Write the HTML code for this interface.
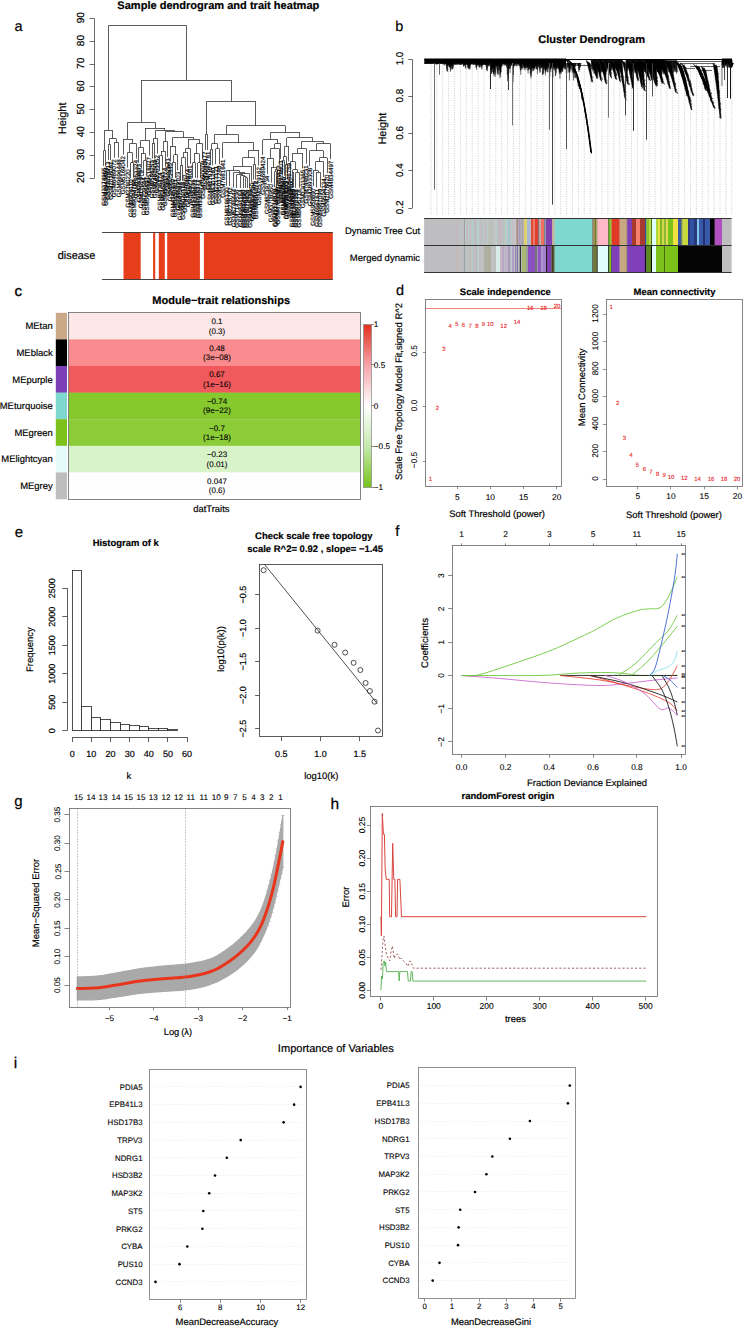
<!DOCTYPE html>
<html><head><meta charset="utf-8"><style>
html,body{margin:0;padding:0;background:#fff;}
svg{display:block;}
text{font-family:"Liberation Sans", sans-serif;text-rendering:geometricPrecision;}
</style></head><body>
<svg width="745" height="1327" viewBox="0 0 745 1327">
<rect x="0" y="0" width="745" height="1327" fill="#fff"/>
<path d="M103.50,150.50L105.77,150.50M103.50,150.74L103.50,166.02M105.50,150.74L105.50,166.02M108.17,144.50L110.57,144.50M108.50,144.78L108.50,160.05M110.50,144.78L110.50,160.05M114.00,142.50L118.50,142.50M114.50,142.41L114.50,157.68M118.50,142.41L118.50,157.68M109.37,138.50L116.25,138.50M109.50,138.66L109.50,144.78M116.50,138.66L116.50,142.41M104.64,130.50L112.81,130.50M104.50,130.22L104.50,150.74M112.50,130.22L112.50,138.66M130.89,162.50L133.46,162.50M130.50,162.52L130.50,177.80M133.50,162.52L133.50,177.80M127.50,152.50L132.17,152.50M127.50,152.42L127.50,167.70M132.50,152.42L132.50,162.52M129.84,143.50L136.03,143.50M129.50,143.35L129.50,152.42M136.50,143.35L136.50,158.62M123.00,139.50L132.93,139.50M123.50,139.34L123.50,154.62M132.50,139.34L132.50,143.35M143.85,160.50L146.59,160.50M143.50,160.39L143.50,175.67M146.50,160.39L146.50,175.67M141.17,153.50L145.22,153.50M141.50,153.34L141.50,168.61M145.50,153.34L145.50,160.39M138.60,147.50L143.20,147.50M138.50,147.37L138.50,162.65M143.50,147.37L143.50,153.34M140.90,140.50L149.32,140.50M140.50,140.25L140.50,147.37M149.50,140.25L149.50,155.53M152.06,143.50L154.79,143.50M152.50,143.32L152.50,158.60M154.50,143.32L154.50,158.60M153.43,138.50L157.38,138.50M153.50,138.20L153.50,143.32M157.50,138.20L157.50,153.48M159.93,155.50L162.47,155.50M159.50,155.57L159.50,170.85M162.50,155.57L162.50,170.85M161.20,151.50L165.02,151.50M161.50,151.03L161.50,155.57M165.50,151.03L165.50,166.30M163.11,141.50L167.57,141.50M163.50,141.62L163.50,151.03M167.50,141.62L167.50,156.90M172.66,162.50L175.20,162.50M172.50,162.38L172.50,177.66M175.50,162.38L175.50,177.66M173.93,154.50L177.75,154.50M173.50,155.00L173.50,162.38M177.50,155.00L177.50,170.27M170.11,146.50L175.84,146.50M170.50,146.18L170.50,161.46M175.50,146.18L175.50,155.00M180.30,165.50L182.84,165.50M180.50,165.29L180.50,180.57M182.50,165.29L182.50,180.57M181.57,157.50L185.39,157.50M181.50,157.69L181.50,165.29M185.50,157.69L185.50,172.97M183.48,152.50L187.89,152.50M183.50,152.32L183.50,157.69M187.50,152.32L187.50,167.60M185.69,148.50L190.37,148.50M185.50,148.46L185.50,152.32M190.50,148.46L190.50,163.74M192.84,162.50L195.32,162.50M192.50,162.61L192.50,177.89M195.50,162.61L195.50,177.89M197.80,162.50L200.27,162.50M197.50,162.92L197.50,178.20M200.50,162.92L200.50,178.20M194.08,153.50L199.04,153.50M194.50,153.59L194.50,162.61M199.50,153.59L199.50,162.92M196.56,143.50L202.75,143.50M196.50,143.90L196.50,153.59M202.50,143.90L202.50,159.18M188.03,139.50L199.65,139.50M188.50,139.34L188.50,148.46M199.50,139.34L199.50,143.90M172.98,137.50L193.84,137.50M172.50,137.29L172.50,146.18M193.50,137.29L193.50,139.34M165.34,131.50L183.41,131.50M165.50,131.82L165.50,141.62M183.50,131.82L183.50,137.29M155.40,130.50L174.37,130.50M155.50,130.45L155.50,138.20M174.50,130.45L174.50,131.82M145.11,128.50L164.89,128.50M145.50,128.17L145.50,140.25M164.50,128.17L164.50,130.45M127.97,122.50L155.00,122.50M127.50,122.24L127.50,139.34M155.50,122.24L155.50,128.17M205.23,134.50L207.73,134.50M205.50,134.78L205.50,150.06M207.50,134.78L207.50,150.06M210.27,149.50L212.80,149.50M210.50,149.92L210.50,165.20M212.50,149.92L212.50,165.20M215.82,148.50L219.36,148.50M215.50,148.90L215.50,164.17M219.50,148.90L219.50,164.17M211.53,143.50L217.59,143.50M211.50,143.90L211.50,149.92M217.50,143.90L217.50,148.90M226.44,170.50L229.96,170.50M226.50,170.57L226.50,185.85M229.50,170.57L229.50,185.85M245.34,177.50L247.39,177.50M245.50,177.98L245.50,188.00M247.50,177.98L247.50,188.00M243.28,176.50L246.36,176.50M243.50,176.84L243.50,188.00M246.50,176.84L246.50,177.98M240.48,175.50L244.82,175.50M240.50,175.70L240.50,188.00M244.50,175.70L244.50,176.84M236.97,174.50L242.65,174.50M236.50,174.56L236.50,188.00M242.50,174.56L242.50,175.70M239.81,173.50L249.44,173.50M239.50,173.42L239.50,174.56M249.50,173.42L249.50,188.00M233.46,172.50L244.62,172.50M233.50,172.28L233.50,187.55M244.50,172.28L244.50,173.42M228.20,170.50L239.04,170.50M228.50,170.46L228.50,170.57M239.50,170.46L239.50,172.28M233.62,166.50L251.49,166.50M233.50,166.28L233.50,170.46M251.50,166.28L251.50,181.56M253.54,164.50L255.59,164.50M253.50,164.34L253.50,179.62M255.50,164.34L255.50,179.62M242.56,157.50L254.57,157.50M242.50,157.80L242.50,166.28M254.50,157.80L254.50,164.34M248.56,150.50L258.88,150.50M248.50,150.21L248.50,157.80M258.50,150.21L258.50,165.49M222.90,142.50L253.72,142.50M222.50,142.76L222.50,158.04M253.50,142.76L253.50,150.21M214.56,134.50L238.31,134.50M214.50,134.55L214.50,143.90M238.50,134.55L238.50,142.76M274.61,171.50L276.20,171.50M274.50,171.85L274.50,187.13M276.50,171.85L276.50,187.13M275.41,169.50L277.80,169.50M275.50,169.42L275.50,171.85M277.50,169.42L277.50,184.70M271.15,167.50L276.60,167.50M271.50,167.36L271.50,182.64M276.50,167.36L276.50,169.42M267.06,158.50L273.88,158.50M267.50,158.94L267.50,174.22M273.50,158.94L273.50,167.36M270.47,148.50L279.40,148.50M270.50,148.78L270.50,158.94M279.50,148.78L279.50,164.06M274.93,143.50L281.00,143.50M274.50,143.84L274.50,148.78M280.50,143.84L280.50,159.11M262.97,139.50L277.97,139.50M262.50,139.80L262.50,155.07M277.50,139.80L277.50,143.84M282.60,160.50L284.19,160.50M282.50,160.34L282.50,175.61M284.50,160.34L284.50,175.61M285.78,164.50L287.36,164.50M285.50,164.28L285.50,179.55M287.50,164.28L287.50,179.55M283.40,156.50L286.57,156.50M283.50,156.34L283.50,160.34M286.50,156.34L286.50,164.28M284.98,146.50L288.95,146.50M284.50,146.18L284.50,156.34M288.50,146.18L288.50,161.46M292.11,172.50L293.69,172.50M292.50,172.18L292.50,187.46M293.50,172.18L293.50,187.46M295.73,172.50L299.20,172.50M295.50,172.58L295.50,187.86M299.50,172.58L299.50,187.86M292.90,169.50L297.47,169.50M292.50,169.80L292.50,172.18M297.50,169.80L297.50,172.58M290.53,161.50L295.18,161.50M290.50,161.61L290.50,176.88M295.50,161.61L295.50,169.80M292.86,153.50L302.68,153.50M292.50,153.10L292.50,161.61M302.50,153.10L302.50,168.38M297.77,148.50L306.16,148.50M297.50,148.46L297.50,153.10M306.50,148.46L306.50,163.74M316.59,172.50L320.07,172.50M316.50,172.12L316.50,187.39M320.50,172.12L320.50,187.39M313.11,170.50L318.33,170.50M313.50,170.81L313.50,186.09M318.50,170.81L318.50,172.12M315.72,161.50L323.55,161.50M315.50,161.61L315.50,170.81M323.50,161.61L323.50,176.88M319.63,157.50L327.02,157.50M319.50,157.77L319.50,161.61M327.50,157.77L327.50,173.05M309.64,150.50L323.33,150.50M309.50,150.92L309.50,166.20M323.50,150.92L323.50,157.77M316.48,143.50L330.50,143.50M316.50,143.90L316.50,150.92M330.50,143.90L330.50,159.18M301.96,141.50L323.49,141.50M301.50,141.16L301.50,148.46M323.50,141.16L323.50,143.90M286.97,137.50L312.73,137.50M286.50,137.97L286.50,146.18M312.50,137.97L312.50,141.16M270.47,132.50L299.85,132.50M270.50,132.50L270.50,139.80M299.50,132.50L299.50,137.97M226.44,125.50L285.16,125.50M226.50,125.66L226.50,134.55M285.50,125.66L285.50,132.50M206.48,101.50L255.80,101.50M206.50,101.49L206.50,134.78M255.50,101.49L255.50,125.66M141.48,80.50L231.14,80.50M141.50,80.06L141.50,122.24M231.50,80.06L231.50,101.49M108.72,25.50L186.31,25.50M108.50,25.34L108.50,130.22M186.50,25.34L186.50,80.06" stroke="#333" stroke-width="0.8" fill="none"/>
<text x="105.60" y="167.52" font-size="6.2" text-anchor="end" fill="#000" stroke="#000" stroke-width="0.15" transform="rotate(-90 105.60 167.52)">GSM3374965</text>
<text x="107.87" y="167.52" font-size="6.2" text-anchor="end" fill="#000" stroke="#000" stroke-width="0.15" transform="rotate(-90 107.87 167.52)">GSM8943893</text>
<text x="110.27" y="161.55" font-size="6.2" text-anchor="end" fill="#000" stroke="#000" stroke-width="0.15" transform="rotate(-90 110.27 161.55)">GSM3018913</text>
<text x="112.67" y="161.55" font-size="6.2" text-anchor="end" fill="#000" stroke="#000" stroke-width="0.15" transform="rotate(-90 112.67 161.55)">GSM2036081</text>
<text x="116.10" y="159.18" font-size="6.2" text-anchor="end" fill="#000" stroke="#000" stroke-width="0.15" transform="rotate(-90 116.10 159.18)">GSM6469072</text>
<text x="120.60" y="159.18" font-size="6.2" text-anchor="end" fill="#000" stroke="#000" stroke-width="0.15" transform="rotate(-90 120.60 159.18)">GSM9696448</text>
<text x="132.99" y="179.30" font-size="6.2" text-anchor="end" fill="#000" stroke="#000" stroke-width="0.15" transform="rotate(-90 132.99 179.30)">GSM9904110</text>
<text x="135.56" y="179.30" font-size="6.2" text-anchor="end" fill="#000" stroke="#000" stroke-width="0.15" transform="rotate(-90 135.56 179.30)">GSM9094788</text>
<text x="129.60" y="169.20" font-size="6.2" text-anchor="end" fill="#000" stroke="#000" stroke-width="0.15" transform="rotate(-90 129.60 169.20)">GSM2780220</text>
<text x="138.13" y="160.12" font-size="6.2" text-anchor="end" fill="#000" stroke="#000" stroke-width="0.15" transform="rotate(-90 138.13 160.12)">GSM1953324</text>
<text x="125.10" y="156.12" font-size="6.2" text-anchor="end" fill="#000" stroke="#000" stroke-width="0.15" transform="rotate(-90 125.10 156.12)">GSM5169042</text>
<text x="145.95" y="177.17" font-size="6.2" text-anchor="end" fill="#000" stroke="#000" stroke-width="0.15" transform="rotate(-90 145.95 177.17)">GSM4209584</text>
<text x="148.69" y="177.17" font-size="6.2" text-anchor="end" fill="#000" stroke="#000" stroke-width="0.15" transform="rotate(-90 148.69 177.17)">GSM5645897</text>
<text x="143.27" y="170.11" font-size="6.2" text-anchor="end" fill="#000" stroke="#000" stroke-width="0.15" transform="rotate(-90 143.27 170.11)">GSM1707979</text>
<text x="140.70" y="164.15" font-size="6.2" text-anchor="end" fill="#000" stroke="#000" stroke-width="0.15" transform="rotate(-90 140.70 164.15)">GSM2639893</text>
<text x="151.42" y="157.03" font-size="6.2" text-anchor="end" fill="#000" stroke="#000" stroke-width="0.15" transform="rotate(-90 151.42 157.03)">GSM9518027</text>
<text x="154.16" y="160.10" font-size="6.2" text-anchor="end" fill="#000" stroke="#000" stroke-width="0.15" transform="rotate(-90 154.16 160.10)">GSM8586253</text>
<text x="156.89" y="160.10" font-size="6.2" text-anchor="end" fill="#000" stroke="#000" stroke-width="0.15" transform="rotate(-90 156.89 160.10)">GSM1467509</text>
<text x="159.48" y="154.98" font-size="6.2" text-anchor="end" fill="#000" stroke="#000" stroke-width="0.15" transform="rotate(-90 159.48 154.98)">GSM2063152</text>
<text x="162.03" y="172.35" font-size="6.2" text-anchor="end" fill="#000" stroke="#000" stroke-width="0.15" transform="rotate(-90 162.03 172.35)">GSM8436474</text>
<text x="164.57" y="172.35" font-size="6.2" text-anchor="end" fill="#000" stroke="#000" stroke-width="0.15" transform="rotate(-90 164.57 172.35)">GSM6462890</text>
<text x="167.12" y="167.80" font-size="6.2" text-anchor="end" fill="#000" stroke="#000" stroke-width="0.15" transform="rotate(-90 167.12 167.80)">GSM9481774</text>
<text x="169.67" y="158.40" font-size="6.2" text-anchor="end" fill="#000" stroke="#000" stroke-width="0.15" transform="rotate(-90 169.67 158.40)">GSM9592643</text>
<text x="174.76" y="179.16" font-size="6.2" text-anchor="end" fill="#000" stroke="#000" stroke-width="0.15" transform="rotate(-90 174.76 179.16)">GSM4345430</text>
<text x="177.30" y="179.16" font-size="6.2" text-anchor="end" fill="#000" stroke="#000" stroke-width="0.15" transform="rotate(-90 177.30 179.16)">GSM5650401</text>
<text x="179.85" y="171.77" font-size="6.2" text-anchor="end" fill="#000" stroke="#000" stroke-width="0.15" transform="rotate(-90 179.85 171.77)">GSM8589103</text>
<text x="172.21" y="162.96" font-size="6.2" text-anchor="end" fill="#000" stroke="#000" stroke-width="0.15" transform="rotate(-90 172.21 162.96)">GSM9525445</text>
<text x="182.40" y="182.07" font-size="6.2" text-anchor="end" fill="#000" stroke="#000" stroke-width="0.15" transform="rotate(-90 182.40 182.07)">GSM9947044</text>
<text x="184.94" y="182.07" font-size="6.2" text-anchor="end" fill="#000" stroke="#000" stroke-width="0.15" transform="rotate(-90 184.94 182.07)">GSM9020118</text>
<text x="187.49" y="174.47" font-size="6.2" text-anchor="end" fill="#000" stroke="#000" stroke-width="0.15" transform="rotate(-90 187.49 174.47)">GSM9518662</text>
<text x="189.99" y="169.10" font-size="6.2" text-anchor="end" fill="#000" stroke="#000" stroke-width="0.15" transform="rotate(-90 189.99 169.10)">GSM5154974</text>
<text x="192.47" y="165.24" font-size="6.2" text-anchor="end" fill="#000" stroke="#000" stroke-width="0.15" transform="rotate(-90 192.47 165.24)">GSM9778001</text>
<text x="194.94" y="179.39" font-size="6.2" text-anchor="end" fill="#000" stroke="#000" stroke-width="0.15" transform="rotate(-90 194.94 179.39)">GSM5355235</text>
<text x="197.42" y="179.39" font-size="6.2" text-anchor="end" fill="#000" stroke="#000" stroke-width="0.15" transform="rotate(-90 197.42 179.39)">GSM4398871</text>
<text x="199.90" y="179.70" font-size="6.2" text-anchor="end" fill="#000" stroke="#000" stroke-width="0.15" transform="rotate(-90 199.90 179.70)">GSM8508277</text>
<text x="202.37" y="179.70" font-size="6.2" text-anchor="end" fill="#000" stroke="#000" stroke-width="0.15" transform="rotate(-90 202.37 179.70)">GSM3300734</text>
<text x="204.85" y="160.68" font-size="6.2" text-anchor="end" fill="#000" stroke="#000" stroke-width="0.15" transform="rotate(-90 204.85 160.68)">GSM7990009</text>
<text x="207.33" y="151.56" font-size="6.2" text-anchor="end" fill="#000" stroke="#000" stroke-width="0.15" transform="rotate(-90 207.33 151.56)">GSM3040477</text>
<text x="209.83" y="151.56" font-size="6.2" text-anchor="end" fill="#000" stroke="#000" stroke-width="0.15" transform="rotate(-90 209.83 151.56)">GSM7582781</text>
<text x="212.37" y="166.70" font-size="6.2" text-anchor="end" fill="#000" stroke="#000" stroke-width="0.15" transform="rotate(-90 212.37 166.70)">GSM8417510</text>
<text x="214.90" y="166.70" font-size="6.2" text-anchor="end" fill="#000" stroke="#000" stroke-width="0.15" transform="rotate(-90 214.90 166.70)">GSM6301261</text>
<text x="217.92" y="165.67" font-size="6.2" text-anchor="end" fill="#000" stroke="#000" stroke-width="0.15" transform="rotate(-90 217.92 165.67)">GSM2217121</text>
<text x="221.46" y="165.67" font-size="6.2" text-anchor="end" fill="#000" stroke="#000" stroke-width="0.15" transform="rotate(-90 221.46 165.67)">GSM5037248</text>
<text x="228.54" y="187.35" font-size="6.2" text-anchor="end" fill="#000" stroke="#000" stroke-width="0.15" transform="rotate(-90 228.54 187.35)">GSM8186330</text>
<text x="232.06" y="187.35" font-size="6.2" text-anchor="end" fill="#000" stroke="#000" stroke-width="0.15" transform="rotate(-90 232.06 187.35)">GSM2226762</text>
<text x="247.44" y="189.50" font-size="6.2" text-anchor="end" fill="#000" stroke="#000" stroke-width="0.15" transform="rotate(-90 247.44 189.50)">GSM4568342</text>
<text x="249.49" y="189.50" font-size="6.2" text-anchor="end" fill="#000" stroke="#000" stroke-width="0.15" transform="rotate(-90 249.49 189.50)">GSM6079806</text>
<text x="245.38" y="189.50" font-size="6.2" text-anchor="end" fill="#000" stroke="#000" stroke-width="0.15" transform="rotate(-90 245.38 189.50)">GSM3052690</text>
<text x="242.58" y="189.50" font-size="6.2" text-anchor="end" fill="#000" stroke="#000" stroke-width="0.15" transform="rotate(-90 242.58 189.50)">GSM3591184</text>
<text x="239.07" y="189.50" font-size="6.2" text-anchor="end" fill="#000" stroke="#000" stroke-width="0.15" transform="rotate(-90 239.07 189.50)">GSM7143536</text>
<text x="251.54" y="189.50" font-size="6.2" text-anchor="end" fill="#000" stroke="#000" stroke-width="0.15" transform="rotate(-90 251.54 189.50)">GSM3398789</text>
<text x="235.56" y="189.05" font-size="6.2" text-anchor="end" fill="#000" stroke="#000" stroke-width="0.15" transform="rotate(-90 235.56 189.05)">GSM5246444</text>
<text x="253.59" y="183.06" font-size="6.2" text-anchor="end" fill="#000" stroke="#000" stroke-width="0.15" transform="rotate(-90 253.59 183.06)">GSM3302750</text>
<text x="255.64" y="181.12" font-size="6.2" text-anchor="end" fill="#000" stroke="#000" stroke-width="0.15" transform="rotate(-90 255.64 181.12)">GSM8847305</text>
<text x="257.69" y="181.12" font-size="6.2" text-anchor="end" fill="#000" stroke="#000" stroke-width="0.15" transform="rotate(-90 257.69 181.12)">GSM4684072</text>
<text x="260.98" y="166.99" font-size="6.2" text-anchor="end" fill="#000" stroke="#000" stroke-width="0.15" transform="rotate(-90 260.98 166.99)">GSM2579162</text>
<text x="225.00" y="159.54" font-size="6.2" text-anchor="end" fill="#000" stroke="#000" stroke-width="0.15" transform="rotate(-90 225.00 159.54)">GSM7681641</text>
<text x="276.71" y="188.63" font-size="6.2" text-anchor="end" fill="#000" stroke="#000" stroke-width="0.15" transform="rotate(-90 276.71 188.63)">GSM9174879</text>
<text x="278.30" y="188.63" font-size="6.2" text-anchor="end" fill="#000" stroke="#000" stroke-width="0.15" transform="rotate(-90 278.30 188.63)">GSM3731249</text>
<text x="279.90" y="186.20" font-size="6.2" text-anchor="end" fill="#000" stroke="#000" stroke-width="0.15" transform="rotate(-90 279.90 186.20)">GSM4753267</text>
<text x="273.25" y="184.14" font-size="6.2" text-anchor="end" fill="#000" stroke="#000" stroke-width="0.15" transform="rotate(-90 273.25 184.14)">GSM3708950</text>
<text x="269.16" y="175.72" font-size="6.2" text-anchor="end" fill="#000" stroke="#000" stroke-width="0.15" transform="rotate(-90 269.16 175.72)">GSM8239734</text>
<text x="281.50" y="165.56" font-size="6.2" text-anchor="end" fill="#000" stroke="#000" stroke-width="0.15" transform="rotate(-90 281.50 165.56)">GSM9650417</text>
<text x="283.10" y="160.61" font-size="6.2" text-anchor="end" fill="#000" stroke="#000" stroke-width="0.15" transform="rotate(-90 283.10 160.61)">GSM7774803</text>
<text x="265.07" y="156.57" font-size="6.2" text-anchor="end" fill="#000" stroke="#000" stroke-width="0.15" transform="rotate(-90 265.07 156.57)">GSM6689424</text>
<text x="284.70" y="177.11" font-size="6.2" text-anchor="end" fill="#000" stroke="#000" stroke-width="0.15" transform="rotate(-90 284.70 177.11)">GSM8067846</text>
<text x="286.29" y="177.11" font-size="6.2" text-anchor="end" fill="#000" stroke="#000" stroke-width="0.15" transform="rotate(-90 286.29 177.11)">GSM4284050</text>
<text x="287.88" y="181.05" font-size="6.2" text-anchor="end" fill="#000" stroke="#000" stroke-width="0.15" transform="rotate(-90 287.88 181.05)">GSM6983003</text>
<text x="289.46" y="181.05" font-size="6.2" text-anchor="end" fill="#000" stroke="#000" stroke-width="0.15" transform="rotate(-90 289.46 181.05)">GSM6343972</text>
<text x="291.05" y="162.96" font-size="6.2" text-anchor="end" fill="#000" stroke="#000" stroke-width="0.15" transform="rotate(-90 291.05 162.96)">GSM2546759</text>
<text x="294.21" y="188.96" font-size="6.2" text-anchor="end" fill="#000" stroke="#000" stroke-width="0.15" transform="rotate(-90 294.21 188.96)">GSM7139664</text>
<text x="295.79" y="188.96" font-size="6.2" text-anchor="end" fill="#000" stroke="#000" stroke-width="0.15" transform="rotate(-90 295.79 188.96)">GSM1326869</text>
<text x="297.83" y="189.36" font-size="6.2" text-anchor="end" fill="#000" stroke="#000" stroke-width="0.15" transform="rotate(-90 297.83 189.36)">GSM6670358</text>
<text x="301.30" y="189.36" font-size="6.2" text-anchor="end" fill="#000" stroke="#000" stroke-width="0.15" transform="rotate(-90 301.30 189.36)">GSM8695218</text>
<text x="292.63" y="178.38" font-size="6.2" text-anchor="end" fill="#000" stroke="#000" stroke-width="0.15" transform="rotate(-90 292.63 178.38)">GSM8389660</text>
<text x="304.78" y="169.88" font-size="6.2" text-anchor="end" fill="#000" stroke="#000" stroke-width="0.15" transform="rotate(-90 304.78 169.88)">GSM1303365</text>
<text x="308.26" y="165.24" font-size="6.2" text-anchor="end" fill="#000" stroke="#000" stroke-width="0.15" transform="rotate(-90 308.26 165.24)">GSM7448231</text>
<text x="318.69" y="188.89" font-size="6.2" text-anchor="end" fill="#000" stroke="#000" stroke-width="0.15" transform="rotate(-90 318.69 188.89)">GSM6561611</text>
<text x="322.17" y="188.89" font-size="6.2" text-anchor="end" fill="#000" stroke="#000" stroke-width="0.15" transform="rotate(-90 322.17 188.89)">GSM9681099</text>
<text x="315.21" y="187.59" font-size="6.2" text-anchor="end" fill="#000" stroke="#000" stroke-width="0.15" transform="rotate(-90 315.21 187.59)">GSM5956897</text>
<text x="325.65" y="178.38" font-size="6.2" text-anchor="end" fill="#000" stroke="#000" stroke-width="0.15" transform="rotate(-90 325.65 178.38)">GSM9594334</text>
<text x="329.12" y="174.55" font-size="6.2" text-anchor="end" fill="#000" stroke="#000" stroke-width="0.15" transform="rotate(-90 329.12 174.55)">GSM2078620</text>
<text x="311.74" y="167.70" font-size="6.2" text-anchor="end" fill="#000" stroke="#000" stroke-width="0.15" transform="rotate(-90 311.74 167.70)">GSM2893308</text>
<text x="332.60" y="160.68" font-size="6.2" text-anchor="end" fill="#000" stroke="#000" stroke-width="0.15" transform="rotate(-90 332.60 160.68)">GSM4834497</text>
<line x1="94.50" y1="18.50" x2="94.50" y2="178.20" stroke="#444" stroke-width="0.8"/>
<line x1="89.50" y1="178.50" x2="94.50" y2="178.50" stroke="#444" stroke-width="0.8"/>
<text x="84.25" y="177.30" font-size="10.2" text-anchor="middle" font-weight="normal" fill="#000" transform="rotate(-90 84.25 177.30)" stroke="#000" stroke-width="0.18">20</text>
<line x1="89.50" y1="155.50" x2="94.50" y2="155.50" stroke="#444" stroke-width="0.8"/>
<text x="84.25" y="154.50" font-size="10.2" text-anchor="middle" font-weight="normal" fill="#000" transform="rotate(-90 84.25 154.50)" stroke="#000" stroke-width="0.18">30</text>
<line x1="89.50" y1="132.50" x2="94.50" y2="132.50" stroke="#444" stroke-width="0.8"/>
<text x="84.25" y="131.70" font-size="10.2" text-anchor="middle" font-weight="normal" fill="#000" transform="rotate(-90 84.25 131.70)" stroke="#000" stroke-width="0.18">40</text>
<line x1="89.50" y1="109.50" x2="94.50" y2="109.50" stroke="#444" stroke-width="0.8"/>
<text x="84.25" y="108.90" font-size="10.2" text-anchor="middle" font-weight="normal" fill="#000" transform="rotate(-90 84.25 108.90)" stroke="#000" stroke-width="0.18">50</text>
<line x1="89.50" y1="86.50" x2="94.50" y2="86.50" stroke="#444" stroke-width="0.8"/>
<text x="84.25" y="86.10" font-size="10.2" text-anchor="middle" font-weight="normal" fill="#000" transform="rotate(-90 84.25 86.10)" stroke="#000" stroke-width="0.18">60</text>
<line x1="89.50" y1="64.50" x2="94.50" y2="64.50" stroke="#444" stroke-width="0.8"/>
<text x="84.25" y="63.30" font-size="10.2" text-anchor="middle" font-weight="normal" fill="#000" transform="rotate(-90 84.25 63.30)" stroke="#000" stroke-width="0.18">70</text>
<line x1="89.50" y1="41.50" x2="94.50" y2="41.50" stroke="#444" stroke-width="0.8"/>
<text x="84.25" y="40.50" font-size="10.2" text-anchor="middle" font-weight="normal" fill="#000" transform="rotate(-90 84.25 40.50)" stroke="#000" stroke-width="0.18">80</text>
<line x1="89.50" y1="18.50" x2="94.50" y2="18.50" stroke="#444" stroke-width="0.8"/>
<text x="84.25" y="17.70" font-size="10.2" text-anchor="middle" font-weight="normal" fill="#000" transform="rotate(-90 84.25 17.70)" stroke="#000" stroke-width="0.18">90</text>
<text x="66.34" y="118.40" font-size="11.0" text-anchor="middle" font-weight="normal" fill="#000" transform="rotate(-90 66.34 118.40)" stroke="#000" stroke-width="0.18">Height</text>
<text x="218.30" y="8.70" font-size="11.06" text-anchor="middle" font-weight="bold" fill="#000" stroke="#000" stroke-width="0.18">Sample dendrogram and trait heatmap</text>
<text x="18.50" y="31.20" font-size="14.5" text-anchor="middle" font-weight="normal" fill="#000" stroke="#000" stroke-width="0.18">a</text>
<rect x="123.50" y="232.30" width="17.20" height="47.30" fill="#E63D1B" stroke="none" stroke-width="1"/>
<rect x="153.10" y="232.30" width="2.10" height="47.30" fill="#E63D1B" stroke="none" stroke-width="1"/>
<rect x="158.80" y="232.30" width="6.00" height="47.30" fill="#E63D1B" stroke="none" stroke-width="1"/>
<rect x="167.20" y="232.30" width="32.70" height="47.30" fill="#E63D1B" stroke="none" stroke-width="1"/>
<rect x="203.90" y="232.30" width="128.90" height="47.30" fill="#E63D1B" stroke="none" stroke-width="1"/>
<line x1="102.00" y1="232.50" x2="332.80" y2="232.50" stroke="#333" stroke-width="0.9"/>
<line x1="102.00" y1="279.50" x2="332.80" y2="279.50" stroke="#333" stroke-width="0.9"/>
<text x="95.40" y="258.62" font-size="10.94" text-anchor="end" font-weight="normal" fill="#000" stroke="#000" stroke-width="0.18">disease</text>
<path d="M430.90,64L430.90,215.5M436.80,64L436.80,215.5M442.70,64L442.70,215.5M448.60,64L448.60,215.5M454.50,64L454.50,215.5M460.40,64L460.40,215.5M466.30,64L466.30,215.5M472.20,64L472.20,215.5M478.10,64L478.10,215.5M484.00,64L484.00,215.5M489.90,64L489.90,215.5M495.80,64L495.80,215.5M501.70,64L501.70,215.5M507.60,64L507.60,215.5M513.50,64L513.50,215.5M519.40,64L519.40,215.5M525.30,64L525.30,215.5M531.20,64L531.20,215.5M537.10,64L537.10,215.5M543.00,64L543.00,215.5M548.90,64L548.90,215.5M554.80,64L554.80,215.5M560.70,64L560.70,215.5M566.60,64L566.60,215.5M572.50,64L572.50,215.5M578.40,64L578.40,215.5M584.30,64L584.30,215.5M590.20,64L590.20,215.5M596.10,64L596.10,215.5M602.00,64L602.00,215.5M607.90,64L607.90,215.5M613.80,64L613.80,215.5M619.70,64L619.70,215.5M625.60,64L625.60,215.5M631.50,64L631.50,215.5M637.40,64L637.40,215.5M643.30,64L643.30,215.5M649.20,64L649.20,215.5M655.10,64L655.10,215.5M661.00,64L661.00,215.5M666.90,64L666.90,215.5M672.80,64L672.80,215.5M678.70,64L678.70,215.5M684.60,64L684.60,215.5M690.50,64L690.50,215.5M696.40,64L696.40,215.5M702.30,64L702.30,215.5M708.20,64L708.20,215.5M714.10,64L714.10,215.5M720.00,64L720.00,215.5M725.90,64L725.90,215.5M731.80,64L731.80,215.5" stroke="#aaaaaa" stroke-width="0.6" stroke-dasharray="1,1.4" fill="none"/>
<line x1="412.50" y1="59.30" x2="412.50" y2="208.10" stroke="#444" stroke-width="0.8"/>
<line x1="408.30" y1="208.50" x2="412.30" y2="208.50" stroke="#444" stroke-width="0.8"/>
<text x="402.54" y="207.30" font-size="9.9" text-anchor="middle" font-weight="normal" fill="#000" transform="rotate(-90 402.54 207.30)" stroke="#000" stroke-width="0.18">0.2</text>
<line x1="408.30" y1="170.50" x2="412.30" y2="170.50" stroke="#444" stroke-width="0.8"/>
<text x="402.54" y="170.10" font-size="9.9" text-anchor="middle" font-weight="normal" fill="#000" transform="rotate(-90 402.54 170.10)" stroke="#000" stroke-width="0.18">0.4</text>
<line x1="408.30" y1="133.50" x2="412.30" y2="133.50" stroke="#444" stroke-width="0.8"/>
<text x="402.54" y="132.90" font-size="9.9" text-anchor="middle" font-weight="normal" fill="#000" transform="rotate(-90 402.54 132.90)" stroke="#000" stroke-width="0.18">0.6</text>
<line x1="408.30" y1="96.50" x2="412.30" y2="96.50" stroke="#444" stroke-width="0.8"/>
<text x="402.54" y="95.70" font-size="9.9" text-anchor="middle" font-weight="normal" fill="#000" transform="rotate(-90 402.54 95.70)" stroke="#000" stroke-width="0.18">0.8</text>
<line x1="408.30" y1="59.50" x2="412.30" y2="59.50" stroke="#444" stroke-width="0.8"/>
<text x="402.54" y="58.50" font-size="9.9" text-anchor="middle" font-weight="normal" fill="#000" transform="rotate(-90 402.54 58.50)" stroke="#000" stroke-width="0.18">1.0</text>
<text x="385.64" y="128.70" font-size="11.0" text-anchor="middle" font-weight="normal" fill="#000" transform="rotate(-90 385.64 128.70)" stroke="#000" stroke-width="0.18">Height</text>
<text x="591.70" y="43.20" font-size="11.06" text-anchor="middle" font-weight="bold" fill="#000" stroke="#000" stroke-width="0.18">Cluster Dendrogram</text>
<text x="399.20" y="31.20" font-size="14.5" text-anchor="middle" font-weight="normal" fill="#000" stroke="#000" stroke-width="0.18">b</text>
<rect x="424.30" y="58.50" width="141.70" height="5.30" fill="#000" stroke="none" stroke-width="1"/>
<rect x="722.00" y="58.50" width="10.00" height="5.30" fill="#000" stroke="none" stroke-width="1"/>
<line x1="424.30" y1="59.50" x2="732.00" y2="59.50" stroke="#000" stroke-width="1.0"/>
<line x1="574.00" y1="65.50" x2="592.00" y2="65.50" stroke="#222" stroke-width="0.7"/>
<line x1="655.00" y1="61.50" x2="722.00" y2="61.50" stroke="#222" stroke-width="0.7"/>
<line x1="680.00" y1="63.50" x2="715.00" y2="63.50" stroke="#222" stroke-width="0.7"/>
<line x1="685.00" y1="68.50" x2="695.00" y2="68.50" stroke="#222" stroke-width="0.7"/>
<line x1="700.00" y1="70.50" x2="712.00" y2="70.50" stroke="#222" stroke-width="0.7"/>
<line x1="690.00" y1="66.50" x2="720.00" y2="66.50" stroke="#222" stroke-width="0.7"/>
<path d="M565.58,59.30 L566.42,59.35 L567.26,59.54 L568.10,59.88 L568.94,60.40 L569.78,61.10 L570.62,61.99 L571.46,63.07 L572.30,64.36 L573.14,65.86 L573.98,67.57 L574.82,69.50 L575.66,71.65 L576.50,74.03 L577.34,76.63 L578.18,79.48 L579.02,82.55 L579.86,85.87 L580.70,89.43 L581.54,93.24 L582.38,97.29 L583.22,101.60 L584.06,106.15 L584.90,110.97 L585.74,116.04 L586.58,121.37 L587.42,126.96 L588.26,132.82 L589.10,138.95 L589.94,145.34 L590.78,152.00" stroke="#000" stroke-width="1.0" fill="none" stroke-linejoin="round"/>
<path d="M566.00,60.00 L566.84,60.05 L567.68,60.24 L568.52,60.58 L569.36,61.10 L570.20,61.80 L571.04,62.69 L571.88,63.77 L572.72,65.06 L573.56,66.56 L574.40,68.27 L575.24,70.20 L576.08,72.35 L576.92,74.73 L577.76,77.33 L578.60,80.18 L579.44,83.25 L580.28,86.57 L581.12,90.13 L581.96,93.94 L582.80,97.99 L583.64,102.30 L584.48,106.85 L585.32,111.67 L586.16,116.74 L587.00,122.07 L587.84,127.66 L588.68,133.52 L589.52,139.65 L590.36,146.04 L591.20,152.70" stroke="#000" stroke-width="1.0" fill="none" stroke-linejoin="round"/>
<path d="M566.42,60.70 L567.26,60.75 L568.10,60.94 L568.94,61.28 L569.78,61.80 L570.62,62.50 L571.46,63.39 L572.30,64.47 L573.14,65.76 L573.98,67.26 L574.82,68.97 L575.66,70.90 L576.50,73.05 L577.34,75.43 L578.18,78.03 L579.02,80.88 L579.86,83.95 L580.70,87.27 L581.54,90.83 L582.38,94.64 L583.22,98.69 L584.06,103.00 L584.90,107.55 L585.74,112.37 L586.58,117.44 L587.42,122.77 L588.26,128.36 L589.10,134.22 L589.94,140.35 L590.78,146.74 L591.62,153.40" stroke="#000" stroke-width="1.0" fill="none" stroke-linejoin="round"/>
<path d="M565.92,60.00 L566.61,60.04 L567.30,60.19 L568.00,60.45 L568.69,60.85 L569.38,61.39 L570.08,62.07 L570.77,62.91 L571.46,63.91 L572.16,65.06 L572.85,66.38 L573.54,67.87 L574.24,69.53 L574.93,71.37 L575.62,73.38 L576.32,75.57 L577.01,77.95 L577.70,80.51 L578.39,83.26 L579.09,86.20 L579.78,89.33" stroke="#000" stroke-width="0.9" fill="none" stroke-linejoin="round"/>
<path d="M564.03,60.00 L564.40,60.01 L564.77,60.06 L565.14,60.14 L565.51,60.27 L565.88,60.44 L566.25,60.66 L566.62,60.92 L566.99,61.24 L567.36,61.60 L567.73,62.02 L568.10,62.49 L568.47,63.01 L568.84,63.60 L569.21,64.23 L569.58,64.93 L569.95,65.68 L570.32,66.49 L570.69,67.36 L571.06,68.29 L571.43,69.27" stroke="#000" stroke-width="0.9" fill="none" stroke-linejoin="round"/>
<path d="M586.11,60.46 L586.33,60.92 L586.56,61.51 L586.78,62.16 L587.01,62.86 L587.24,63.59 L587.46,64.35 L587.68,65.14 L587.91,65.94 L588.13,66.77 L588.36,67.62 L588.59,68.49 L588.81,69.37 L589.03,70.26 L589.26,71.17 L589.49,72.09 L589.71,73.02 L589.94,73.97 L590.16,74.92 L590.38,75.89 L590.61,76.86 L590.84,77.85 L591.06,78.84 L591.29,79.85 L591.51,80.86 L592.49,81.63 L592.38,80.71 L592.27,79.80 L592.16,78.89 L592.06,78.00 L591.95,77.12 L591.84,76.24 L591.73,75.38 L591.62,74.52 L591.51,73.68 L591.41,72.85 L591.30,72.04 L591.19,71.24 L591.08,70.45 L590.97,69.67 L590.87,68.92 L590.76,68.18 L590.65,67.46 L590.54,66.77 L590.43,66.10 L590.32,65.46 L590.22,64.85 L590.11,64.29 L590.00,63.80 L589.89,63.43Z" fill="#000" stroke="#000" stroke-width="0.5"/>
<path d="M590.76,60.36 L591.00,60.76 L591.24,61.26 L591.48,61.82 L591.72,62.42 L591.96,63.05 L592.20,63.71 L592.44,64.38 L592.68,65.08 L592.92,65.79 L593.16,66.51 L593.40,67.26 L593.63,68.01 L593.87,68.78 L594.11,69.55 L594.35,70.34 L594.59,71.14 L594.83,71.95 L595.07,72.77 L595.31,73.60 L595.55,74.44 L595.79,75.28 L596.03,76.13 L596.27,76.99 L596.51,77.86 L597.49,78.63 L597.40,77.88 L597.30,77.13 L597.21,76.39 L597.12,75.66 L597.02,74.94 L596.93,74.23 L596.83,73.53 L596.74,72.83 L596.65,72.15 L596.55,71.47 L596.46,70.81 L596.37,70.15 L596.27,69.51 L596.18,68.89 L596.08,68.28 L595.99,67.68 L595.90,67.10 L595.80,66.54 L595.71,66.00 L595.62,65.49 L595.52,65.00 L595.43,64.55 L595.33,64.16 L595.24,63.88Z" fill="#000" stroke="#000" stroke-width="0.5"/>
<path d="M594.76,60.36 L595.00,60.80 L595.24,61.36 L595.48,61.99 L595.72,62.66 L595.96,63.36 L596.20,64.08 L596.44,64.84 L596.68,65.61 L596.92,66.40 L597.16,67.21 L597.40,68.04 L597.63,68.88 L597.87,69.73 L598.11,70.60 L598.35,71.48 L598.59,72.37 L598.83,73.28 L599.07,74.19 L599.31,75.11 L599.55,76.04 L599.79,76.98 L600.03,77.93 L600.27,78.89 L600.51,79.86 L601.49,80.63 L601.40,79.78 L601.30,78.93 L601.21,78.10 L601.12,77.27 L601.02,76.45 L600.93,75.65 L600.83,74.85 L600.74,74.06 L600.65,73.28 L600.55,72.52 L600.46,71.77 L600.37,71.03 L600.27,70.30 L600.18,69.59 L600.08,68.89 L599.99,68.21 L599.90,67.56 L599.80,66.92 L599.71,66.30 L599.62,65.72 L599.52,65.17 L599.43,64.66 L599.33,64.21 L599.24,63.88Z" fill="#000" stroke="#000" stroke-width="0.5"/>
<path d="M599.41,60.26 L599.66,60.77 L599.92,61.43 L600.17,62.15 L600.43,62.92 L600.68,63.73 L600.93,64.58 L601.19,65.45 L601.44,66.35 L601.70,67.27 L601.95,68.20 L602.21,69.16 L602.46,70.14 L602.71,71.13 L602.97,72.13 L603.22,73.15 L603.48,74.18 L603.73,75.23 L603.99,76.29 L604.24,77.36 L604.49,78.44 L604.75,79.53 L605.00,80.63 L605.26,81.74 L605.51,82.86 L606.49,83.63 L606.41,82.65 L606.33,81.67 L606.25,80.71 L606.17,79.76 L606.09,78.81 L606.01,77.88 L605.94,76.96 L605.86,76.05 L605.78,75.16 L605.70,74.28 L605.62,73.41 L605.54,72.56 L605.46,71.72 L605.38,70.90 L605.30,70.10 L605.22,69.32 L605.14,68.56 L605.07,67.82 L604.99,67.12 L604.91,66.44 L604.83,65.81 L604.75,65.22 L604.67,64.70 L604.59,64.33Z" fill="#000" stroke="#000" stroke-width="0.5"/>
<path d="M604.76,60.36 L605.00,60.73 L605.24,61.21 L605.48,61.74 L605.72,62.31 L605.96,62.90 L606.20,63.52 L606.44,64.15 L606.68,64.81 L606.92,65.48 L607.16,66.16 L607.40,66.86 L607.63,67.57 L607.87,68.30 L608.11,69.03 L608.35,69.78 L608.59,70.53 L608.83,71.29 L609.07,72.06 L609.31,72.84 L609.55,73.63 L609.79,74.43 L610.03,75.23 L610.27,76.04 L610.51,76.86 L611.49,77.63 L611.40,76.93 L611.30,76.23 L611.21,75.54 L611.12,74.86 L611.02,74.19 L610.93,73.52 L610.83,72.86 L610.74,72.22 L610.65,71.58 L610.55,70.95 L610.46,70.33 L610.37,69.72 L610.27,69.12 L610.18,68.54 L610.08,67.97 L609.99,67.41 L609.90,66.87 L609.80,66.35 L609.71,65.85 L609.62,65.37 L609.52,64.92 L609.43,64.50 L609.33,64.14 L609.24,63.88Z" fill="#000" stroke="#000" stroke-width="0.5"/>
<path d="M609.76,60.36 L610.00,60.78 L610.24,61.31 L610.48,61.91 L610.72,62.54 L610.96,63.20 L611.20,63.90 L611.44,64.61 L611.68,65.34 L611.92,66.10 L612.16,66.86 L612.40,67.65 L612.63,68.44 L612.87,69.26 L613.11,70.08 L613.35,70.91 L613.59,71.76 L613.83,72.61 L614.07,73.48 L614.31,74.36 L614.55,75.24 L614.79,76.13 L615.03,77.03 L615.27,77.94 L615.51,78.86 L616.49,79.63 L616.40,78.83 L616.30,78.03 L616.21,77.25 L616.12,76.47 L616.02,75.70 L615.93,74.94 L615.83,74.19 L615.74,73.45 L615.65,72.71 L615.55,71.99 L615.46,71.29 L615.37,70.59 L615.27,69.91 L615.18,69.24 L615.08,68.58 L614.99,67.95 L614.90,67.33 L614.80,66.73 L614.71,66.15 L614.62,65.60 L614.52,65.08 L614.43,64.61 L614.33,64.18 L614.24,63.88Z" fill="#000" stroke="#000" stroke-width="0.5"/>
<path d="M613.76,60.36 L614.00,60.82 L614.24,61.42 L614.48,62.07 L614.72,62.77 L614.96,63.51 L615.20,64.27 L615.44,65.07 L615.68,65.88 L615.92,66.71 L616.16,67.56 L616.40,68.43 L616.63,69.32 L616.87,70.21 L617.11,71.13 L617.35,72.05 L617.59,72.99 L617.83,73.94 L618.07,74.90 L618.31,75.87 L618.55,76.85 L618.79,77.84 L619.03,78.84 L619.27,79.84 L619.51,80.86 L620.49,81.63 L620.40,80.73 L620.30,79.83 L620.21,78.95 L620.12,78.07 L620.02,77.21 L619.93,76.35 L619.83,75.51 L619.74,74.67 L619.65,73.85 L619.55,73.04 L619.46,72.24 L619.37,71.46 L619.27,70.69 L619.18,69.94 L619.08,69.20 L618.99,68.48 L618.90,67.78 L618.80,67.11 L618.71,66.46 L618.62,65.83 L618.52,65.25 L618.43,64.71 L618.33,64.23 L618.24,63.88Z" fill="#000" stroke="#000" stroke-width="0.5"/>
<path d="M621.76,60.36 L622.00,60.89 L622.24,61.57 L622.48,62.32 L622.72,63.12 L622.96,63.97 L623.20,64.84 L623.44,65.75 L623.68,66.68 L623.92,67.64 L624.16,68.61 L624.40,69.61 L624.63,70.62 L624.87,71.65 L625.11,72.70 L625.35,73.76 L625.59,74.83 L625.83,75.92 L626.07,77.02 L626.31,78.13 L626.55,79.26 L626.79,80.39 L627.03,81.54 L627.27,82.69 L627.51,83.86 L628.49,84.63 L628.40,83.58 L628.30,82.54 L628.21,81.51 L628.12,80.49 L628.02,79.48 L627.93,78.48 L627.83,77.49 L627.74,76.52 L627.65,75.56 L627.55,74.61 L627.46,73.68 L627.37,72.77 L627.27,71.87 L627.18,70.99 L627.08,70.12 L626.99,69.28 L626.90,68.47 L626.80,67.68 L626.71,66.91 L626.62,66.18 L626.52,65.50 L626.43,64.86 L626.33,64.29 L626.24,63.88Z" fill="#000" stroke="#000" stroke-width="0.5"/>
<path d="M626.41,60.26 L626.66,60.88 L626.92,61.68 L627.17,62.56 L627.43,63.50 L627.68,64.50 L627.93,65.53 L628.19,66.59 L628.44,67.68 L628.70,68.81 L628.95,69.95 L629.21,71.12 L629.46,72.31 L629.71,73.52 L629.97,74.75 L630.22,76.00 L630.48,77.26 L630.73,78.54 L630.99,79.83 L631.24,81.13 L631.49,82.45 L631.75,83.79 L632.00,85.13 L632.26,86.49 L632.51,87.86 L633.49,88.63 L633.41,87.40 L633.33,86.18 L633.25,84.97 L633.17,83.77 L633.09,82.59 L633.01,81.42 L632.94,80.27 L632.86,79.13 L632.78,78.00 L632.70,76.90 L632.62,75.80 L632.54,74.73 L632.46,73.68 L632.38,72.65 L632.30,71.64 L632.22,70.65 L632.14,69.70 L632.07,68.77 L631.99,67.88 L631.91,67.02 L631.83,66.22 L631.75,65.47 L631.67,64.81 L631.59,64.33Z" fill="#000" stroke="#000" stroke-width="0.5"/>
<path d="M631.76,60.36 L632.00,60.80 L632.24,61.36 L632.48,61.99 L632.72,62.66 L632.96,63.36 L633.20,64.08 L633.44,64.84 L633.68,65.61 L633.92,66.40 L634.16,67.21 L634.40,68.04 L634.63,68.88 L634.87,69.73 L635.11,70.60 L635.35,71.48 L635.59,72.37 L635.83,73.28 L636.07,74.19 L636.31,75.11 L636.55,76.04 L636.79,76.98 L637.03,77.93 L637.27,78.89 L637.51,79.86 L638.49,80.63 L638.40,79.78 L638.30,78.93 L638.21,78.10 L638.12,77.27 L638.02,76.45 L637.93,75.65 L637.83,74.85 L637.74,74.06 L637.65,73.28 L637.55,72.52 L637.46,71.77 L637.37,71.03 L637.27,70.30 L637.18,69.59 L637.08,68.89 L636.99,68.21 L636.90,67.56 L636.80,66.92 L636.71,66.30 L636.62,65.72 L636.52,65.17 L636.43,64.66 L636.33,64.21 L636.24,63.88Z" fill="#000" stroke="#000" stroke-width="0.5"/>
<path d="M635.41,60.26 L635.66,60.86 L635.92,61.63 L636.17,62.48 L636.43,63.39 L636.68,64.34 L636.93,65.34 L637.19,66.36 L637.44,67.42 L637.70,68.50 L637.95,69.60 L638.21,70.73 L638.46,71.88 L638.71,73.04 L638.97,74.23 L639.22,75.43 L639.48,76.64 L639.73,77.87 L639.99,79.12 L640.24,80.38 L640.49,81.65 L640.75,82.94 L641.00,84.23 L641.26,85.54 L641.51,86.86 L642.49,87.63 L642.41,86.45 L642.33,85.28 L642.25,84.12 L642.17,82.97 L642.09,81.84 L642.01,80.71 L641.94,79.61 L641.86,78.51 L641.78,77.43 L641.70,76.37 L641.62,75.33 L641.54,74.30 L641.46,73.29 L641.38,72.30 L641.30,71.33 L641.22,70.39 L641.14,69.47 L641.07,68.58 L640.99,67.73 L640.91,66.91 L640.83,66.14 L640.75,65.42 L640.67,64.79 L640.59,64.33Z" fill="#000" stroke="#000" stroke-width="0.5"/>
<path d="M638.61,60.46 L638.83,61.12 L639.06,61.96 L639.28,62.90 L639.51,63.90 L639.74,64.96 L639.96,66.05 L640.18,67.19 L640.41,68.35 L640.63,69.55 L640.86,70.77 L641.09,72.01 L641.31,73.28 L641.53,74.57 L641.76,75.88 L641.99,77.21 L642.21,78.55 L642.44,79.92 L642.66,81.29 L642.88,82.69 L643.11,84.09 L643.34,85.52 L643.56,86.95 L643.79,88.40 L644.01,89.86 L644.99,90.63 L644.88,89.26 L644.77,87.90 L644.66,86.56 L644.56,85.23 L644.45,83.92 L644.34,82.61 L644.23,81.33 L644.12,80.06 L644.01,78.80 L643.91,77.57 L643.80,76.35 L643.69,75.15 L643.58,73.98 L643.47,72.82 L643.37,71.69 L643.26,70.59 L643.15,69.52 L643.04,68.47 L642.93,67.47 L642.82,66.51 L642.72,65.60 L642.61,64.75 L642.50,63.99 L642.39,63.43Z" fill="#000" stroke="#000" stroke-width="0.5"/>
<path d="M645.76,60.36 L646.00,60.80 L646.24,61.36 L646.48,61.99 L646.72,62.66 L646.96,63.36 L647.20,64.08 L647.44,64.84 L647.68,65.61 L647.92,66.40 L648.16,67.21 L648.40,68.04 L648.63,68.88 L648.87,69.73 L649.11,70.60 L649.35,71.48 L649.59,72.37 L649.83,73.28 L650.07,74.19 L650.31,75.11 L650.55,76.04 L650.79,76.98 L651.03,77.93 L651.27,78.89 L651.51,79.86 L652.49,80.63 L652.40,79.78 L652.30,78.93 L652.21,78.10 L652.12,77.27 L652.02,76.45 L651.93,75.65 L651.83,74.85 L651.74,74.06 L651.65,73.28 L651.55,72.52 L651.46,71.77 L651.37,71.03 L651.27,70.30 L651.18,69.59 L651.08,68.89 L650.99,68.21 L650.90,67.56 L650.80,66.92 L650.71,66.30 L650.62,65.72 L650.52,65.17 L650.43,64.66 L650.33,64.21 L650.24,63.88Z" fill="#000" stroke="#000" stroke-width="0.5"/>
<path d="M650.41,60.26 L650.66,60.81 L650.92,61.53 L651.17,62.31 L651.43,63.16 L651.68,64.04 L651.93,64.96 L652.19,65.91 L652.44,66.88 L652.70,67.88 L652.95,68.90 L653.21,69.95 L653.46,71.01 L653.71,72.08 L653.97,73.18 L654.22,74.29 L654.48,75.41 L654.73,76.55 L654.99,77.70 L655.24,78.87 L655.49,80.04 L655.75,81.23 L656.00,82.43 L656.26,83.64 L656.51,84.86 L657.49,85.63 L657.41,84.55 L657.33,83.48 L657.25,82.41 L657.17,81.36 L657.09,80.33 L657.01,79.30 L656.94,78.28 L656.86,77.28 L656.78,76.30 L656.70,75.32 L656.62,74.37 L656.54,73.43 L656.46,72.50 L656.38,71.60 L656.30,70.71 L656.22,69.85 L656.14,69.01 L656.07,68.20 L655.99,67.42 L655.91,66.68 L655.83,65.97 L655.75,65.32 L655.67,64.75 L655.59,64.33Z" fill="#000" stroke="#000" stroke-width="0.5"/>
<path d="M655.76,60.36 L656.00,60.84 L656.24,61.47 L656.48,62.15 L656.72,62.89 L656.96,63.66 L657.20,64.46 L657.44,65.29 L657.68,66.15 L657.92,67.02 L658.16,67.91 L658.40,68.82 L658.63,69.75 L658.87,70.69 L659.11,71.65 L659.35,72.62 L659.59,73.60 L659.83,74.60 L660.07,75.60 L660.31,76.62 L660.55,77.65 L660.79,78.69 L661.03,79.74 L661.27,80.79 L661.51,81.86 L662.49,82.63 L662.40,81.68 L662.30,80.74 L662.21,79.80 L662.12,78.88 L662.02,77.96 L661.93,77.06 L661.83,76.17 L661.74,75.29 L661.65,74.42 L661.55,73.57 L661.46,72.72 L661.37,71.90 L661.27,71.08 L661.18,70.29 L661.08,69.51 L660.99,68.75 L660.90,68.01 L660.80,67.30 L660.71,66.61 L660.62,65.95 L660.52,65.33 L660.43,64.76 L660.33,64.25 L660.24,63.88Z" fill="#000" stroke="#000" stroke-width="0.5"/>
<path d="M617.39,59.54 L617.71,60.18 L618.02,61.11 L618.34,62.19 L618.66,63.39 L618.98,64.68 L619.29,66.05 L619.61,67.49 L619.93,69.00 L620.25,70.56 L620.57,72.17 L620.88,73.83 L621.20,75.54 L621.52,77.29 L621.83,79.08 L622.15,80.91 L622.47,82.78 L622.79,84.68 L623.11,86.61 L623.42,88.58 L623.74,90.58 L624.06,92.60 L624.38,94.66 L624.69,96.75 L625.01,98.86 L625.99,99.63 L625.77,97.59 L625.54,95.58 L625.32,93.59 L625.09,91.64 L624.87,89.72 L624.64,87.82 L624.42,85.96 L624.20,84.13 L623.97,82.34 L623.75,80.58 L623.52,78.87 L623.30,77.19 L623.08,75.55 L622.85,73.97 L622.63,72.43 L622.40,70.94 L622.18,69.51 L621.96,68.14 L621.73,66.85 L621.51,65.63 L621.28,64.50 L621.06,63.49 L620.83,62.64 L620.61,62.07Z" fill="#000" stroke="#000" stroke-width="0.5"/>
<path d="M639.41,60.26 L639.83,60.70 L640.25,61.27 L640.67,61.90 L641.09,62.57 L641.51,63.28 L641.93,64.01 L642.36,64.77 L642.78,65.54 L643.20,66.34 L643.62,67.16 L644.04,67.99 L644.46,68.83 L644.88,69.69 L645.30,70.56 L645.72,71.44 L646.14,72.34 L646.56,73.25 L646.99,74.16 L647.41,75.09 L647.83,76.03 L648.25,76.97 L648.67,77.93 L649.09,78.89 L649.51,79.86 L650.49,80.63 L650.24,79.80 L650.00,78.97 L649.75,78.15 L649.51,77.35 L649.26,76.55 L649.01,75.76 L648.77,74.98 L648.52,74.21 L648.28,73.45 L648.03,72.71 L647.79,71.97 L647.54,71.25 L647.29,70.54 L647.05,69.85 L646.80,69.17 L646.56,68.51 L646.31,67.87 L646.07,67.25 L645.82,66.66 L645.57,66.09 L645.33,65.56 L645.08,65.07 L644.84,64.64 L644.59,64.33Z" fill="#000" stroke="#000" stroke-width="0.5"/>
<path d="M645.41,60.26 L645.83,60.81 L646.25,61.53 L646.67,62.31 L647.09,63.16 L647.51,64.04 L647.93,64.96 L648.36,65.91 L648.78,66.88 L649.20,67.88 L649.62,68.90 L650.04,69.95 L650.46,71.01 L650.88,72.08 L651.30,73.18 L651.72,74.29 L652.14,75.41 L652.56,76.55 L652.99,77.70 L653.41,78.87 L653.83,80.04 L654.25,81.23 L654.67,82.43 L655.09,83.64 L655.51,84.86 L656.49,85.63 L656.24,84.55 L656.00,83.48 L655.75,82.41 L655.51,81.36 L655.26,80.33 L655.01,79.30 L654.77,78.28 L654.52,77.28 L654.28,76.30 L654.03,75.32 L653.79,74.37 L653.54,73.43 L653.29,72.50 L653.05,71.60 L652.80,70.71 L652.56,69.85 L652.31,69.01 L652.07,68.20 L651.82,67.42 L651.57,66.68 L651.33,65.97 L651.08,65.32 L650.84,64.75 L650.59,64.33Z" fill="#000" stroke="#000" stroke-width="0.5"/>
<path d="M652.41,60.26 L652.83,60.77 L653.25,61.43 L653.67,62.15 L654.09,62.92 L654.51,63.73 L654.93,64.58 L655.36,65.45 L655.78,66.35 L656.20,67.27 L656.62,68.20 L657.04,69.16 L657.46,70.14 L657.88,71.13 L658.30,72.13 L658.72,73.15 L659.14,74.18 L659.56,75.23 L659.99,76.29 L660.41,77.36 L660.83,78.44 L661.25,79.53 L661.67,80.63 L662.09,81.74 L662.51,82.86 L663.49,83.63 L663.24,82.65 L663.00,81.67 L662.75,80.71 L662.51,79.76 L662.26,78.81 L662.01,77.88 L661.77,76.96 L661.52,76.05 L661.28,75.16 L661.03,74.28 L660.79,73.41 L660.54,72.56 L660.29,71.72 L660.05,70.90 L659.80,70.10 L659.56,69.32 L659.31,68.56 L659.07,67.82 L658.82,67.12 L658.57,66.44 L658.33,65.81 L658.08,65.22 L657.84,64.70 L657.59,64.33Z" fill="#000" stroke="#000" stroke-width="0.5"/>
<path d="M659.06,60.16 L659.50,60.78 L659.93,61.59 L660.37,62.47 L660.80,63.42 L661.24,64.42 L661.67,65.45 L662.11,66.52 L662.54,67.62 L662.98,68.74 L663.41,69.89 L663.85,71.07 L664.28,72.26 L664.72,73.48 L665.16,74.71 L665.59,75.96 L666.03,77.22 L666.46,78.51 L666.90,79.80 L667.33,81.11 L667.77,82.44 L668.20,83.77 L668.64,85.12 L669.07,86.49 L669.51,87.86 L670.49,88.63 L670.26,87.42 L670.03,86.22 L669.80,85.03 L669.56,83.85 L669.33,82.69 L669.10,81.54 L668.87,80.40 L668.64,79.28 L668.41,78.17 L668.18,77.08 L667.95,76.01 L667.72,74.96 L667.48,73.92 L667.25,72.91 L667.02,71.92 L666.79,70.95 L666.56,70.02 L666.33,69.11 L666.10,68.23 L665.87,67.40 L665.63,66.61 L665.40,65.89 L665.17,65.24 L664.94,64.78Z" fill="#000" stroke="#000" stroke-width="0.5"/>
<path d="M665.41,60.26 L665.83,60.97 L666.25,61.88 L666.67,62.89 L667.09,63.97 L667.51,65.10 L667.93,66.28 L668.36,67.50 L668.78,68.75 L669.20,70.04 L669.62,71.35 L670.04,72.69 L670.46,74.05 L670.88,75.44 L671.30,76.85 L671.72,78.27 L672.14,79.72 L672.56,81.18 L672.99,82.66 L673.41,84.16 L673.83,85.67 L674.25,87.20 L674.67,88.74 L675.09,90.29 L675.51,91.86 L676.49,92.63 L676.24,91.20 L676.00,89.78 L675.75,88.38 L675.51,86.99 L675.26,85.61 L675.01,84.26 L674.77,82.91 L674.52,81.59 L674.28,80.28 L674.03,78.99 L673.79,77.72 L673.54,76.47 L673.29,75.25 L673.05,74.05 L672.80,72.87 L672.56,71.72 L672.31,70.61 L672.07,69.53 L671.82,68.49 L671.57,67.49 L671.33,66.55 L671.08,65.68 L670.84,64.90 L670.59,64.33Z" fill="#000" stroke="#000" stroke-width="0.5"/>
<path d="M675.13,61.18 L675.79,61.86 L676.45,62.89 L677.12,64.13 L677.78,65.51 L678.44,67.02 L679.10,68.64 L679.76,70.36 L680.42,72.16 L681.09,74.05 L681.75,76.00 L682.41,78.03 L683.07,80.11 L683.73,82.26 L684.39,84.47 L685.05,86.74 L685.72,89.05 L686.38,91.42 L687.04,93.83 L687.70,96.30 L688.36,98.80 L689.02,101.36 L689.69,103.95 L690.35,106.59 L691.01,109.26 L691.99,110.03 L691.53,107.51 L691.06,105.03 L690.60,102.59 L690.14,100.20 L689.67,97.85 L689.21,95.54 L688.75,93.28 L688.28,91.07 L687.82,88.91 L687.36,86.80 L686.89,84.75 L686.43,82.75 L685.97,80.82 L685.50,78.95 L685.04,77.15 L684.58,75.43 L684.11,73.78 L683.65,72.22 L683.19,70.76 L682.72,69.40 L682.26,68.17 L681.80,67.09 L681.33,66.21 L680.87,65.69Z" fill="#000" stroke="#000" stroke-width="0.5"/>
<path d="M676.97,62.42 L677.37,63.12 L677.76,64.03 L678.16,65.03 L678.56,66.10 L678.96,67.23 L679.36,68.40 L679.75,69.62 L680.15,70.86 L680.55,72.14 L680.95,73.45 L681.34,74.78 L681.74,76.13 L682.14,77.51 L682.53,78.91 L682.93,80.33 L683.33,81.77 L683.73,83.23 L684.12,84.70 L684.52,86.19 L684.92,87.69 L685.32,89.22 L685.72,90.75 L686.11,92.30 L686.51,93.86 L687.49,94.63 L687.22,93.17 L686.95,91.72 L686.68,90.29 L686.41,88.87 L686.14,87.46 L685.88,86.08 L685.61,84.70 L685.34,83.35 L685.07,82.01 L684.80,80.69 L684.53,79.39 L684.26,78.11 L683.99,76.86 L683.72,75.63 L683.45,74.42 L683.18,73.24 L682.91,72.10 L682.64,70.99 L682.38,69.92 L682.11,68.89 L681.84,67.92 L681.57,67.02 L681.30,66.21 L681.03,65.61Z" fill="#000" stroke="#000" stroke-width="0.5"/>
<path d="M681.11,63.46 L681.58,64.16 L682.06,65.06 L682.53,66.07 L683.01,67.14 L683.49,68.26 L683.96,69.43 L684.43,70.64 L684.91,71.89 L685.38,73.16 L685.86,74.47 L686.34,75.80 L686.81,77.15 L687.28,78.53 L687.76,79.93 L688.24,81.35 L688.71,82.78 L689.19,84.24 L689.66,85.71 L690.13,87.20 L690.61,88.70 L691.09,90.22 L691.56,91.75 L692.04,93.30 L692.51,94.86 L693.49,95.63 L693.13,94.16 L692.77,92.71 L692.41,91.27 L692.06,89.84 L691.70,88.43 L691.34,87.03 L690.98,85.65 L690.62,84.29 L690.26,82.94 L689.91,81.62 L689.55,80.31 L689.19,79.02 L688.83,77.76 L688.47,76.52 L688.12,75.31 L687.76,74.12 L687.40,72.97 L687.04,71.85 L686.68,70.77 L686.32,69.74 L685.97,68.76 L685.61,67.85 L685.25,67.04 L684.89,66.43Z" fill="#000" stroke="#000" stroke-width="0.5"/>
<path d="M693.27,64.22 L694.11,64.93 L694.96,65.95 L695.80,67.13 L696.64,68.45 L697.49,69.86 L698.33,71.36 L699.17,72.93 L700.02,74.57 L700.86,76.28 L701.70,78.04 L702.55,79.86 L703.39,81.72 L704.23,83.63 L705.08,85.58 L705.92,87.58 L706.76,89.62 L707.61,91.69 L708.45,93.80 L709.29,95.95 L710.14,98.13 L710.98,100.34 L711.82,102.58 L712.67,104.86 L713.51,107.16 L714.49,107.93 L713.83,105.77 L713.18,103.65 L712.52,101.55 L711.86,99.48 L711.21,97.45 L710.55,95.45 L709.89,93.49 L709.24,91.56 L708.58,89.67 L707.92,87.82 L707.27,86.01 L706.61,84.25 L705.95,82.53 L705.30,80.86 L704.64,79.25 L703.98,77.69 L703.33,76.19 L702.67,74.77 L702.01,73.41 L701.36,72.15 L700.70,70.98 L700.04,69.94 L699.39,69.07 L698.73,68.51Z" fill="#000" stroke="#000" stroke-width="0.5"/>
<path d="M696.11,65.46 L696.50,66.01 L696.89,66.71 L697.28,67.49 L697.68,68.32 L698.07,69.20 L698.46,70.11 L698.85,71.05 L699.24,72.02 L699.63,73.01 L700.03,74.02 L700.42,75.05 L700.81,76.11 L701.20,77.18 L701.59,78.26 L701.99,79.36 L702.38,80.48 L702.77,81.61 L703.16,82.75 L703.55,83.91 L703.94,85.08 L704.34,86.26 L704.73,87.45 L705.12,88.65 L705.51,89.86 L706.49,90.63 L706.21,89.51 L705.94,88.40 L705.66,87.30 L705.39,86.21 L705.12,85.14 L704.84,84.07 L704.56,83.02 L704.29,81.98 L704.01,80.96 L703.74,79.95 L703.47,78.95 L703.19,77.98 L702.91,77.02 L702.64,76.07 L702.37,75.15 L702.09,74.25 L701.82,73.38 L701.54,72.53 L701.26,71.71 L700.99,70.93 L700.72,70.18 L700.44,69.50 L700.17,68.88 L699.89,68.43Z" fill="#000" stroke="#000" stroke-width="0.5"/>
<path d="M701.11,66.46 L701.50,67.16 L701.89,68.06 L702.28,69.07 L702.68,70.14 L703.07,71.26 L703.46,72.43 L703.85,73.64 L704.24,74.89 L704.63,76.16 L705.03,77.47 L705.42,78.80 L705.81,80.15 L706.20,81.53 L706.59,82.93 L706.99,84.35 L707.38,85.78 L707.77,87.24 L708.16,88.71 L708.55,90.20 L708.94,91.70 L709.34,93.22 L709.73,94.75 L710.12,96.30 L710.51,97.86 L711.49,98.63 L711.21,97.16 L710.94,95.71 L710.66,94.27 L710.39,92.84 L710.12,91.43 L709.84,90.03 L709.56,88.65 L709.29,87.29 L709.01,85.94 L708.74,84.62 L708.47,83.31 L708.19,82.02 L707.91,80.76 L707.64,79.52 L707.37,78.31 L707.09,77.12 L706.82,75.97 L706.54,74.85 L706.26,73.77 L705.99,72.74 L705.72,71.76 L705.44,70.85 L705.17,70.04 L704.89,69.43Z" fill="#000" stroke="#000" stroke-width="0.5"/>
<path d="M712.97,63.42 L713.26,64.62 L713.56,66.16 L713.85,67.88 L714.14,69.71 L714.44,71.64 L714.73,73.65 L715.02,75.72 L715.32,77.86 L715.61,80.04 L715.90,82.28 L716.20,84.56 L716.49,86.88 L716.78,89.25 L717.08,91.64 L717.37,94.08 L717.66,96.54 L717.96,99.04 L718.25,101.56 L718.54,104.11 L718.84,106.69 L719.13,109.30 L719.42,111.93 L719.72,114.58 L720.01,117.26 L720.99,118.03 L720.83,115.45 L720.66,112.90 L720.50,110.37 L720.33,107.87 L720.16,105.39 L720.00,102.94 L719.84,100.51 L719.67,98.12 L719.50,95.75 L719.34,93.42 L719.17,91.12 L719.01,88.86 L718.85,86.64 L718.68,84.46 L718.51,82.33 L718.35,80.24 L718.18,78.21 L718.02,76.23 L717.86,74.33 L717.69,72.50 L717.52,70.77 L717.36,69.15 L717.19,67.71 L717.03,66.61Z" fill="#000" stroke="#000" stroke-width="0.5"/>
<path d="M424.30,63.30L424.30,63.67M424.70,63.30L424.70,63.72M425.10,63.30L425.10,63.87M425.50,63.30L425.50,63.68M425.90,63.30L425.90,63.70M426.30,63.30L426.30,63.74M426.70,63.30L426.70,63.52M427.10,63.30L427.10,63.70M427.50,63.30L427.50,63.75M427.90,63.30L427.90,63.82M428.30,63.30L428.30,63.45M428.70,63.30L428.70,63.59M429.10,63.30L429.10,63.44M429.50,63.30L429.50,63.83M429.90,63.30L429.90,63.78M430.30,63.30L430.30,63.39M430.70,63.30L430.70,63.89M431.10,63.30L431.10,63.89M431.50,63.30L431.50,63.77M431.90,63.30L431.90,63.75M432.30,63.30L432.30,63.50M432.70,63.30L432.70,63.35M433.10,63.30L433.10,63.71M433.50,63.30L433.50,63.41M433.90,63.30L433.90,63.52M434.30,63.30L434.30,63.56M434.70,63.30L434.70,63.37M435.10,63.30L435.10,63.68M435.50,63.30L435.50,63.67M435.90,63.30L435.90,63.84M436.30,63.30L436.30,63.70M436.70,63.30L436.70,63.76M437.10,63.30L437.10,63.70M437.50,63.30L437.50,63.77M437.90,63.30L437.90,63.68M438.30,63.30L438.30,63.58M438.70,63.30L438.70,63.90M439.10,63.30L439.10,63.90M439.50,63.30L439.50,63.84M439.90,63.30L439.90,63.79M440.30,63.30L440.30,63.60M440.70,63.30L440.70,63.55M441.10,63.30L441.10,63.58M441.50,63.30L441.50,63.42M441.90,63.30L441.90,63.81M442.30,63.30L442.30,63.65M442.70,63.30L442.70,63.84M443.10,63.30L443.10,63.64M443.50,63.30L443.50,63.88M443.90,63.30L443.90,63.84M444.30,63.30L444.30,63.31M444.70,63.30L444.70,63.54M445.10,63.30L445.10,63.87M445.50,63.30L445.50,63.68M445.90,63.30L445.90,63.89M446.30,63.30L446.30,63.64M446.70,63.30L446.70,63.42M434.79,63.30L434.79,63.30M435.14,63.30L435.14,63.48M435.49,63.30L435.49,63.92M435.84,63.30L435.84,64.20M436.19,63.30L436.19,64.11M436.54,63.30L436.54,64.47M436.89,63.30L436.89,64.33M437.24,63.30L437.24,64.05M437.59,63.30L437.59,64.20M437.94,63.30L437.94,63.66M438.29,63.30L438.29,63.50M443.09,63.30L443.09,63.30M443.44,63.30L443.44,64.04M443.79,63.30L443.79,64.45M444.14,63.30L444.14,65.61M444.49,63.30L444.49,64.49M444.84,63.30L444.84,63.82M447.00,63.30L447.00,64.88M447.40,63.30L447.40,64.18M447.80,63.30L447.80,64.97M448.20,63.30L448.20,64.01M448.60,63.30L448.60,64.33M449.00,63.30L449.00,64.94M449.40,63.30L449.40,64.68M449.80,63.30L449.80,63.75M450.20,63.30L450.20,65.09M450.60,63.30L450.60,64.01M451.00,63.30L451.00,64.10M451.40,63.30L451.40,64.84M451.80,63.30L451.80,64.22M452.20,63.30L452.20,64.17M452.60,63.30L452.60,63.68M453.00,63.30L453.00,63.72M453.40,63.30L453.40,64.60M453.80,63.30L453.80,64.07M454.20,63.30L454.20,64.63M454.60,63.30L454.60,64.29M455.00,63.30L455.00,64.42M455.40,63.30L455.40,65.06M455.80,63.30L455.80,64.46M456.20,63.30L456.20,64.59M456.60,63.30L456.60,64.95M457.00,63.30L457.00,63.95M457.40,63.30L457.40,63.89M457.80,63.30L457.80,65.00M458.20,63.30L458.20,64.90M458.60,63.30L458.60,64.08M459.00,63.30L459.00,63.96M459.40,63.30L459.40,64.80M459.80,63.30L459.80,65.03M460.20,63.30L460.20,63.98M460.60,63.30L460.60,65.05M461.00,63.30L461.00,64.97M461.40,63.30L461.40,64.63M461.80,63.30L461.80,64.37M462.20,63.30L462.20,63.76M462.60,63.30L462.60,63.56M463.00,63.30L463.00,65.06M463.40,63.30L463.40,64.06M463.80,63.30L463.80,64.76M464.20,63.30L464.20,64.10M464.60,63.30L464.60,64.90M465.00,63.30L465.00,64.62M465.40,63.30L465.40,64.16M465.80,63.30L465.80,63.93M466.20,63.30L466.20,64.78M466.60,63.30L466.60,63.66M467.00,63.30L467.00,64.04M467.40,63.30L467.40,64.57M467.80,63.30L467.80,64.94M468.20,63.30L468.20,64.64M468.60,63.30L468.60,64.14M469.00,63.30L469.00,65.01M469.40,63.30L469.40,63.99M469.80,63.30L469.80,63.45M470.20,63.30L470.20,64.12M470.60,63.30L470.60,64.41M471.00,63.30L471.00,63.63M471.40,63.30L471.40,63.94M471.80,63.30L471.80,64.29M472.20,63.30L472.20,64.59M472.60,63.30L472.60,63.83M473.00,63.30L473.00,64.28M473.40,63.30L473.40,64.98M473.80,63.30L473.80,65.08M474.20,63.30L474.20,64.70M474.60,63.30L474.60,64.74M475.00,63.30L475.00,64.60M475.40,63.30L475.40,63.85M475.80,63.30L475.80,63.54M476.20,63.30L476.20,63.46M476.60,63.30L476.60,65.00M477.00,63.30L477.00,64.75M477.40,63.30L477.40,65.06M477.80,63.30L477.80,63.48M478.20,63.30L478.20,64.67M478.60,63.30L478.60,64.46M479.00,63.30L479.00,64.79M479.40,63.30L479.40,64.21M479.80,63.30L479.80,65.10M480.20,63.30L480.20,63.68M480.60,63.30L480.60,64.55M481.00,63.30L481.00,64.80M481.40,63.30L481.40,64.99M481.80,63.30L481.80,64.80M482.20,63.30L482.20,64.76M482.60,63.30L482.60,64.87M483.00,63.30L483.00,65.01M483.40,63.30L483.40,64.26M483.80,63.30L483.80,64.73M484.20,63.30L484.20,64.99M484.60,63.30L484.60,64.96M485.00,63.30L485.00,64.37M485.40,63.30L485.40,64.86M485.80,63.30L485.80,64.95M486.20,63.30L486.20,64.59M486.60,63.30L486.60,64.66M487.00,63.30L487.00,64.31M487.40,63.30L487.40,64.60M487.80,63.30L487.80,64.64M445.53,63.30L445.53,63.30M445.88,63.30L445.88,64.84M446.23,63.30L446.23,66.14M446.58,63.30L446.58,69.08M446.93,63.30L446.93,70.73M447.28,63.30L447.28,71.66M447.63,63.30L447.63,71.34M447.98,63.30L447.98,66.57M448.33,63.30L448.33,66.39M448.68,63.30L448.68,63.97M448.39,63.30L448.39,63.30M448.74,63.30L448.74,64.10M449.09,63.30L449.09,65.28M449.44,63.30L449.44,67.14M449.79,63.30L449.79,66.85M450.14,63.30L450.14,65.66M450.49,63.30L450.49,65.30M450.84,63.30L450.84,64.65M451.19,63.30L451.19,63.52M448.29,63.30L448.29,63.30M448.64,63.30L448.64,64.32M448.99,63.30L448.99,64.95M449.34,63.30L449.34,66.67M449.69,63.30L449.69,66.73M450.04,63.30L450.04,68.65M450.39,63.30L450.39,71.70M450.74,63.30L450.74,70.54M451.09,63.30L451.09,68.76M451.44,63.30L451.44,66.16M451.79,63.30L451.79,65.33M452.14,63.30L452.14,64.06M452.49,63.30L452.49,63.32M450.35,63.30L450.35,63.30M450.70,63.30L450.70,64.60M451.05,63.30L451.05,65.25M451.40,63.30L451.40,66.21M451.75,63.30L451.75,68.40M452.10,63.30L452.10,69.16M452.45,63.30L452.45,69.50M452.80,63.30L452.80,68.96M453.15,63.30L453.15,68.10M453.50,63.30L453.50,66.23M453.85,63.30L453.85,64.68M454.20,63.30L454.20,63.78M462.41,63.30L462.41,63.30M462.76,63.30L462.76,64.13M463.11,63.30L463.11,64.36M463.46,63.30L463.46,66.12M463.81,63.30L463.81,66.97M464.16,63.30L464.16,65.61M464.51,63.30L464.51,65.30M464.86,63.30L464.86,63.84M465.21,63.30L465.21,63.36M464.79,63.30L464.79,63.30M465.14,63.30L465.14,65.60M465.49,63.30L465.49,68.15M465.84,63.30L465.84,68.64M466.19,63.30L466.19,64.56M466.68,63.30L466.68,63.30M467.03,63.30L467.03,64.60M467.38,63.30L467.38,65.42M467.73,63.30L467.73,67.55M468.08,63.30L468.08,68.09M468.43,63.30L468.43,68.54M468.78,63.30L468.78,69.11M469.13,63.30L469.13,68.04M469.48,63.30L469.48,65.26M469.83,63.30L469.83,64.16M467.83,63.30L467.83,63.30M468.18,63.30L468.18,64.32M468.53,63.30L468.53,65.16M468.88,63.30L468.88,67.19M469.23,63.30L469.23,69.14M469.58,63.30L469.58,67.65M469.93,63.30L469.93,69.69M470.28,63.30L470.28,67.43M470.63,63.30L470.63,65.05M470.98,63.30L470.98,64.42M471.33,63.30L471.33,63.49M475.19,63.30L475.19,63.30M475.54,63.30L475.54,64.88M475.89,63.30L475.89,67.24M476.24,63.30L476.24,68.12M476.59,63.30L476.59,69.88M476.94,63.30L476.94,66.51M477.29,63.30L477.29,65.80M477.64,63.30L477.64,64.02M477.61,63.30L477.61,63.30M477.96,63.30L477.96,64.10M478.31,63.30L478.31,65.13M478.66,63.30L478.66,65.62M479.01,63.30L479.01,67.12M479.36,63.30L479.36,66.98M479.71,63.30L479.71,67.91M480.06,63.30L480.06,66.60M480.41,63.30L480.41,64.89M480.76,63.30L480.76,63.98M481.11,63.30L481.11,63.52M479.82,63.30L479.82,63.30M480.17,63.30L480.17,64.25M480.52,63.30L480.52,64.58M480.87,63.30L480.87,66.83M481.22,63.30L481.22,66.55M481.57,63.30L481.57,68.13M481.92,63.30L481.92,69.57M482.27,63.30L482.27,66.34M482.62,63.30L482.62,65.44M482.97,63.30L482.97,64.99M483.32,63.30L483.32,64.07M485.17,63.30L485.17,63.30M485.52,63.30L485.52,64.90M485.87,63.30L485.87,65.35M486.22,63.30L486.22,67.04M486.57,63.30L486.57,69.91M486.92,63.30L486.92,70.60M487.27,63.30L487.27,71.22M487.62,63.30L487.62,68.71M487.97,63.30L487.97,66.51M488.32,63.30L488.32,65.17M488.67,63.30L488.67,63.48M488.00,63.30L488.00,64.98M488.40,63.30L488.40,66.01M488.80,63.30L488.80,66.12M489.20,63.30L489.20,64.47M489.60,63.30L489.60,66.02M490.00,63.30L490.00,66.24M490.40,63.30L490.40,65.34M490.80,63.30L490.80,65.45M491.20,63.30L491.20,64.45M491.60,63.30L491.60,65.36M492.00,63.30L492.00,65.29M492.40,63.30L492.40,65.52M492.80,63.30L492.80,63.65M493.20,63.30L493.20,66.24M493.60,63.30L493.60,65.32M494.00,63.30L494.00,65.03M494.40,63.30L494.40,65.93M494.80,63.30L494.80,65.43M495.20,63.30L495.20,65.26M495.60,63.30L495.60,65.70M496.00,63.30L496.00,63.89M496.40,63.30L496.40,65.37M496.80,63.30L496.80,65.07M497.20,63.30L497.20,66.22M497.60,63.30L497.60,66.16M498.00,63.30L498.00,64.67M498.40,63.30L498.40,65.21M498.80,63.30L498.80,64.17M499.20,63.30L499.20,65.12M499.60,63.30L499.60,65.95M500.00,63.30L500.00,66.12M500.40,63.30L500.40,65.22M500.80,63.30L500.80,64.81M501.20,63.30L501.20,64.41M501.60,63.30L501.60,65.55M502.00,63.30L502.00,66.16M502.40,63.30L502.40,64.18M502.80,63.30L502.80,65.88M503.20,63.30L503.20,63.61M503.60,63.30L503.60,64.42M504.00,63.30L504.00,64.53M504.40,63.30L504.40,65.70M504.80,63.30L504.80,64.82M505.20,63.30L505.20,64.91M505.60,63.30L505.60,65.55M506.00,63.30L506.00,64.08M506.40,63.30L506.40,65.79M506.80,63.30L506.80,64.15M507.20,63.30L507.20,65.30M507.60,63.30L507.60,64.61M508.00,63.30L508.00,64.43M508.40,63.30L508.40,65.35M508.80,63.30L508.80,65.13M509.20,63.30L509.20,64.97M509.60,63.30L509.60,65.07M510.00,63.30L510.00,65.35M510.40,63.30L510.40,64.30M510.80,63.30L510.80,64.46M511.20,63.30L511.20,65.58M511.60,63.30L511.60,65.59M512.00,63.30L512.00,65.35M512.40,63.30L512.40,66.02M512.80,63.30L512.80,65.53M513.20,63.30L513.20,66.03M513.60,63.30L513.60,64.55M514.00,63.30L514.00,65.81M514.40,63.30L514.40,65.94M514.80,63.30L514.80,66.12M515.20,63.30L515.20,64.80M515.60,63.30L515.60,64.80M516.00,63.30L516.00,66.16M516.40,63.30L516.40,64.50M516.80,63.30L516.80,66.30M517.20,63.30L517.20,66.09M517.60,63.30L517.60,64.20M518.00,63.30L518.00,64.57M518.40,63.30L518.40,65.78M518.80,63.30L518.80,64.64M519.20,63.30L519.20,64.04M519.60,63.30L519.60,65.99M520.00,63.30L520.00,65.09M490.53,63.30L490.53,63.30M490.88,63.30L490.88,65.59M491.23,63.30L491.23,69.50M491.58,63.30L491.58,73.92M491.93,63.30L491.93,69.54M492.28,63.30L492.28,64.62M490.23,63.30L490.23,63.30M490.58,63.30L490.58,66.25M490.93,63.30L490.93,68.09M491.28,63.30L491.28,70.31M491.63,63.30L491.63,73.53M491.98,63.30L491.98,71.81M492.33,63.30L492.33,71.94M492.68,63.30L492.68,68.04M493.03,63.30L493.03,64.85M491.07,63.30L491.07,63.30M491.42,63.30L491.42,66.47M491.77,63.30L491.77,70.35M492.12,63.30L492.12,69.47M492.47,63.30L492.47,66.88M492.82,63.30L492.82,65.92M491.57,63.30L491.57,63.30M491.92,63.30L491.92,64.65M492.27,63.30L492.27,66.22M492.62,63.30L492.62,68.61M492.97,63.30L492.97,68.05M493.32,63.30L493.32,73.72M493.67,63.30L493.67,74.17M494.02,63.30L494.02,68.57M494.37,63.30L494.37,67.82M494.72,63.30L494.72,66.51M495.07,63.30L495.07,64.31M492.95,63.30L492.95,63.30M493.30,63.30L493.30,67.72M493.65,63.30L493.65,72.96M494.00,63.30L494.00,76.40M494.35,63.30L494.35,71.51M494.70,63.30L494.70,65.78M493.45,63.30L493.45,63.30M493.80,63.30L493.80,65.58M494.15,63.30L494.15,66.96M494.50,63.30L494.50,72.34M494.85,63.30L494.85,74.95M495.20,63.30L495.20,76.71M495.55,63.30L495.55,73.36M495.90,63.30L495.90,68.45M496.25,63.30L496.25,66.97M496.60,63.30L496.60,64.15M495.84,63.30L495.84,63.30M496.19,63.30L496.19,65.60M496.54,63.30L496.54,66.58M496.89,63.30L496.89,69.99M497.24,63.30L497.24,73.65M497.59,63.30L497.59,72.61M497.94,63.30L497.94,75.37M498.29,63.30L498.29,74.37M498.64,63.30L498.64,70.96M498.99,63.30L498.99,66.77M499.34,63.30L499.34,65.47M498.92,63.30L498.92,63.30M499.27,63.30L499.27,66.39M499.62,63.30L499.62,69.74M499.97,63.30L499.97,78.37M500.32,63.30L500.32,76.57M500.67,63.30L500.67,72.04M501.02,63.30L501.02,67.64M501.37,63.30L501.37,63.81M498.56,63.30L498.56,63.30M498.91,63.30L498.91,65.44M499.26,63.30L499.26,66.98M499.61,63.30L499.61,70.11M499.96,63.30L499.96,74.37M500.31,63.30L500.31,73.64M500.66,63.30L500.66,72.05M501.01,63.30L501.01,72.28M501.36,63.30L501.36,67.33M501.71,63.30L501.71,64.45M506.22,63.30L506.22,63.30M506.57,63.30L506.57,66.79M506.92,63.30L506.92,68.07M507.27,63.30L507.27,74.81M507.62,63.30L507.62,81.20M507.97,63.30L507.97,74.43M508.32,63.30L508.32,78.07M508.67,63.30L508.67,68.92M509.02,63.30L509.02,66.67M509.37,63.30L509.37,63.54M507.67,63.30L507.67,63.30M508.02,63.30L508.02,64.32M508.37,63.30L508.37,65.81M508.72,63.30L508.72,67.57M509.07,63.30L509.07,68.46M509.42,63.30L509.42,68.93M509.77,63.30L509.77,68.67M510.12,63.30L510.12,66.69M510.47,63.30L510.47,64.82M510.82,63.30L510.82,63.87M509.35,63.30L509.35,63.30M509.70,63.30L509.70,66.04M510.05,63.30L510.05,72.85M510.40,63.30L510.40,68.26M510.75,63.30L510.75,64.82M512.36,63.30L512.36,63.30M512.71,63.30L512.71,67.87M513.06,63.30L513.06,81.93M513.41,63.30L513.41,74.93M513.76,63.30L513.76,67.51M520.00,63.30L520.00,65.87M520.40,63.30L520.40,67.37M520.80,63.30L520.80,69.07M521.20,63.30L521.20,68.24M521.60,63.30L521.60,67.11M522.00,63.30L522.00,69.22M522.40,63.30L522.40,68.61M522.80,63.30L522.80,67.73M523.20,63.30L523.20,64.94M523.60,63.30L523.60,67.82M524.00,63.30L524.00,67.04M524.40,63.30L524.40,65.61M524.80,63.30L524.80,64.32M525.20,63.30L525.20,67.39M525.60,63.30L525.60,65.02M526.00,63.30L526.00,66.98M526.40,63.30L526.40,68.01M526.80,63.30L526.80,67.04M527.20,63.30L527.20,65.99M527.60,63.30L527.60,67.64M528.00,63.30L528.00,66.86M528.40,63.30L528.40,68.46M528.80,63.30L528.80,67.40M529.20,63.30L529.20,69.29M529.60,63.30L529.60,69.13M530.00,63.30L530.00,68.29M530.40,63.30L530.40,65.84M530.80,63.30L530.80,64.93M531.20,63.30L531.20,68.90M531.60,63.30L531.60,68.49M532.00,63.30L532.00,67.83M532.40,63.30L532.40,66.55M532.80,63.30L532.80,66.04M533.20,63.30L533.20,68.08M533.60,63.30L533.60,67.56M534.00,63.30L534.00,67.68M534.40,63.30L534.40,67.86M534.80,63.30L534.80,68.36M535.20,63.30L535.20,65.51M535.60,63.30L535.60,65.91M536.00,63.30L536.00,69.23M536.40,63.30L536.40,68.99M536.80,63.30L536.80,68.85M537.20,63.30L537.20,64.16M537.60,63.30L537.60,64.42M538.00,63.30L538.00,66.04M538.40,63.30L538.40,66.89M538.80,63.30L538.80,67.82M539.20,63.30L539.20,64.83M539.60,63.30L539.60,67.45M540.00,63.30L540.00,64.54M540.40,63.30L540.40,64.68M540.80,63.30L540.80,68.04M541.20,63.30L541.20,67.49M541.60,63.30L541.60,67.85M542.00,63.30L542.00,66.62M542.40,63.30L542.40,67.16M542.80,63.30L542.80,65.66M543.20,63.30L543.20,66.46M543.60,63.30L543.60,68.33M544.00,63.30L544.00,68.70M544.40,63.30L544.40,64.56M544.80,63.30L544.80,64.98M545.20,63.30L545.20,68.58M545.60,63.30L545.60,67.82M546.00,63.30L546.00,68.42M546.40,63.30L546.40,65.67M546.80,63.30L546.80,66.89M547.20,63.30L547.20,65.96M547.60,63.30L547.60,68.59M548.00,63.30L548.00,66.60M548.40,63.30L548.40,67.95M548.80,63.30L548.80,69.26M549.20,63.30L549.20,66.36M549.60,63.30L549.60,67.49M550.00,63.30L550.00,68.33M550.40,63.30L550.40,69.01M550.80,63.30L550.80,66.90M551.20,63.30L551.20,66.60M551.60,63.30L551.60,64.78M552.00,63.30L552.00,68.84M552.40,63.30L552.40,64.60M552.80,63.30L552.80,64.65M553.20,63.30L553.20,67.56M553.60,63.30L553.60,67.19M554.00,63.30L554.00,68.08M554.40,63.30L554.40,66.21M554.80,63.30L554.80,68.45M555.20,63.30L555.20,64.58M555.60,63.30L555.60,65.67M556.00,63.30L556.00,67.98M556.40,63.30L556.40,64.64M556.80,63.30L556.80,66.24M557.20,63.30L557.20,68.25M557.60,63.30L557.60,68.12M558.00,63.30L558.00,66.11M558.40,63.30L558.40,65.17M558.80,63.30L558.80,66.54M559.20,63.30L559.20,68.25M559.60,63.30L559.60,66.58M560.00,63.30L560.00,64.96M560.40,63.30L560.40,68.18M560.80,63.30L560.80,67.58M561.20,63.30L561.20,69.00M561.60,63.30L561.60,69.08M562.00,63.30L562.00,68.98M562.40,63.30L562.40,66.96M562.80,63.30L562.80,68.56M563.20,63.30L563.20,66.24M563.60,63.30L563.60,66.32M564.00,63.30L564.00,66.76M564.40,63.30L564.40,69.06M564.80,63.30L564.80,68.91M565.20,63.30L565.20,65.90M565.60,63.30L565.60,66.56M566.00,63.30L566.00,66.58M519.41,63.30L519.41,63.30M519.76,63.30L519.76,65.36M520.11,63.30L520.11,68.74M520.46,63.30L520.46,70.89M520.81,63.30L520.81,74.85M521.16,63.30L521.16,70.01M521.51,63.30L521.51,66.18M521.86,63.30L521.86,64.75M523.13,63.30L523.13,63.30M523.48,63.30L523.48,64.75M523.83,63.30L523.83,66.68M524.18,63.30L524.18,70.21M524.53,63.30L524.53,68.41M524.88,63.30L524.88,66.50M525.23,63.30L525.23,63.95M523.69,63.30L523.69,63.30M524.04,63.30L524.04,64.30M524.39,63.30L524.39,65.80M524.74,63.30L524.74,65.62M525.09,63.30L525.09,68.24M525.44,63.30L525.44,67.82M525.79,63.30L525.79,70.27M526.14,63.30L526.14,68.35M526.49,63.30L526.49,66.01M526.84,63.30L526.84,64.95M527.19,63.30L527.19,64.36M527.54,63.30L527.54,63.32M526.69,63.30L526.69,63.30M527.04,63.30L527.04,65.39M527.39,63.30L527.39,67.59M527.74,63.30L527.74,70.48M528.09,63.30L528.09,73.52M528.44,63.30L528.44,70.22M528.79,63.30L528.79,67.71M529.14,63.30L529.14,64.38M529.20,63.30L529.20,63.30M529.55,63.30L529.55,65.95M529.90,63.30L529.90,69.56M530.25,63.30L530.25,73.85M530.60,63.30L530.60,75.79M530.95,63.30L530.95,78.47M531.30,63.30L531.30,76.32M531.65,63.30L531.65,73.02M532.00,63.30L532.00,68.01M532.35,63.30L532.35,65.35M532.70,63.30L532.70,63.30M530.96,63.30L530.96,63.30M531.31,63.30L531.31,64.15M531.66,63.30L531.66,65.61M532.01,63.30L532.01,66.71M532.36,63.30L532.36,70.64M532.71,63.30L532.71,68.46M533.06,63.30L533.06,71.23M533.41,63.30L533.41,69.76M533.76,63.30L533.76,70.90M534.11,63.30L534.11,69.48M534.46,63.30L534.46,66.14M534.81,63.30L534.81,64.80M535.16,63.30L535.16,64.06M532.55,63.30L532.55,63.30M532.90,63.30L532.90,63.86M533.25,63.30L533.25,64.63M533.60,63.30L533.60,65.49M533.95,63.30L533.95,67.60M534.30,63.30L534.30,68.53M534.65,63.30L534.65,68.29M535.00,63.30L535.00,67.26M535.35,63.30L535.35,66.59M535.70,63.30L535.70,65.45M536.05,63.30L536.05,65.31M536.40,63.30L536.40,63.98M536.75,63.30L536.75,63.34M536.02,63.30L536.02,63.30M536.37,63.30L536.37,65.26M536.72,63.30L536.72,66.45M537.07,63.30L537.07,69.21M537.42,63.30L537.42,73.85M537.77,63.30L537.77,69.87M538.12,63.30L538.12,66.86M538.47,63.30L538.47,64.90M538.82,63.30L538.82,63.95M538.86,63.30L538.86,63.30M539.21,63.30L539.21,65.26M539.56,63.30L539.56,70.34M539.91,63.30L539.91,72.84M540.26,63.30L540.26,72.12M540.61,63.30L540.61,68.17M540.96,63.30L540.96,67.24M541.31,63.30L541.31,64.41M541.02,63.30L541.02,63.30M541.37,63.30L541.37,64.61M541.72,63.30L541.72,66.74M542.07,63.30L542.07,68.63M542.42,63.30L542.42,74.47M542.77,63.30L542.77,75.14M543.12,63.30L543.12,74.26M543.47,63.30L543.47,73.09M543.82,63.30L543.82,67.40M544.17,63.30L544.17,65.90M544.52,63.30L544.52,63.73M544.54,63.30L544.54,63.30M544.89,63.30L544.89,70.38M545.24,63.30L545.24,72.96M545.59,63.30L545.59,70.04M545.94,63.30L545.94,64.86M544.00,63.30L544.00,63.30M544.35,63.30L544.35,65.34M544.70,63.30L544.70,68.79M545.05,63.30L545.05,69.57M545.40,63.30L545.40,75.45M545.75,63.30L545.75,71.22M546.10,63.30L546.10,70.35M546.45,63.30L546.45,65.40M546.80,63.30L546.80,64.08M544.29,63.30L544.29,63.30M544.64,63.30L544.64,65.61M544.99,63.30L544.99,67.10M545.34,63.30L545.34,69.48M545.69,63.30L545.69,70.46M546.04,63.30L546.04,71.84M546.39,63.30L546.39,70.06M546.74,63.30L546.74,68.10M547.09,63.30L547.09,64.90M546.88,63.30L546.88,63.30M547.23,63.30L547.23,67.47M547.58,63.30L547.58,72.22M547.93,63.30L547.93,72.30M548.28,63.30L548.28,65.95M548.63,63.30L548.63,63.70M548.75,63.30L548.75,63.30M549.10,63.30L549.10,65.30M549.45,63.30L549.45,72.37M549.80,63.30L549.80,76.63M550.15,63.30L550.15,69.87M550.50,63.30L550.50,67.77M550.85,63.30L550.85,63.95M549.08,63.30L549.08,63.30M549.43,63.30L549.43,64.69M549.78,63.30L549.78,67.11M550.13,63.30L550.13,67.98M550.48,63.30L550.48,69.61M550.83,63.30L550.83,72.16M551.18,63.30L551.18,68.07M551.53,63.30L551.53,67.52M551.88,63.30L551.88,64.69M551.54,63.30L551.54,63.30M551.89,63.30L551.89,65.72M552.24,63.30L552.24,68.64M552.59,63.30L552.59,76.62M552.94,63.30L552.94,77.56M553.29,63.30L553.29,69.50M553.64,63.30L553.64,66.74M553.99,63.30L553.99,63.63M553.40,63.30L553.40,63.30M553.75,63.30L553.75,65.32M554.10,63.30L554.10,69.11M554.45,63.30L554.45,67.88M554.80,63.30L554.80,66.99M555.15,63.30L555.15,63.38M553.76,63.30L553.76,63.30M554.11,63.30L554.11,65.21M554.46,63.30L554.46,67.52M554.81,63.30L554.81,70.59M555.16,63.30L555.16,70.70M555.51,63.30L555.51,76.11M555.86,63.30L555.86,75.07M556.21,63.30L556.21,72.85M556.56,63.30L556.56,68.41M556.91,63.30L556.91,65.14M556.26,63.30L556.26,63.30M556.61,63.30L556.61,67.24M556.96,63.30L556.96,69.36M557.31,63.30L557.31,68.41M557.66,63.30L557.66,64.66M557.64,63.30L557.64,63.30M557.99,63.30L557.99,65.11M558.34,63.30L558.34,67.77M558.69,63.30L558.69,69.22M559.04,63.30L559.04,70.60M559.39,63.30L559.39,73.89M559.74,63.30L559.74,72.05M560.09,63.30L560.09,73.55M560.44,63.30L560.44,72.00M560.79,63.30L560.79,67.64M561.14,63.30L561.14,65.83M561.49,63.30L561.49,63.85M557.83,63.30L557.83,63.30M558.18,63.30L558.18,64.31M558.53,63.30L558.53,65.97M558.88,63.30L558.88,68.81M559.23,63.30L559.23,71.67M559.58,63.30L559.58,71.87M559.93,63.30L559.93,78.78M560.28,63.30L560.28,72.89M560.63,63.30L560.63,71.36M560.98,63.30L560.98,67.84M561.33,63.30L561.33,68.53M561.68,63.30L561.68,64.87M562.03,63.30L562.03,63.87M559.71,63.30L559.71,63.30M560.06,63.30L560.06,65.74M560.41,63.30L560.41,69.14M560.76,63.30L560.76,71.97M561.11,63.30L561.11,74.09M561.46,63.30L561.46,71.07M561.81,63.30L561.81,72.33M562.16,63.30L562.16,67.29M562.51,63.30L562.51,65.99M562.86,63.30L562.86,63.39M560.73,63.30L560.73,63.30M561.08,63.30L561.08,63.99M561.43,63.30L561.43,64.82M561.78,63.30L561.78,66.13M562.13,63.30L562.13,70.02M562.48,63.30L562.48,71.87M562.83,63.30L562.83,71.35M563.18,63.30L563.18,68.27M563.53,63.30L563.53,67.96M563.88,63.30L563.88,66.49M564.23,63.30L564.23,64.63M564.58,63.30L564.58,63.65M564.66,63.30L564.66,63.30M565.01,63.30L565.01,65.63M565.36,63.30L565.36,69.78M565.71,63.30L565.71,68.19M566.06,63.30L566.06,64.16M566.00,63.30L566.00,63.97M566.40,63.30L566.40,64.37M566.80,63.30L566.80,64.07M567.20,63.30L567.20,64.45M567.60,63.30L567.60,63.51M568.00,63.30L568.00,64.48M568.40,63.30L568.40,63.77M568.80,63.30L568.80,64.76M569.20,63.30L569.20,64.40M569.60,63.30L569.60,64.25M570.00,63.30L570.00,64.18M570.40,63.30L570.40,64.43M570.80,63.30L570.80,64.50M571.20,63.30L571.20,64.57M571.60,63.30L571.60,64.56M572.00,63.30L572.00,64.27M572.40,63.30L572.40,64.80M572.80,63.30L572.80,64.65M573.20,63.30L573.20,64.67M573.60,63.30L573.60,64.18M574.00,63.30L574.00,64.21M574.40,63.30L574.40,64.37M574.80,63.30L574.80,64.71M575.20,63.30L575.20,64.32M575.60,63.30L575.60,64.32M576.00,63.30L576.00,64.21M576.40,63.30L576.40,64.71M576.80,63.30L576.80,64.06M577.20,63.30L577.20,63.56M577.60,63.30L577.60,64.54M578.00,63.30L578.00,64.71M578.40,63.30L578.40,64.54M578.80,63.30L578.80,64.40M579.20,63.30L579.20,64.56M579.60,63.30L579.60,64.04M580.00,63.30L580.00,64.40M565.21,63.30L565.21,63.30M565.56,63.30L565.56,66.32M565.91,63.30L565.91,68.53M566.26,63.30L566.26,73.53M566.61,63.30L566.61,68.04M566.96,63.30L566.96,64.07M565.53,63.30L565.53,63.30M565.88,63.30L565.88,65.41M566.23,63.30L566.23,68.28M566.58,63.30L566.58,70.16M566.93,63.30L566.93,73.11M567.28,63.30L567.28,68.41M567.63,63.30L567.63,67.00M567.98,63.30L567.98,64.14M568.02,63.30L568.02,63.30M568.37,63.30L568.37,66.28M568.72,63.30L568.72,67.60M569.07,63.30L569.07,72.86M569.42,63.30L569.42,80.43M569.77,63.30L569.77,72.47M570.12,63.30L570.12,71.48M570.47,63.30L570.47,68.70M570.82,63.30L570.82,65.89M571.17,63.30L571.17,63.47M572.16,63.30L572.16,63.30M572.51,63.30L572.51,64.63M572.86,63.30L572.86,65.32M573.21,63.30L573.21,66.54M573.56,63.30L573.56,71.71M573.91,63.30L573.91,70.88M574.26,63.30L574.26,72.56M574.61,63.30L574.61,72.58M574.96,63.30L574.96,70.19M575.31,63.30L575.31,66.62M575.66,63.30L575.66,64.66M576.01,63.30L576.01,63.53M577.16,63.30L577.16,63.30M577.51,63.30L577.51,64.13M577.86,63.30L577.86,65.37M578.21,63.30L578.21,65.98M578.56,63.30L578.56,69.38M578.91,63.30L578.91,71.74M579.26,63.30L579.26,69.59M579.61,63.30L579.61,70.16M579.96,63.30L579.96,67.12M580.31,63.30L580.31,67.56M580.66,63.30L580.66,64.75M581.01,63.30L581.01,63.96M722.00,63.30L722.00,65.79M722.40,63.30L722.40,67.99M722.80,63.30L722.80,67.90M723.20,63.30L723.20,67.38M723.60,63.30L723.60,64.80M724.00,63.30L724.00,67.32M724.40,63.30L724.40,68.11M724.80,63.30L724.80,66.38M725.20,63.30L725.20,64.39M725.60,63.30L725.60,65.33M726.00,63.30L726.00,65.76M726.40,63.30L726.40,67.37M726.80,63.30L726.80,65.18M727.20,63.30L727.20,65.09M727.60,63.30L727.60,65.40M728.00,63.30L728.00,67.21M728.40,63.30L728.40,67.64M728.80,63.30L728.80,66.06M729.20,63.30L729.20,67.20M729.60,63.30L729.60,67.94M730.00,63.30L730.00,66.94M730.40,63.30L730.40,65.36M730.80,63.30L730.80,65.73M731.20,63.30L731.20,68.08M731.60,63.30L731.60,67.22M732.00,63.30L732.00,65.61M723.16,63.30L723.16,63.30M723.51,63.30L723.51,65.29M723.86,63.30L723.86,67.87M724.21,63.30L724.21,66.53M724.56,63.30L724.56,65.52M724.91,63.30L724.91,63.35M722.67,63.30L722.67,63.30M723.02,63.30L723.02,63.66M723.37,63.30L723.37,63.89M723.72,63.30L723.72,64.29M724.07,63.30L724.07,64.99M724.42,63.30L724.42,64.99M724.77,63.30L724.77,66.11M725.12,63.30L725.12,65.58M725.47,63.30L725.47,64.15M725.82,63.30L725.82,64.06M726.17,63.30L726.17,63.74M726.52,63.30L726.52,63.33M728.42,63.30L728.42,63.30M728.77,63.30L728.77,63.84M729.12,63.30L729.12,64.32M729.47,63.30L729.47,65.32M729.82,63.30L729.82,66.37M730.17,63.30L730.17,65.58M730.52,63.30L730.52,64.82M730.87,63.30L730.87,64.33M731.22,63.30L731.22,63.58M729.21,63.30L729.21,63.30M729.56,63.30L729.56,63.54M729.91,63.30L729.91,64.06M730.26,63.30L730.26,64.25M730.61,63.30L730.61,64.87M730.96,63.30L730.96,65.83M731.31,63.30L731.31,66.47M731.66,63.30L731.66,66.13M732.01,63.30L732.01,64.83M732.36,63.30L732.36,64.66M732.71,63.30L732.71,64.04M733.06,63.30L733.06,63.81M733.41,63.30L733.41,63.42M729.82,63.30L729.82,63.30M730.17,63.30L730.17,64.25M730.52,63.30L730.52,64.68M730.87,63.30L730.87,65.49M731.22,63.30L731.22,66.03M731.57,63.30L731.57,67.80M731.92,63.30L731.92,66.47M732.27,63.30L732.27,65.40M732.62,63.30L732.62,64.26M732.97,63.30L732.97,63.61M729.50,63.30L729.50,63.30M729.85,63.30L729.85,63.90M730.20,63.30L730.20,64.25M730.55,63.30L730.55,64.73M730.90,63.30L730.90,65.61M731.25,63.30L731.25,65.70M731.60,63.30L731.60,67.06M731.95,63.30L731.95,67.08M732.30,63.30L732.30,66.03M732.65,63.30L732.65,64.91M733.00,63.30L733.00,64.56M733.35,63.30L733.35,63.69M733.70,63.30L733.70,63.32M730.86,63.30L730.86,63.30M731.21,63.30L731.21,64.11M731.56,63.30L731.56,65.12M731.91,63.30L731.91,65.06M732.26,63.30L732.26,65.15M732.61,63.30L732.61,64.26M732.96,63.30L732.96,63.52M567.20,60.11L569.28,68.43M568.40,60.53L568.51,60.95M569.60,61.28L570.23,63.80M570.80,62.41L573.05,71.43M572.00,63.94L572.35,65.33M573.20,65.89L574.12,69.58M574.40,68.27L575.07,70.96M575.60,71.09L576.52,74.76M576.80,74.37L576.96,75.00M578.00,78.12L578.07,78.39M579.20,82.35L581.06,89.77M580.40,87.06L581.74,92.43M581.60,92.28L582.81,97.11M582.80,97.99L583.15,99.40M584.00,104.22L584.36,105.65M585.20,110.96L585.91,113.81M586.40,118.24L586.68,119.35M587.60,126.04L588.07,127.91M588.80,134.38L589.60,137.58M590.00,143.27L590.24,144.24M591.20,152.70L591.33,153.21M568.00,60.35L568.91,71.76M569.00,60.86L569.77,70.43M571.50,63.26L572.25,72.67M572.50,64.70L573.76,80.49M573.00,65.54L573.63,73.45M573.50,66.44L574.38,77.47M574.00,67.43L574.42,72.65M574.50,68.49L575.23,77.61M575.00,69.62L575.68,78.17M577.00,74.96L577.54,81.69M577.50,76.50L578.31,86.64M578.00,78.12L578.41,83.20M578.50,79.82L578.82,83.77M579.00,81.61L579.48,87.59M580.50,87.48L580.91,92.56M581.00,89.61L581.76,99.12M581.50,91.82L582.12,99.58M583.00,98.99L583.32,102.94M583.50,101.56L583.70,104.02M584.50,106.97L584.95,112.55M591.50,59.50L591.81,68.47M591.80,59.50L592.04,70.03M592.10,59.50L592.12,69.28M592.40,59.50L592.76,68.27M592.70,59.50L592.89,71.60M593.00,59.50L593.33,69.16M593.30,59.50L593.72,70.21M593.60,59.50L594.04,73.66M593.90,59.50L593.99,69.74M594.20,59.50L594.37,74.06M594.50,59.50L594.74,71.29M594.80,59.50L595.32,69.92M595.10,59.50L595.28,70.93M595.40,59.50L595.53,68.35M595.70,59.50L595.71,73.36M596.00,59.50L596.34,74.87M596.30,59.50L596.89,70.53M596.60,59.50L597.00,75.81M596.90,59.50L597.03,73.86M597.20,59.50L597.60,76.12M597.50,59.50L598.02,69.99M597.80,59.50L598.18,68.76M598.10,59.50L598.36,71.34M598.40,59.50L598.44,71.26M598.70,59.50L598.90,72.23M599.00,59.50L599.17,69.35M599.30,59.50L599.54,72.04M599.60,59.50L599.70,73.65M599.90,59.50L600.04,68.79M600.20,59.50L600.41,71.59M600.50,59.50L600.59,72.95M600.80,59.50L601.22,72.70M601.10,59.50L601.52,68.20M601.40,59.50L601.63,71.10M601.70,59.50L601.74,71.44M602.00,59.50L602.03,72.21M602.30,59.50L602.65,71.99M602.60,59.50L602.80,70.15M602.90,59.50L602.91,70.95M603.20,59.50L603.74,72.81M603.50,59.50L603.66,73.68M603.80,59.50L603.91,71.99M604.10,59.50L604.47,76.11M604.40,59.50L604.62,72.90M604.70,59.50L605.27,74.56M605.00,59.50L605.38,73.28M605.30,59.50L605.55,71.53M605.60,59.50L605.77,75.05M605.90,59.50L606.43,71.25M606.20,59.50L606.75,68.32M606.50,59.50L606.58,72.31M606.80,59.50L606.99,71.06M607.00,59.50L607.59,66.97M607.30,59.50L607.42,67.49M607.60,59.50L608.01,67.52M607.90,59.50L607.90,69.53M608.20,59.50L608.44,67.56M608.50,59.50L608.80,70.23M608.80,59.50L609.13,70.06M609.10,59.50L609.44,71.40M609.40,59.50L609.98,68.17M609.70,59.50L609.91,71.76M610.00,59.50L610.19,70.65M610.30,59.50L610.72,70.46M610.60,59.50L611.18,71.36M610.90,59.50L611.00,70.04M611.20,59.50L611.49,69.66M611.50,59.50L611.72,67.86M611.80,59.50L612.25,69.47M612.10,59.50L612.24,67.62M612.40,59.50L612.59,67.16M612.70,59.50L613.01,66.82M613.00,59.50L613.04,66.45M613.30,59.50L613.36,70.58M613.60,59.50L613.67,68.94M613.90,59.50L614.36,69.12M614.20,59.50L614.30,71.63M614.50,59.50L615.02,66.35M614.80,59.50L614.95,69.30M615.10,59.50L615.58,68.55M615.40,59.50L615.83,67.64M615.70,59.50L616.13,68.12M616.00,59.50L616.20,70.94M616.30,59.50L616.81,71.39M616.60,59.50L616.94,68.73M616.90,59.50L617.32,70.05M617.20,59.50L617.70,71.21M617.50,59.50L617.58,68.45M617.80,59.50L618.20,67.50M618.10,59.50L618.21,66.09M618.40,59.50L618.75,72.12M618.70,59.50L619.28,66.87M619.00,59.50L619.41,68.73M619.30,59.50L619.68,68.58M619.60,59.50L620.16,72.43M619.90,59.50L619.93,70.64M620.20,59.50L620.27,66.28M620.50,59.50L620.67,70.75M620.80,59.50L621.40,66.78M621.10,59.50L621.30,66.17M621.40,59.50L621.73,69.14M621.70,59.50L621.92,68.01M622.00,59.50L622.48,71.45M626.00,59.50L626.17,69.94M626.30,59.50L626.67,72.74M626.60,59.50L627.19,69.92M626.90,59.50L627.32,71.09M627.20,59.50L627.68,68.10M627.50,59.50L627.61,67.80M627.80,59.50L628.36,68.89M628.10,59.50L628.39,67.90M628.40,59.50L628.59,67.14M628.70,59.50L629.04,68.08M629.00,59.50L629.38,69.06M629.30,59.50L629.44,70.62M629.60,59.50L629.82,68.95M629.90,59.50L629.93,67.48M630.20,59.50L630.74,69.32M630.50,59.50L630.55,68.37M630.80,59.50L631.09,74.48M631.10,59.50L631.22,73.50M631.40,59.50L631.69,70.11M631.70,59.50L632.18,69.97M632.00,59.50L632.03,71.13M632.30,59.50L632.69,71.67M632.60,59.50L632.77,74.04M632.90,59.50L633.42,74.46M633.20,59.50L633.47,73.25M633.50,59.50L633.93,68.32M633.80,59.50L633.82,68.27M634.10,59.50L634.17,67.56M634.40,59.50L634.62,72.65M634.70,59.50L634.89,70.86M635.00,59.50L635.01,68.58M635.30,59.50L635.88,67.08M635.60,59.50L635.92,73.08M635.90,59.50L636.38,72.52M636.20,59.50L636.44,73.02M636.50,59.50L637.00,72.76M636.80,59.50L637.39,67.76M637.10,59.50L637.67,70.02M637.40,59.50L637.82,68.88M637.70,59.50L638.25,67.18M638.00,59.50L638.35,68.70M638.30,59.50L638.53,69.77M638.60,59.50L638.99,73.08M638.90,59.50L639.12,71.79M639.20,59.50L639.41,69.09M639.50,59.50L640.04,69.41M639.80,59.50L639.86,69.51M640.10,59.50L640.54,68.59M640.40,59.50L640.85,71.10M640.70,59.50L641.11,68.33M641.00,59.50L641.06,68.07M641.30,59.50L641.51,70.23M641.60,59.50L641.61,70.77M641.90,59.50L642.14,69.41M642.20,59.50L642.52,74.14M642.50,59.50L642.62,73.60M642.80,59.50L642.99,72.66M643.10,59.50L643.17,74.41M643.40,59.50L643.66,74.22M643.70,59.50L643.83,70.06M644.00,59.50L644.42,68.33M644.30,59.50L644.46,72.08M644.60,59.50L645.17,69.42M644.90,59.50L645.01,69.68M645.20,59.50L645.79,68.11M645.50,59.50L645.88,69.84M645.80,59.50L646.19,68.59M646.00,59.50L646.37,71.77M646.30,59.50L646.81,70.09M646.60,59.50L646.90,69.69M646.90,59.50L646.97,71.44M647.20,59.50L647.61,68.95M647.50,59.50L647.90,68.73M647.80,59.50L648.03,67.50M648.10,59.50L648.46,69.72M648.40,59.50L648.71,66.21M648.70,59.50L649.08,68.90M649.00,59.50L649.36,69.86M649.30,59.50L649.86,66.99M649.60,59.50L649.88,72.45M649.90,59.50L650.34,68.03M650.20,59.50L650.64,72.43M650.50,59.50L650.74,71.64M650.80,59.50L650.88,72.44M651.10,59.50L651.39,67.52M651.40,59.50L651.90,70.22M651.70,59.50L652.26,71.39M652.00,59.50L652.48,69.33M652.30,59.50L652.90,66.42M652.60,59.50L653.12,70.63M652.90,59.50L653.05,71.25M653.20,59.50L653.47,69.49M653.50,59.50L654.02,67.27M653.80,59.50L653.97,70.18M654.10,59.50L654.14,69.61M654.40,59.50L654.87,69.19M654.70,59.50L654.85,71.20M655.00,59.50L655.51,71.01M655.30,59.50L655.63,71.89M655.60,59.50L656.08,66.99M655.90,59.50L656.12,66.65M656.20,59.50L656.22,68.25M656.50,59.50L657.02,71.42M656.80,59.50L656.87,67.18M657.10,59.50L657.33,71.52M657.40,59.50L657.77,71.86M657.70,59.50L657.74,72.42M658.00,59.50L658.12,70.09M658.30,59.50L658.83,70.73M658.60,59.50L658.72,70.34M658.90,59.50L659.16,66.10M659.20,59.50L659.40,68.05M659.50,59.50L659.88,67.81M659.80,59.50L660.16,70.52M660.10,59.50L660.21,66.83M660.40,59.50L660.82,69.03M660.70,59.50L660.78,66.75M661.00,59.50L661.56,69.97M661.30,59.50L661.51,67.28M661.60,59.50L662.20,70.50M661.90,59.50L662.34,68.34M662.20,59.50L662.39,68.65M662.50,59.50L662.59,70.10M662.80,59.50L663.05,71.33M663.10,59.50L663.35,68.97M663.40,59.50L663.70,72.12M663.70,59.50L663.91,70.57M664.00,59.50L664.14,69.77M664.30,59.50L664.47,71.67M664.60,59.50L664.77,71.55M664.90,59.50L665.31,68.96M588.85,62.05L589.64,66.01M588.56,62.71L588.72,63.49M590.07,63.41L590.55,65.81M589.54,64.15L590.21,67.53M588.36,64.92L588.79,67.05M589.23,66.54L589.63,68.56M589.13,69.11L589.57,71.31M590.16,70.91L590.47,72.42M590.26,71.83L590.71,74.07M591.09,74.68L591.45,76.50M590.88,75.65L591.15,77.04M592.68,76.63L592.99,78.19M592.40,79.64L592.70,81.15M591.11,80.66L591.42,82.21M592.75,81.69L592.93,82.54M592.72,61.44L593.77,66.70M593.37,62.02L593.60,63.18M592.99,62.66L593.17,63.53M594.62,63.35L595.25,66.48M594.79,64.07L595.54,67.84M594.32,64.82L594.52,65.78M595.71,65.59L596.43,69.24M595.07,67.21L595.40,68.86M595.89,68.05L596.06,68.89M594.42,68.90L594.82,70.86M594.52,69.77L594.69,70.62M596.44,70.65L596.69,71.89M594.82,71.55L595.12,73.01M596.28,72.46L596.57,73.92M595.33,73.38L595.76,75.52M596.77,75.26L597.17,77.26M597.81,76.22L598.07,77.55M596.42,78.16L596.52,78.67M596.75,62.04L597.51,65.85M596.81,62.69L596.93,63.32M598.32,63.39L599.25,68.04M597.26,64.89L597.69,67.03M599.54,65.68L599.73,66.60M599.06,66.49L599.51,68.74M600.22,69.05L600.62,71.08M599.98,69.94L600.25,71.29M599.38,70.84L599.68,72.33M599.57,71.75L599.85,73.15M600.76,72.68L600.88,73.30M600.21,73.62L600.54,75.26M599.27,74.57L599.46,75.51M600.41,75.54L600.62,76.60M600.60,76.51L600.94,78.23M601.97,77.50L602.19,78.58M602.14,78.49L602.39,79.74M600.83,79.49L601.06,80.65M601.56,80.51L601.77,81.56M602.45,61.46L603.03,64.37M601.55,62.06L601.70,62.81M603.47,62.73L603.81,64.45M602.65,63.44L603.50,67.69M602.01,64.19L602.68,67.54M604.33,66.61L604.66,68.29M602.58,67.46L603.14,70.24M604.16,68.33L604.29,68.99M604.36,69.21L605.06,72.72M604.80,70.12L605.48,73.50M604.92,71.04L605.03,71.55M605.70,71.97L606.17,74.35M604.66,73.88L605.14,76.28M604.84,74.85L605.11,76.21M604.68,75.83L604.83,76.58M604.33,76.83L604.46,77.47M604.64,78.85L604.92,80.25M606.90,79.87L607.10,80.83M605.21,80.91L605.55,82.62M606.94,81.95L607.16,83.07M606.18,83.00L606.46,84.37M607.14,61.44L607.66,64.01M607.63,62.01L608.59,66.78M608.55,62.64L608.99,64.85M607.22,63.32L607.94,66.94M607.87,64.03L608.13,65.34M608.68,64.77L609.04,66.60M608.84,65.54L609.22,67.44M609.00,67.14L609.47,69.51M608.78,68.81L609.27,71.26M609.84,69.67L610.32,72.07M610.66,70.54L610.79,71.20M609.88,71.43L610.30,73.51M611.44,72.33L611.76,73.95M609.98,74.17L610.23,75.44M610.37,75.10L610.50,75.74M611.42,77.00L611.66,78.20M611.56,61.45L611.98,63.55M611.80,62.68L612.61,66.76M612.24,63.37L612.52,64.80M612.23,64.10L612.82,67.08M614.36,64.86L614.91,67.62M614.85,66.45L615.21,68.23M614.81,67.27L615.10,68.74M613.47,68.12L613.74,69.45M613.66,68.98L614.08,71.07M613.54,69.86L613.79,71.06M614.11,70.75L614.35,71.96M615.77,71.66L616.12,73.39M615.91,72.58L616.39,75.00M615.79,73.51L616.11,75.12M616.44,74.45L616.78,76.18M614.46,75.41L614.65,76.35M615.28,77.35L615.58,78.88M616.70,78.34L616.88,79.25M616.04,61.46L616.69,64.69M615.62,62.05L616.60,66.97M617.94,63.41L618.10,64.22M616.16,64.15L616.72,66.99M616.35,65.72L617.12,69.53M616.45,66.54L616.59,67.28M618.26,67.38L619.04,71.27M617.08,69.11L617.50,71.24M618.37,70.00L618.58,71.05M617.72,70.91L618.10,72.80M618.61,71.83L618.93,73.42M618.97,72.77L619.30,74.45M618.66,74.68L618.82,75.46M620.43,75.65L620.80,77.49M620.59,81.69L620.78,82.62M624.69,61.46L625.38,64.93M625.86,62.74L626.43,65.59M625.79,63.45L625.99,64.44M626.00,64.99L626.13,65.62M625.53,65.80L626.04,68.34M624.24,66.63L624.95,70.17M626.83,67.49L627.50,70.85M625.57,69.26L625.89,70.86M625.51,70.16L626.10,73.08M625.85,71.09L626.27,73.16M625.75,72.03L626.11,73.82M626.11,73.94L626.29,74.82M626.46,74.92L626.94,77.28M626.44,75.91L626.83,77.86M628.13,76.91L628.34,77.93M626.85,77.92L627.04,78.86M627.94,78.94L628.29,80.71M626.60,79.97L626.88,81.33M627.11,81.01L627.28,81.86M627.64,82.06L628.00,83.83M629.35,83.11L629.65,84.64M629.00,84.18L629.13,84.81M630.11,61.47L630.54,63.62M629.76,62.08L630.13,63.94M630.46,62.76L630.99,65.45M629.50,63.49L630.04,66.21M629.04,64.25L629.93,68.70M631.22,65.05L632.06,69.22M629.45,66.72L630.28,70.85M629.72,67.59L630.53,71.65M631.58,68.47L632.17,71.43M630.64,69.38L631.41,73.19M630.33,70.30L630.51,71.20M630.79,72.19L631.00,73.26M630.51,73.16L630.79,74.56M631.55,74.14L631.94,76.11M631.65,75.13L632.16,77.66M630.80,77.14L631.00,78.18M633.05,78.17L633.50,80.39M631.71,79.20L631.87,80.04M633.00,80.25L633.22,81.33M633.41,82.37L633.71,83.90M633.79,83.44L633.95,84.24M632.70,85.61L633.00,87.10M632.27,86.71L632.41,87.40M632.03,87.81L632.17,88.53M633.36,88.93L633.60,90.14M633.63,61.45L634.18,64.20M633.46,62.04L633.84,63.95M634.46,62.69L635.11,65.96M634.50,63.39L635.14,66.57M635.34,64.13L636.17,68.26M635.22,64.89L635.74,67.51M634.83,65.68L635.61,69.61M637.42,69.05L637.83,71.10M636.94,69.94L637.14,70.93M635.71,70.84L636.12,72.91M637.38,72.68L637.53,73.41M637.09,73.62L637.43,75.33M636.20,75.54L636.44,76.72M637.81,76.51L638.00,77.45M636.78,77.50L637.01,78.66M638.34,78.49L638.56,79.60M637.30,80.51L637.48,81.41M639.21,61.47L639.54,63.11M639.54,62.08L639.88,63.78M638.81,62.76L639.30,65.21M638.43,64.24L638.95,66.81M638.48,65.86L638.85,67.73M640.14,66.70L640.88,70.43M640.33,69.35L640.98,72.60M639.73,72.16L640.33,75.12M639.17,73.12L639.80,76.27M641.24,74.10L641.53,75.54M641.73,75.08L642.30,77.95M641.21,76.08L641.34,76.74M641.86,77.10L642.42,79.87M641.56,78.12L641.74,79.02M641.52,79.15L642.02,81.65M640.25,80.19L640.63,82.07M642.57,82.30L642.93,84.07M642.13,83.37L642.50,85.26M641.55,84.45L641.76,85.46M642.80,85.54L642.94,86.23M642.89,86.63L643.13,87.82M641.88,87.74L642.08,88.70M641.25,61.47L641.53,62.89M640.59,62.09L641.58,67.06M641.70,64.27L642.63,68.91M641.11,65.89L641.48,67.76M640.63,66.74L641.11,69.18M642.66,68.51L643.11,70.76M642.38,69.42L642.62,70.63M641.23,70.35L641.56,71.97M642.50,71.29L642.84,72.96M642.46,73.21L642.82,74.98M643.97,74.20L644.35,76.08M643.42,75.19L643.76,76.90M643.44,76.20L643.83,78.18M644.72,79.29L645.06,81.02M644.27,80.34L644.45,81.25M643.86,81.40L644.02,82.20M644.43,82.47L644.80,84.33M644.36,83.55L644.73,85.40M643.95,84.63L644.20,85.88M645.39,85.73L645.63,86.94M643.94,87.94L644.05,88.53M643.71,89.06L643.91,90.05M645.38,90.19L645.59,91.25M648.88,61.45L649.61,65.09M649.13,62.04L649.27,62.76M648.72,62.69L648.87,63.44M648.69,63.39L648.85,64.20M650.27,64.13L650.46,65.06M649.03,65.68L649.57,68.39M649.15,67.33L649.46,68.86M649.95,69.05L650.30,70.80M651.08,70.84L651.61,73.46M650.58,71.75L650.86,73.17M651.23,72.68L651.47,73.92M651.78,73.62L652.01,74.78M652.22,74.57L652.51,76.01M652.44,75.54L652.68,76.71M652.23,77.50L652.45,78.58M652.54,78.49L652.72,79.37M652.18,80.51L652.40,81.62M654.08,61.47L654.40,63.06M653.15,62.07L654.18,67.18M653.49,62.74L653.61,63.32M654.13,63.46L654.46,65.11M655.23,64.22L655.67,66.41M653.05,65.01L653.90,69.25M655.14,65.82L655.89,69.57M654.98,66.66L655.53,69.40M654.80,67.52L655.44,70.74M654.90,68.40L655.50,71.37M653.99,69.29L654.75,73.10M655.62,70.21L655.92,71.75M655.42,72.08L655.85,74.22M655.81,73.03L656.01,73.99M656.57,74.98L656.81,76.19M656.21,75.98L656.38,76.81M657.33,76.98L657.66,78.62M655.88,77.99L656.36,80.40M655.90,79.02L656.03,79.66M657.37,80.05L657.71,81.73M656.35,81.10L656.53,82.02M656.54,82.15L656.64,82.68M656.53,83.21L656.66,83.90M657.46,61.46L657.73,62.82M659.18,62.06L660.02,66.26M659.24,62.72L659.78,65.42M659.81,63.43L660.62,67.48M659.58,64.17L660.26,67.61M658.54,64.95L659.34,68.97M659.26,65.75L659.60,67.45M660.96,67.42L661.48,70.06M660.20,68.28L660.45,69.53M659.67,69.17L660.39,72.73M661.06,70.07L661.42,71.86M660.21,71.91L660.40,72.87M661.69,72.85L661.90,73.89M660.39,74.77L660.64,76.07M661.72,75.75L661.84,76.34M661.50,76.73L661.92,78.80M660.42,77.73L660.55,78.39M661.98,78.74L662.38,80.74M660.86,80.79L660.98,81.41M661.65,81.83L661.79,82.51M661.94,82.87L662.16,83.97M619.55,60.29L619.88,61.93M618.92,60.72L619.30,62.61M618.49,61.21L618.79,62.70M619.27,61.76L619.81,64.47M619.92,62.35L620.64,65.95M621.12,62.98L621.44,64.60M620.70,63.65L621.24,66.33M620.23,64.34L620.68,66.56M620.52,65.05L620.96,67.26M621.47,65.80L621.92,68.06M620.55,67.35L620.67,67.92M621.50,68.15L622.09,71.12M622.27,68.98L622.49,70.06M622.26,70.68L622.76,73.18M621.93,71.56L622.26,73.18M623.73,76.16L623.95,77.27M622.22,77.12L622.57,78.86M621.94,79.08L622.49,81.82M623.02,81.08L623.19,81.90M623.61,82.11L623.75,82.83M623.98,84.18L624.37,86.15M623.81,85.23L623.97,86.05M624.07,87.37L624.24,88.24M624.54,88.45L624.76,89.51M623.80,89.55L623.91,90.07M623.58,90.65L623.75,91.47M625.94,91.76L626.14,92.74M625.29,92.88L625.42,93.52M625.66,94.01L625.97,95.57M624.09,95.15L624.20,95.72M624.65,96.29L624.79,96.96M625.48,97.45L625.62,98.13M626.67,99.78L626.82,100.53M645.00,60.50L645.11,71.95M645.30,60.50L645.67,74.05M645.60,60.50L645.63,71.44M645.90,60.50L646.13,73.27M646.20,60.50L646.35,72.50M646.50,60.50L646.61,70.97M646.80,60.50L647.38,69.18M647.10,60.50L647.27,73.92M647.40,60.50L647.80,67.96M647.70,60.50L647.81,69.16M648.00,60.50L648.17,73.41M648.30,60.50L648.72,74.36M648.60,60.50L649.00,71.90M648.90,60.50L649.13,72.52M649.20,60.50L649.50,67.91M649.50,60.50L649.80,70.19M649.80,60.50L650.12,67.84M650.10,60.50L650.12,74.38M650.40,60.50L650.62,69.81M650.70,60.50L650.79,71.65M651.00,60.50L651.55,68.76M651.30,60.50L651.60,71.00M651.60,60.50L652.06,71.46M651.90,60.50L652.04,68.83M652.20,60.50L652.63,68.05M652.50,60.50L653.02,67.73M652.80,60.50L652.91,70.77M653.10,60.50L653.61,71.84M653.40,60.50L653.85,72.83M653.70,60.50L654.13,67.86M654.00,60.50L654.50,68.53M654.30,60.50L654.40,67.76M654.60,60.50L654.62,73.64M654.90,60.50L655.13,68.11M655.20,60.50L655.23,73.42M655.50,60.50L655.86,73.91M655.80,60.50L655.82,68.29M656.10,60.50L656.27,68.84M656.40,60.50L656.47,68.90M656.70,60.50L657.08,68.68M657.00,60.50L657.10,71.25M657.30,60.50L657.53,68.55M657.60,60.50L657.94,71.06M657.90,60.50L658.13,70.82M658.20,60.50L658.22,71.81M658.50,60.50L658.62,69.85M658.80,60.50L658.81,73.71M659.10,60.50L659.45,70.25M659.40,60.50L659.73,74.08M659.70,60.50L659.78,70.18M660.00,60.50L660.42,70.10M660.30,60.50L660.72,73.86M660.60,60.50L660.62,69.49M660.90,60.50L661.08,72.75M661.20,60.50L661.67,72.40M661.50,60.50L662.05,68.80M661.80,60.50L662.04,73.47M662.10,60.50L662.56,68.29M662.40,60.50L662.99,72.68M662.70,60.50L663.22,70.03M663.00,60.50L663.36,74.21M663.30,60.50L663.84,71.54M663.60,60.50L664.13,74.49M663.90,60.50L664.40,72.09M664.20,60.50L664.78,68.51M664.50,60.50L664.74,71.45M664.80,60.50L664.88,72.97M665.10,60.50L665.14,71.90M665.40,60.50L665.57,69.76M665.70,60.50L666.06,68.84M666.00,60.50L666.27,73.50M666.30,60.50L666.89,69.34M666.60,60.50L666.82,72.36M666.90,60.50L667.01,73.44M667.20,60.50L667.32,71.40M667.50,60.50L667.70,67.51M667.80,60.50L667.80,67.51M668.10,60.50L668.30,69.43M668.40,60.50L668.99,71.96M668.70,60.50L668.74,72.51M669.00,60.50L669.14,70.87M669.30,60.50L669.73,73.50M669.60,60.50L670.16,70.45M669.90,60.50L670.09,70.28M670.20,60.50L670.39,72.69M670.50,60.50L670.78,72.30M670.80,60.50L670.89,72.98M671.10,60.50L671.68,68.92M671.40,60.50L671.77,68.63M671.70,60.50L671.72,70.40M672.00,60.50L672.11,72.61M672.30,60.50L672.64,72.22M672.60,60.50L673.18,67.91M672.90,60.50L672.96,67.75M673.20,60.50L673.48,73.27M673.50,60.50L673.91,71.33M673.80,60.50L674.31,70.11M674.10,60.50L674.17,71.99M674.40,60.50L674.42,69.11M674.70,60.50L674.72,68.63M675.00,60.50L675.04,71.22M675.30,60.50L675.38,71.72M675.60,60.50L676.09,69.91M675.90,60.50L675.97,72.20M676.20,60.50L676.64,73.69M676.50,60.50L676.83,71.57M676.80,60.50L677.32,72.24M643.13,61.76L644.11,66.64M643.01,62.24L643.13,62.80M643.37,62.75L644.11,66.45M642.70,63.29L642.86,64.09M645.12,63.85L645.90,67.74M644.06,64.43L644.44,66.32M644.18,65.02L645.02,69.24M644.94,66.26L645.38,68.46M644.13,66.90L645.06,71.51M645.99,67.54L646.15,68.36M645.62,68.20L645.84,69.27M645.95,68.87L646.60,72.12M647.34,69.55L647.69,71.32M647.60,70.24L647.71,70.78M646.00,70.94L646.18,71.85M647.90,72.36L648.03,73.04M648.00,73.08L648.33,74.73M647.60,73.81L648.15,76.56M647.31,74.55L647.75,76.78M648.48,75.29L648.85,77.13M647.97,76.79L648.14,77.65M648.88,77.55L649.13,78.78M648.86,79.09L649.12,80.36M649.05,61.36L649.52,63.73M648.98,62.33L649.13,63.06M650.34,62.88L651.03,66.33M649.23,64.07L649.90,67.38M650.58,64.69L651.41,68.87M650.66,65.33L651.16,67.85M649.46,65.99L649.99,68.64M651.47,66.66L651.72,67.92M650.55,67.34L651.21,70.65M652.32,68.04L652.56,69.28M651.88,68.75L652.08,69.77M652.28,69.47L652.86,72.37M653.02,70.21L653.78,73.99M651.78,70.95L652.34,73.78M652.70,71.70L653.05,73.46M653.44,72.46L653.77,74.12M653.67,73.23L654.20,75.86M652.43,74.00L652.91,76.43M654.04,74.79L654.19,75.57M652.81,76.38L653.11,77.84M654.99,77.18L655.40,79.21M654.90,77.99L655.11,79.07M654.12,78.81L654.59,81.16M654.21,79.64L654.39,80.53M655.54,80.47L655.74,81.47M655.97,81.31L656.28,82.86M654.50,82.15L654.66,82.94M655.95,83.00L656.26,84.57M656.18,83.85L656.39,84.90M655.97,84.71L656.08,85.25M656.06,85.58L656.33,86.95M656.78,62.30L657.02,63.50M655.25,62.84L655.95,66.33M655.65,63.40L656.18,66.04M658.16,64.60L659.14,69.49M657.20,65.22L657.92,68.78M656.67,65.86L657.38,69.43M657.81,66.52L658.28,68.85M658.20,67.19L658.89,70.62M657.26,67.87L658.04,71.75M657.69,68.56L657.82,69.24M658.95,69.97L659.37,72.07M659.99,70.70L660.28,72.17M660.30,71.43L660.96,74.73M658.78,72.17L659.23,74.40M660.97,73.67L661.23,74.93M660.34,74.44L660.80,76.73M660.71,75.21L660.92,76.22M660.08,75.99L660.50,78.09M661.40,76.77L661.58,77.71M662.78,77.57L662.88,78.07M662.89,79.17L663.04,79.95M663.37,80.80L663.69,82.37M662.24,82.45L662.37,83.08M664.36,83.28L664.63,84.63M662.10,61.37L662.35,62.62M663.25,61.85L664.09,66.06M662.81,62.38L663.40,65.32M663.03,62.94L663.53,65.46M662.93,63.54L663.79,67.81M662.45,64.16L662.70,65.41M662.64,64.80L663.10,67.11M665.14,65.47L665.66,68.05M664.15,66.84L664.55,68.80M664.93,67.54L665.15,68.66M664.17,69.00L664.41,70.24M664.70,69.74L665.42,73.34M664.56,70.50L665.28,74.09M666.49,71.26L666.83,72.95M665.93,72.03L666.24,73.63M667.00,72.82L667.43,74.96M667.54,73.61L668.18,76.82M667.81,74.41L668.53,77.99M666.19,75.22L666.90,78.76M667.24,76.86L667.51,78.20M668.83,78.53L669.03,79.54M667.74,80.22L667.86,80.84M669.61,81.08L669.88,82.46M667.65,81.95L668.07,84.05M668.55,82.82L668.91,84.64M668.05,83.69L668.17,84.30M669.14,84.57L669.41,85.91M668.41,85.46L668.59,86.36M669.82,86.35L670.00,87.27M668.94,87.25L669.10,88.05M669.32,88.15L669.48,88.94M667.25,61.38L667.92,64.70M668.93,62.42L669.53,65.41M669.78,63.01L669.99,64.06M668.88,63.62L669.51,66.77M670.21,64.26L670.83,67.40M669.99,66.31L670.75,70.08M670.36,67.02L671.00,70.26M671.20,69.25L671.95,73.02M669.98,70.02L670.85,74.35M672.43,70.80L672.84,72.83M670.63,71.59L671.17,74.32M672.31,72.39L672.79,74.76M670.69,73.20L671.45,76.97M673.08,74.01L673.70,77.13M671.29,74.84L671.58,76.29M671.44,75.67L672.03,78.60M672.90,77.37L673.02,77.97M674.12,78.22L674.28,79.03M672.99,79.96L673.33,81.65M673.35,80.84L673.50,81.62M673.81,81.72L674.14,83.37M675.25,82.61L675.78,85.27M674.69,85.32L674.88,86.29M674.61,86.24L674.93,87.82M674.38,88.09L674.48,88.62M676.46,89.02L676.76,90.54M675.16,89.95L675.32,90.76M675.42,90.90L675.73,92.43M677.39,91.84L677.69,93.33M677.04,92.79L677.22,93.72M677.90,62.18L678.90,67.20M678.25,62.46L679.50,68.75M680.08,62.79L680.43,64.56M680.27,63.17L680.76,65.59M681.01,66.04L681.22,67.11M681.66,67.75L681.85,68.70M682.53,68.36L683.91,75.29M681.93,68.98L682.98,74.25M682.08,69.61L682.69,72.66M682.51,70.26L683.84,76.89M682.27,71.60L682.63,73.45M681.63,72.29L682.43,76.31M682.18,72.99L682.79,75.99M682.83,73.70L683.20,75.57M683.70,74.43L684.90,80.44M683.75,75.16L684.87,80.78M683.33,75.91L684.14,79.95M684.32,76.66L684.50,77.57M685.16,77.43L686.01,81.69M685.12,78.21L685.87,81.97M685.50,81.41L685.62,81.98M685.72,82.23L686.63,86.82M686.48,83.06L686.58,83.59M686.10,83.90L687.09,88.82M686.21,85.61L687.15,90.30M686.31,87.35L686.42,87.90M686.70,88.23L687.56,92.54M686.17,89.12L686.78,92.18M686.46,90.02L686.84,91.93M688.37,90.92L688.76,92.88M687.07,91.83L687.82,95.58M686.83,92.75L687.08,93.98M687.74,93.68L688.39,96.92M687.90,94.61L688.31,96.65M688.33,95.55L688.46,96.24M689.59,96.50L690.13,99.18M690.05,97.45L690.46,99.47M688.43,98.41L688.56,99.05M690.80,99.38L691.28,101.80M689.96,100.35L690.13,101.20M689.09,101.34L689.44,103.06M691.65,103.31L691.84,104.29M691.08,104.31L691.21,104.93M690.39,105.32L690.55,106.15M691.51,106.33L691.70,107.27M678.43,63.38L679.34,67.92M678.66,63.87L678.83,64.74M680.13,65.01L680.89,68.80M679.17,65.62L679.99,69.68M679.70,67.61L680.18,69.98M681.15,68.31L681.29,68.97M682.05,69.75L682.24,70.71M682.38,70.50L682.73,72.24M681.97,71.25L682.37,73.27M683.08,72.02L683.39,73.55M681.98,72.80L682.62,75.97M683.68,73.59L683.78,74.09M682.94,74.39L683.69,78.09M681.80,75.20L682.00,76.21M684.27,76.01L684.75,78.42M682.64,76.84L682.88,78.03M683.52,77.67L683.64,78.25M684.87,78.52L685.17,80.03M684.03,79.37L684.57,82.06M684.43,80.22L684.54,80.80M683.89,81.96L684.32,84.11M685.33,82.84L685.81,85.21M686.14,83.72L686.30,84.56M685.25,86.42L685.37,87.01M684.85,88.24L685.04,89.22M686.04,90.09L686.16,90.70M686.89,91.02L687.11,92.09M686.89,91.95L687.02,92.57M687.78,92.90L687.98,93.89M686.58,93.84L686.84,95.18M686.18,94.79L686.42,96.02M684.02,64.34L684.65,67.48M683.20,65.29L683.51,66.84M684.32,65.82L684.68,67.62M684.22,66.38L684.95,70.02M685.75,66.96L685.96,67.99M684.54,68.81L685.46,73.40M684.87,69.46L685.74,73.78M684.80,70.12L685.00,71.12M685.35,71.48L685.80,73.78M685.63,72.18L685.83,73.18M687.53,72.88L688.09,75.69M686.36,74.32L686.67,75.86M688.40,75.06L688.52,75.65M687.69,75.80L688.31,78.89M687.79,79.62L688.08,81.06M690.35,80.40L690.70,82.15M690.28,81.19L690.60,82.79M690.90,82.79L691.41,85.38M688.98,83.60L689.36,85.50M690.32,84.41L690.84,86.98M689.46,85.23L689.79,86.91M690.57,86.05L690.70,86.71M691.14,87.72L691.55,89.75M692.21,88.56L692.33,89.15M690.83,89.40L691.07,90.56M691.01,90.25L691.12,90.85M691.28,91.10L691.51,92.21M692.80,92.82L693.11,94.40M693.75,93.69L693.91,94.51M693.46,94.56L693.70,95.74M693.20,95.44L693.33,96.13M695.94,65.77L696.49,68.51M698.43,66.12L699.23,70.10M696.42,66.50L696.86,68.72M698.83,66.90L700.27,74.07M698.37,67.32L698.50,67.95M699.49,67.76L700.57,73.19M699.00,68.22L699.54,70.93M698.40,68.69L699.68,75.10M699.17,69.68L700.62,76.90M700.48,70.72L700.95,73.09M699.24,71.26L699.50,72.57M699.66,71.80L700.10,74.01M701.58,72.36L701.87,73.84M702.30,72.93L702.89,75.90M702.63,75.29L703.90,81.69M702.29,75.91L702.79,78.41M703.23,76.53L703.63,78.52M702.24,77.79L702.60,79.60M704.56,78.43L705.16,81.40M704.24,79.08L704.92,82.47M704.39,79.74L705.23,83.93M703.58,80.40L703.94,82.16M705.92,81.08L706.94,86.18M705.12,81.75L705.81,85.17M706.08,82.44L706.35,83.82M705.08,83.13L705.40,84.73M704.85,83.82L705.14,85.23M706.54,84.52L706.80,85.81M706.41,85.23L707.07,88.52M706.64,85.95L707.00,87.73M707.59,86.67L707.87,88.07M707.58,87.39L708.47,91.88M707.03,88.12L707.74,91.67M708.42,88.86L708.86,91.02M709.25,89.60L709.49,90.79M708.97,91.10L709.76,95.06M707.73,91.85L707.89,92.64M709.51,92.61L710.07,95.44M710.10,93.38L710.47,95.24M709.89,94.15L710.37,96.55M709.02,94.93L709.44,97.03M710.14,95.71L710.63,98.14M710.90,97.28L711.08,98.20M712.12,98.07L712.30,98.97M710.60,98.87L711.02,100.98M710.67,99.68L711.20,102.30M713.27,101.29L713.74,103.64M712.43,102.11L712.75,103.74M712.65,102.93L712.87,104.01M713.28,104.58L713.53,105.84M713.88,105.41L714.18,106.92M714.15,106.25L714.47,107.85M715.10,107.09L715.31,108.15M714.43,107.93L714.64,109.02M697.82,66.36L698.08,67.63M698.98,66.82L699.49,69.33M698.90,67.33L699.58,70.71M698.55,67.88L699.38,72.02M699.08,69.07L699.46,71.00M700.39,69.69L700.85,72.01M699.58,70.33L700.38,74.31M700.84,71.66L701.25,73.68M701.04,72.34L701.54,74.86M702.59,73.75L702.75,74.57M702.41,74.47L702.54,75.15M701.04,75.21L701.16,75.80M700.89,75.95L701.51,79.05M701.21,76.70L701.32,77.24M703.74,77.46L704.12,79.35M703.04,78.23L703.60,81.05M702.97,79.79L703.19,80.88M704.59,80.58L704.74,81.34M703.75,81.38L703.94,82.32M703.23,82.99L703.56,84.67M704.50,83.81L704.67,84.66M705.20,84.64L705.38,85.54M706.21,85.47L706.56,87.20M705.10,86.31L705.50,88.32M704.41,87.15L704.56,87.90M704.53,88.00L704.65,88.63M705.17,88.85L705.40,89.98M706.04,89.71L706.30,91.01M707.65,90.58L707.87,91.70M703.55,67.38L704.09,70.06M704.37,67.87L705.28,72.39M702.87,68.42L703.70,72.58M703.28,69.01L703.84,71.84M705.38,69.62L705.73,71.40M705.59,70.26L706.40,74.34M704.66,70.93L705.42,74.72M705.28,71.61L705.48,72.63M705.36,73.02L705.71,74.78M706.18,73.75L706.58,75.77M705.73,74.50L706.19,76.81M705.29,75.25L705.93,78.44M706.35,76.02L706.63,77.40M706.13,76.80L706.70,79.67M705.53,77.59L706.00,79.94M706.22,78.39L706.48,79.71M706.27,80.01L706.82,82.77M706.64,80.84L706.81,81.69M708.56,81.67L708.67,82.24M708.53,83.37L708.64,83.90M708.82,84.22L708.94,84.84M709.05,85.09L709.27,86.16M708.58,85.96L708.79,87.01M708.18,87.72L708.51,89.35M709.23,88.61L709.41,89.50M709.72,89.51L710.00,90.90M709.36,90.42L709.70,92.10M711.21,92.24L711.59,94.17M710.53,94.09L710.83,95.57M711.01,95.02L711.13,95.65M710.93,95.95L711.18,97.20M710.36,96.90L710.56,97.88M712.18,97.84L712.42,99.05M711.29,98.79L711.45,99.58M715.99,64.45L716.72,68.06M716.02,65.03L716.90,69.46M716.04,66.37L716.56,68.97M715.56,67.09L716.42,71.43M715.53,67.85L716.10,70.72M715.91,68.63L716.26,70.38M717.35,70.27L718.24,74.67M715.07,71.11L715.41,72.80M717.58,72.85L717.92,74.57M717.42,73.74L718.18,77.56M715.67,74.65L716.17,77.14M717.58,75.57L718.07,77.99M715.99,76.50L716.60,79.54M717.19,77.44L717.34,78.16M716.89,78.40L717.52,81.50M718.23,80.34L718.73,82.83M717.53,81.32L717.83,82.82M717.95,82.31L718.69,86.03M717.53,83.32L718.25,86.92M718.03,84.33L718.62,87.28M717.84,86.38L718.10,87.66M718.22,87.42L718.53,88.97M717.17,88.46L717.41,89.70M718.82,89.51L719.21,91.50M718.60,90.57L719.19,93.57M719.42,91.64L719.68,92.91M717.89,92.71L718.43,95.42M719.31,94.88L719.50,95.82M718.53,95.97L718.82,97.39M718.09,97.07L718.36,98.41M719.78,98.18L719.92,98.89M718.96,99.29L719.37,101.33M720.49,102.66L720.91,104.79M718.58,104.93L718.89,106.50M720.06,106.08L720.28,107.14M718.80,107.23L719.15,108.97M720.82,108.38L721.07,109.64M720.48,109.54L720.63,110.26M719.95,110.71L720.23,112.09M719.90,113.05L720.07,113.90M720.67,115.42L720.82,116.19M719.63,116.60L719.93,118.09M720.77,117.80L721.01,119.00M722.00,62.00L722.00,86.00M722.00,59.50L722.41,64.52M722.30,59.50L722.36,62.65M722.60,59.50L722.71,63.41M722.90,59.50L723.01,63.36M723.20,59.50L723.27,62.58M723.50,59.50L723.81,64.77M723.80,59.50L723.90,62.78M724.10,59.50L724.54,62.74M724.40,59.50L724.48,63.97M724.70,59.50L724.88,64.85M725.00,59.50L725.30,64.07M725.30,59.50L725.52,62.58M725.60,59.50L726.09,63.67M725.90,59.50L726.40,62.82M726.20,59.50L726.46,64.12M726.50,59.50L726.59,62.72M726.80,59.50L727.36,65.32M727.10,59.50L727.70,64.13M727.40,59.50L727.84,64.30M727.70,59.50L727.99,63.02M728.00,59.50L728.39,63.83M728.30,59.50L728.71,62.63M728.60,59.50L728.78,62.84M728.90,59.50L729.36,63.94M729.20,59.50L729.37,64.84M729.50,59.50L729.81,63.37M729.80,59.50L730.04,62.51M730.10,59.50L730.14,62.61M730.40,59.50L730.98,65.14M730.70,59.50L731.03,65.32M731.00,59.50L731.32,64.54M731.30,59.50L731.36,63.81M731.60,59.50L731.97,63.73M731.90,59.50L732.29,63.53" stroke="#000" stroke-width="0.6" fill="none"/>
<line x1="434.50" y1="63.00" x2="434.50" y2="189.60" stroke="#555" stroke-width="0.85"/>
<line x1="439.50" y1="63.00" x2="439.50" y2="74.80" stroke="#444" stroke-width="0.8"/>
<line x1="490.50" y1="63.00" x2="490.50" y2="89.00" stroke="#111" stroke-width="0.9"/>
<line x1="508.50" y1="63.00" x2="508.50" y2="90.00" stroke="#111" stroke-width="0.8"/>
<line x1="512.50" y1="63.00" x2="512.50" y2="125.40" stroke="#777" stroke-width="1.0"/>
<line x1="549.50" y1="63.00" x2="549.50" y2="129.70" stroke="#555" stroke-width="0.9"/>
<line x1="552.50" y1="63.00" x2="552.50" y2="204.60" stroke="#444" stroke-width="1.0"/>
<line x1="566.50" y1="63.00" x2="566.50" y2="149.00" stroke="#555" stroke-width="1.0"/>
<line x1="608.50" y1="63.00" x2="608.50" y2="117.60" stroke="#777" stroke-width="1.0"/>
<line x1="625.50" y1="63.00" x2="625.50" y2="115.30" stroke="#333" stroke-width="0.9"/>
<line x1="633.50" y1="63.00" x2="633.50" y2="130.80" stroke="#333" stroke-width="1.0"/>
<line x1="646.50" y1="63.00" x2="646.50" y2="139.70" stroke="#333" stroke-width="0.9"/>
<line x1="652.50" y1="63.00" x2="652.50" y2="96.50" stroke="#444" stroke-width="0.9"/>
<line x1="727.50" y1="63.00" x2="727.50" y2="98.00" stroke="#111" stroke-width="0.9"/>
<line x1="730.50" y1="63.00" x2="730.50" y2="98.70" stroke="#111" stroke-width="1.0"/>
<line x1="724.50" y1="63.00" x2="724.50" y2="80.00" stroke="#222" stroke-width="0.8"/>
<rect x="424.10" y="218.40" width="307.50" height="53.70" fill="#bebdbf" stroke="none" stroke-width="1"/>
<rect x="458.94" y="218.40" width="0.72" height="26.80" fill="#bfc5c9" stroke="none" stroke-width="1"/>
<rect x="462.08" y="218.40" width="0.99" height="26.80" fill="#bfc5c9" stroke="none" stroke-width="1"/>
<rect x="464.76" y="218.40" width="1.10" height="26.80" fill="#b8d0cf" stroke="none" stroke-width="1"/>
<rect x="466.66" y="218.40" width="1.21" height="26.80" fill="#c9b8bb" stroke="none" stroke-width="1"/>
<rect x="468.18" y="218.40" width="1.18" height="26.80" fill="#b8d0cf" stroke="none" stroke-width="1"/>
<rect x="470.44" y="218.40" width="0.92" height="26.80" fill="#c9b8bb" stroke="none" stroke-width="1"/>
<rect x="471.68" y="218.40" width="0.77" height="26.80" fill="#b9cdcb" stroke="none" stroke-width="1"/>
<rect x="473.39" y="218.40" width="0.54" height="26.80" fill="#b8d0cf" stroke="none" stroke-width="1"/>
<rect x="476.82" y="218.40" width="0.96" height="26.80" fill="#b9cdcb" stroke="none" stroke-width="1"/>
<rect x="479.27" y="218.40" width="0.40" height="26.80" fill="#b9cdcb" stroke="none" stroke-width="1"/>
<rect x="482.91" y="218.40" width="1.10" height="26.80" fill="#b9cdcb" stroke="none" stroke-width="1"/>
<rect x="486.79" y="218.40" width="1.19" height="26.80" fill="#b9cdcb" stroke="none" stroke-width="1"/>
<rect x="488.80" y="218.40" width="0.89" height="26.80" fill="#b9cdcb" stroke="none" stroke-width="1"/>
<rect x="491.90" y="218.40" width="0.56" height="26.80" fill="#b9cdcb" stroke="none" stroke-width="1"/>
<rect x="495.81" y="218.40" width="1.27" height="26.80" fill="#b9cdcb" stroke="none" stroke-width="1"/>
<rect x="499.52" y="218.40" width="0.42" height="26.80" fill="#c4c0c4" stroke="none" stroke-width="1"/>
<rect x="501.88" y="218.40" width="0.64" height="26.80" fill="#b9cdcb" stroke="none" stroke-width="1"/>
<rect x="504.01" y="218.40" width="0.93" height="26.80" fill="#c8c0b4" stroke="none" stroke-width="1"/>
<rect x="506.88" y="218.40" width="0.70" height="26.80" fill="#bfc5c9" stroke="none" stroke-width="1"/>
<rect x="508.94" y="218.40" width="0.83" height="26.80" fill="#c4c0c4" stroke="none" stroke-width="1"/>
<rect x="511.03" y="218.40" width="0.83" height="26.80" fill="#b8d0cf" stroke="none" stroke-width="1"/>
<rect x="512.72" y="218.40" width="1.28" height="26.80" fill="#c4c0c4" stroke="none" stroke-width="1"/>
<rect x="513.99" y="218.40" width="0.72" height="26.80" fill="#bfc5c9" stroke="none" stroke-width="1"/>
<rect x="516.32" y="218.40" width="1.11" height="26.80" fill="#c8c0b4" stroke="none" stroke-width="1"/>
<rect x="458.23" y="245.20" width="1.16" height="26.90" fill="#c8c0b4" stroke="none" stroke-width="1"/>
<rect x="460.69" y="245.20" width="0.56" height="26.90" fill="#bfc5c9" stroke="none" stroke-width="1"/>
<rect x="464.57" y="245.20" width="0.51" height="26.90" fill="#b9cdcb" stroke="none" stroke-width="1"/>
<rect x="466.46" y="245.20" width="0.71" height="26.90" fill="#b8d0cf" stroke="none" stroke-width="1"/>
<rect x="468.65" y="245.20" width="0.63" height="26.90" fill="#c8c0b4" stroke="none" stroke-width="1"/>
<rect x="471.15" y="245.20" width="1.07" height="26.90" fill="#c8c0b4" stroke="none" stroke-width="1"/>
<rect x="474.58" y="245.20" width="0.43" height="26.90" fill="#c4c0c4" stroke="none" stroke-width="1"/>
<rect x="478.43" y="245.20" width="0.59" height="26.90" fill="#c9b8bb" stroke="none" stroke-width="1"/>
<rect x="481.06" y="245.20" width="1.23" height="26.90" fill="#c4c0c4" stroke="none" stroke-width="1"/>
<rect x="483.21" y="245.20" width="0.89" height="26.90" fill="#bfc5c9" stroke="none" stroke-width="1"/>
<rect x="485.29" y="245.20" width="0.68" height="26.90" fill="#c4c0c4" stroke="none" stroke-width="1"/>
<rect x="488.73" y="245.20" width="0.53" height="26.90" fill="#bfc5c9" stroke="none" stroke-width="1"/>
<rect x="491.86" y="245.20" width="0.55" height="26.90" fill="#b8d0cf" stroke="none" stroke-width="1"/>
<rect x="493.19" y="245.20" width="0.88" height="26.90" fill="#c8c0b4" stroke="none" stroke-width="1"/>
<rect x="495.53" y="245.20" width="1.07" height="26.90" fill="#b9cdcb" stroke="none" stroke-width="1"/>
<rect x="497.69" y="245.20" width="0.81" height="26.90" fill="#c4c0c4" stroke="none" stroke-width="1"/>
<rect x="500.07" y="245.20" width="1.28" height="26.90" fill="#c9b8bb" stroke="none" stroke-width="1"/>
<rect x="503.06" y="245.20" width="0.70" height="26.90" fill="#b8d0cf" stroke="none" stroke-width="1"/>
<rect x="504.84" y="245.20" width="0.91" height="26.90" fill="#bfc5c9" stroke="none" stroke-width="1"/>
<rect x="506.41" y="245.20" width="0.50" height="26.90" fill="#b8d0cf" stroke="none" stroke-width="1"/>
<rect x="508.83" y="245.20" width="0.45" height="26.90" fill="#b9cdcb" stroke="none" stroke-width="1"/>
<rect x="511.21" y="245.20" width="0.81" height="26.90" fill="#b9cdcb" stroke="none" stroke-width="1"/>
<rect x="515.20" y="245.20" width="1.28" height="26.90" fill="#b9cdcb" stroke="none" stroke-width="1"/>
<rect x="456.20" y="218.40" width="0.70" height="26.80" fill="#c8b4b8" stroke="none" stroke-width="1"/>
<rect x="464.30" y="218.40" width="0.50" height="26.80" fill="#808080" stroke="none" stroke-width="1"/>
<rect x="471.80" y="218.40" width="0.80" height="26.80" fill="#a8d8d0" stroke="none" stroke-width="1"/>
<rect x="477.80" y="218.40" width="0.80" height="26.80" fill="#b8dcdc" stroke="none" stroke-width="1"/>
<rect x="484.80" y="218.40" width="0.70" height="26.80" fill="#d0b8c0" stroke="none" stroke-width="1"/>
<rect x="489.80" y="218.40" width="0.60" height="26.80" fill="#b8c090" stroke="none" stroke-width="1"/>
<rect x="494.50" y="218.40" width="1.00" height="26.80" fill="#d0d0d0" stroke="none" stroke-width="1"/>
<rect x="499.70" y="218.40" width="0.80" height="26.80" fill="#d0b0c0" stroke="none" stroke-width="1"/>
<rect x="505.00" y="218.40" width="2.00" height="26.80" fill="#b0d0d0" stroke="none" stroke-width="1"/>
<rect x="508.00" y="218.40" width="2.00" height="26.80" fill="#a8c8d0" stroke="none" stroke-width="1"/>
<rect x="512.00" y="218.40" width="1.00" height="26.80" fill="#c8c0c8" stroke="none" stroke-width="1"/>
<rect x="514.50" y="218.40" width="1.00" height="26.80" fill="#d0c8d0" stroke="none" stroke-width="1"/>
<rect x="516.80" y="218.40" width="0.60" height="26.80" fill="#803830" stroke="none" stroke-width="1"/>
<rect x="518.50" y="218.40" width="1.50" height="26.80" fill="#a898b8" stroke="none" stroke-width="1"/>
<rect x="520.00" y="218.40" width="1.80" height="26.80" fill="#b0a8b8" stroke="none" stroke-width="1"/>
<rect x="522.50" y="218.40" width="0.80" height="26.80" fill="#909090" stroke="none" stroke-width="1"/>
<rect x="524.00" y="218.40" width="3.00" height="26.80" fill="#e0d070" stroke="none" stroke-width="1"/>
<rect x="527.00" y="218.40" width="3.00" height="26.80" fill="#a8b8d8" stroke="none" stroke-width="1"/>
<rect x="531.00" y="218.40" width="2.00" height="26.80" fill="#e04a38" stroke="none" stroke-width="1"/>
<rect x="533.00" y="218.40" width="2.00" height="26.80" fill="#f07a68" stroke="none" stroke-width="1"/>
<rect x="535.00" y="218.40" width="3.00" height="26.80" fill="#e04030" stroke="none" stroke-width="1"/>
<rect x="538.50" y="218.40" width="0.80" height="26.80" fill="#503030" stroke="none" stroke-width="1"/>
<rect x="539.50" y="218.40" width="1.50" height="26.80" fill="#c8b0b0" stroke="none" stroke-width="1"/>
<rect x="541.00" y="218.40" width="3.00" height="26.80" fill="#f07060" stroke="none" stroke-width="1"/>
<rect x="544.50" y="218.40" width="0.80" height="26.80" fill="#404870" stroke="none" stroke-width="1"/>
<rect x="546.00" y="218.40" width="6.00" height="26.80" fill="#8040b0" stroke="none" stroke-width="1"/>
<rect x="552.50" y="218.40" width="1.00" height="26.80" fill="#c8a878" stroke="none" stroke-width="1"/>
<rect x="554.70" y="218.40" width="37.70" height="26.80" fill="#7fd8cf" stroke="none" stroke-width="1"/>
<rect x="592.40" y="218.40" width="1.20" height="26.80" fill="#707050" stroke="none" stroke-width="1"/>
<rect x="593.60" y="218.40" width="1.40" height="26.80" fill="#a89048" stroke="none" stroke-width="1"/>
<rect x="595.00" y="218.40" width="1.50" height="26.80" fill="#6a7a30" stroke="none" stroke-width="1"/>
<rect x="596.50" y="218.40" width="1.30" height="26.80" fill="#c8a878" stroke="none" stroke-width="1"/>
<rect x="597.80" y="218.40" width="10.40" height="26.80" fill="#ffb8c8" stroke="none" stroke-width="1"/>
<rect x="608.20" y="218.40" width="1.40" height="26.80" fill="#4a7a18" stroke="none" stroke-width="1"/>
<rect x="609.60" y="218.40" width="2.00" height="26.80" fill="#8ac828" stroke="none" stroke-width="1"/>
<rect x="611.60" y="218.40" width="8.10" height="26.80" fill="#e03a28" stroke="none" stroke-width="1"/>
<rect x="619.70" y="218.40" width="6.90" height="26.80" fill="#c8a882" stroke="none" stroke-width="1"/>
<rect x="626.60" y="218.40" width="0.60" height="26.80" fill="#908050" stroke="none" stroke-width="1"/>
<rect x="627.20" y="218.40" width="4.80" height="26.80" fill="#7e3fb8" stroke="none" stroke-width="1"/>
<rect x="632.00" y="218.40" width="4.00" height="26.80" fill="#a83a2c" stroke="none" stroke-width="1"/>
<rect x="636.00" y="218.40" width="4.00" height="26.80" fill="#f88070" stroke="none" stroke-width="1"/>
<rect x="640.00" y="218.40" width="5.00" height="26.80" fill="#a83a30" stroke="none" stroke-width="1"/>
<rect x="645.00" y="218.40" width="1.40" height="26.80" fill="#3050a0" stroke="none" stroke-width="1"/>
<rect x="646.40" y="218.40" width="2.60" height="26.80" fill="#8ac828" stroke="none" stroke-width="1"/>
<rect x="649.00" y="218.40" width="2.00" height="26.80" fill="#c0d848" stroke="none" stroke-width="1"/>
<rect x="651.00" y="218.40" width="1.00" height="26.80" fill="#4a7a18" stroke="none" stroke-width="1"/>
<rect x="652.00" y="218.40" width="4.00" height="26.80" fill="#e0ffff" stroke="none" stroke-width="1"/>
<rect x="656.00" y="218.40" width="2.00" height="26.80" fill="#b0d838" stroke="none" stroke-width="1"/>
<rect x="658.00" y="218.40" width="2.00" height="26.80" fill="#e0e040" stroke="none" stroke-width="1"/>
<rect x="660.00" y="218.40" width="2.00" height="26.80" fill="#80b828" stroke="none" stroke-width="1"/>
<rect x="662.00" y="218.40" width="2.00" height="26.80" fill="#d0d848" stroke="none" stroke-width="1"/>
<rect x="664.00" y="218.40" width="2.00" height="26.80" fill="#90b838" stroke="none" stroke-width="1"/>
<rect x="666.00" y="218.40" width="2.00" height="26.80" fill="#e0d850" stroke="none" stroke-width="1"/>
<rect x="668.00" y="218.40" width="5.00" height="26.80" fill="#7cc21a" stroke="none" stroke-width="1"/>
<rect x="673.00" y="218.40" width="5.00" height="26.80" fill="#f0e040" stroke="none" stroke-width="1"/>
<rect x="678.00" y="218.40" width="3.00" height="26.80" fill="#3858a8" stroke="none" stroke-width="1"/>
<rect x="681.00" y="218.40" width="1.50" height="26.80" fill="#708850" stroke="none" stroke-width="1"/>
<rect x="682.50" y="218.40" width="5.50" height="26.80" fill="#c8d840" stroke="none" stroke-width="1"/>
<rect x="688.00" y="218.40" width="2.00" height="26.80" fill="#303880" stroke="none" stroke-width="1"/>
<rect x="690.00" y="218.40" width="4.00" height="26.80" fill="#3050a0" stroke="none" stroke-width="1"/>
<rect x="694.00" y="218.40" width="3.00" height="26.80" fill="#283878" stroke="none" stroke-width="1"/>
<rect x="697.00" y="218.40" width="2.00" height="26.80" fill="#80c8e8" stroke="none" stroke-width="1"/>
<rect x="699.00" y="218.40" width="4.00" height="26.80" fill="#3858a8" stroke="none" stroke-width="1"/>
<rect x="703.00" y="218.40" width="2.00" height="26.80" fill="#203070" stroke="none" stroke-width="1"/>
<rect x="705.00" y="218.40" width="5.00" height="26.80" fill="#3858a8" stroke="none" stroke-width="1"/>
<rect x="710.00" y="218.40" width="4.80" height="26.80" fill="#000000" stroke="none" stroke-width="1"/>
<rect x="714.80" y="218.40" width="7.20" height="26.80" fill="#b050c0" stroke="none" stroke-width="1"/>
<rect x="456.20" y="245.20" width="0.70" height="26.90" fill="#c8b4b8" stroke="none" stroke-width="1"/>
<rect x="464.30" y="245.20" width="0.50" height="26.90" fill="#808080" stroke="none" stroke-width="1"/>
<rect x="471.80" y="245.20" width="0.80" height="26.90" fill="#a8d8d0" stroke="none" stroke-width="1"/>
<rect x="477.80" y="245.20" width="0.80" height="26.90" fill="#b8dcdc" stroke="none" stroke-width="1"/>
<rect x="484.00" y="245.20" width="6.00" height="26.90" fill="#b0b0a0" stroke="none" stroke-width="1"/>
<rect x="489.80" y="245.20" width="0.60" height="26.90" fill="#98a070" stroke="none" stroke-width="1"/>
<rect x="496.00" y="245.20" width="4.00" height="26.90" fill="#d8ecec" stroke="none" stroke-width="1"/>
<rect x="502.00" y="245.20" width="2.00" height="26.90" fill="#b8a8c8" stroke="none" stroke-width="1"/>
<rect x="505.00" y="245.20" width="2.00" height="26.90" fill="#c0b0d0" stroke="none" stroke-width="1"/>
<rect x="508.00" y="245.20" width="2.00" height="26.90" fill="#a898c0" stroke="none" stroke-width="1"/>
<rect x="512.00" y="245.20" width="2.00" height="26.90" fill="#b0a0c8" stroke="none" stroke-width="1"/>
<rect x="515.00" y="245.20" width="1.00" height="26.90" fill="#9888b8" stroke="none" stroke-width="1"/>
<rect x="516.80" y="245.20" width="0.80" height="26.90" fill="#6040a0" stroke="none" stroke-width="1"/>
<rect x="519.80" y="245.20" width="1.00" height="26.90" fill="#101010" stroke="none" stroke-width="1"/>
<rect x="522.00" y="245.20" width="4.00" height="26.90" fill="#a8b870" stroke="none" stroke-width="1"/>
<rect x="526.50" y="245.20" width="1.00" height="26.90" fill="#808080" stroke="none" stroke-width="1"/>
<rect x="528.00" y="245.20" width="7.00" height="26.90" fill="#8a50c0" stroke="none" stroke-width="1"/>
<rect x="535.50" y="245.20" width="1.00" height="26.90" fill="#303030" stroke="none" stroke-width="1"/>
<rect x="537.50" y="245.20" width="3.50" height="26.90" fill="#9058c0" stroke="none" stroke-width="1"/>
<rect x="541.00" y="245.20" width="2.00" height="26.90" fill="#b098d0" stroke="none" stroke-width="1"/>
<rect x="543.00" y="245.20" width="3.00" height="26.90" fill="#a080c8" stroke="none" stroke-width="1"/>
<rect x="546.00" y="245.20" width="1.00" height="26.90" fill="#202020" stroke="none" stroke-width="1"/>
<rect x="547.00" y="245.20" width="4.00" height="26.90" fill="#8040b0" stroke="none" stroke-width="1"/>
<rect x="551.50" y="245.20" width="1.30" height="26.90" fill="#101010" stroke="none" stroke-width="1"/>
<rect x="552.80" y="245.20" width="1.90" height="26.90" fill="#606030" stroke="none" stroke-width="1"/>
<rect x="554.70" y="245.20" width="37.70" height="26.90" fill="#7fd8cf" stroke="none" stroke-width="1"/>
<rect x="592.40" y="245.20" width="1.10" height="26.90" fill="#303820" stroke="none" stroke-width="1"/>
<rect x="593.50" y="245.20" width="3.00" height="26.90" fill="#6a7a30" stroke="none" stroke-width="1"/>
<rect x="596.50" y="245.20" width="1.30" height="26.90" fill="#303020" stroke="none" stroke-width="1"/>
<rect x="597.80" y="245.20" width="10.40" height="26.90" fill="#e0fbfb" stroke="none" stroke-width="1"/>
<rect x="608.20" y="245.20" width="1.20" height="26.90" fill="#102010" stroke="none" stroke-width="1"/>
<rect x="609.40" y="245.20" width="1.60" height="26.90" fill="#7cc21a" stroke="none" stroke-width="1"/>
<rect x="611.00" y="245.20" width="0.60" height="26.90" fill="#102010" stroke="none" stroke-width="1"/>
<rect x="611.60" y="245.20" width="8.10" height="26.90" fill="#7e3fb8" stroke="none" stroke-width="1"/>
<rect x="619.70" y="245.20" width="6.90" height="26.90" fill="#c8a882" stroke="none" stroke-width="1"/>
<rect x="626.60" y="245.20" width="0.60" height="26.90" fill="#606030" stroke="none" stroke-width="1"/>
<rect x="627.20" y="245.20" width="17.80" height="26.90" fill="#7e3fb8" stroke="none" stroke-width="1"/>
<rect x="645.00" y="245.20" width="1.40" height="26.90" fill="#0a0a0a" stroke="none" stroke-width="1"/>
<rect x="646.40" y="245.20" width="4.60" height="26.90" fill="#5a8a20" stroke="none" stroke-width="1"/>
<rect x="651.00" y="245.20" width="1.00" height="26.90" fill="#0a0a0a" stroke="none" stroke-width="1"/>
<rect x="652.00" y="245.20" width="4.00" height="26.90" fill="#e0ffff" stroke="none" stroke-width="1"/>
<rect x="656.00" y="245.20" width="8.00" height="26.90" fill="#7cc21a" stroke="none" stroke-width="1"/>
<rect x="664.00" y="245.20" width="1.00" height="26.90" fill="#4a6a18" stroke="none" stroke-width="1"/>
<rect x="665.00" y="245.20" width="13.00" height="26.90" fill="#7cc21a" stroke="none" stroke-width="1"/>
<rect x="678.00" y="245.20" width="44.00" height="26.90" fill="#050505" stroke="none" stroke-width="1"/>
<line x1="424.10" y1="218.50" x2="731.60" y2="218.50" stroke="#333" stroke-width="1.0"/>
<line x1="424.10" y1="245.50" x2="731.60" y2="245.50" stroke="#333" stroke-width="1.0"/>
<line x1="424.10" y1="272.50" x2="731.60" y2="272.50" stroke="#333" stroke-width="1.0"/>
<text x="420.00" y="233.57" font-size="9.4" text-anchor="end" font-weight="normal" fill="#000" stroke="#000" stroke-width="0.18">Dynamic Tree Cut</text>
<text x="420.00" y="260.70" font-size="9.5" text-anchor="end" font-weight="normal" fill="#000" stroke="#000" stroke-width="0.18">Merged dynamic</text>
<rect x="55.80" y="312.80" width="11.20" height="26.90" fill="#c9a987" stroke="none" stroke-width="1"/>
<rect x="68.50" y="312.80" width="291.90" height="26.90" fill="#fde7e7" stroke="none" stroke-width="1"/>
<text x="52.70" y="329.48" font-size="9.45" text-anchor="end" font-weight="normal" fill="#000" stroke="#000" stroke-width="0.18">MEtan</text>
<text x="217.00" y="324.26" font-size="8.0" text-anchor="middle" font-weight="normal" fill="#000" stroke="#000" stroke-width="0.1">0.1</text>
<text x="217.00" y="333.66" font-size="8.0" text-anchor="middle" font-weight="normal" fill="#000" stroke="#000" stroke-width="0.1">(0.3)</text>
<rect x="55.80" y="339.40" width="11.20" height="26.90" fill="#000000" stroke="none" stroke-width="1"/>
<rect x="68.50" y="339.40" width="291.90" height="26.90" fill="#fa8b8e" stroke="none" stroke-width="1"/>
<text x="52.70" y="356.08" font-size="9.45" text-anchor="end" font-weight="normal" fill="#000" stroke="#000" stroke-width="0.18">MEblack</text>
<text x="217.00" y="350.86" font-size="8.0" text-anchor="middle" font-weight="normal" fill="#000" stroke="#000" stroke-width="0.1">0.48</text>
<text x="217.00" y="360.26" font-size="8.0" text-anchor="middle" font-weight="normal" fill="#000" stroke="#000" stroke-width="0.1">(3e−08)</text>
<rect x="55.80" y="366.00" width="11.20" height="26.90" fill="#7d3fb6" stroke="none" stroke-width="1"/>
<rect x="68.50" y="366.00" width="291.90" height="26.90" fill="#f05a5d" stroke="none" stroke-width="1"/>
<text x="52.70" y="382.68" font-size="9.45" text-anchor="end" font-weight="normal" fill="#000" stroke="#000" stroke-width="0.18">MEpurple</text>
<text x="217.00" y="377.46" font-size="8.0" text-anchor="middle" font-weight="normal" fill="#000" stroke="#000" stroke-width="0.1">0.67</text>
<text x="217.00" y="386.86" font-size="8.0" text-anchor="middle" font-weight="normal" fill="#000" stroke="#000" stroke-width="0.1">(1e−16)</text>
<rect x="55.80" y="392.60" width="11.20" height="26.90" fill="#7fd8d0" stroke="none" stroke-width="1"/>
<rect x="68.50" y="392.60" width="291.90" height="26.90" fill="#86c92f" stroke="none" stroke-width="1"/>
<text x="52.70" y="409.28" font-size="9.45" text-anchor="end" font-weight="normal" fill="#000" stroke="#000" stroke-width="0.18">MEturquoise</text>
<text x="217.00" y="404.06" font-size="8.0" text-anchor="middle" font-weight="normal" fill="#000" stroke="#000" stroke-width="0.1">−0.74</text>
<text x="217.00" y="413.46" font-size="8.0" text-anchor="middle" font-weight="normal" fill="#000" stroke="#000" stroke-width="0.1">(9e−22)</text>
<rect x="55.80" y="419.20" width="11.20" height="26.90" fill="#7cc21a" stroke="none" stroke-width="1"/>
<rect x="68.50" y="419.20" width="291.90" height="26.90" fill="#8bcc37" stroke="none" stroke-width="1"/>
<text x="52.70" y="435.88" font-size="9.45" text-anchor="end" font-weight="normal" fill="#000" stroke="#000" stroke-width="0.18">MEgreen</text>
<text x="217.00" y="430.66" font-size="8.0" text-anchor="middle" font-weight="normal" fill="#000" stroke="#000" stroke-width="0.1">−0.7</text>
<text x="217.00" y="440.06" font-size="8.0" text-anchor="middle" font-weight="normal" fill="#000" stroke="#000" stroke-width="0.1">(1e−18)</text>
<rect x="55.80" y="445.80" width="11.20" height="26.90" fill="#e3fbfb" stroke="none" stroke-width="1"/>
<rect x="68.50" y="445.80" width="291.90" height="26.90" fill="#d9f3c9" stroke="none" stroke-width="1"/>
<text x="52.70" y="462.48" font-size="9.45" text-anchor="end" font-weight="normal" fill="#000" stroke="#000" stroke-width="0.18">MElightcyan</text>
<text x="217.00" y="457.26" font-size="8.0" text-anchor="middle" font-weight="normal" fill="#000" stroke="#000" stroke-width="0.1">−0.23</text>
<text x="217.00" y="466.66" font-size="8.0" text-anchor="middle" font-weight="normal" fill="#000" stroke="#000" stroke-width="0.1">(0.01)</text>
<rect x="55.80" y="472.40" width="11.20" height="26.90" fill="#bebebe" stroke="none" stroke-width="1"/>
<rect x="68.50" y="472.40" width="291.90" height="26.90" fill="#fefefe" stroke="none" stroke-width="1"/>
<text x="52.70" y="489.08" font-size="9.45" text-anchor="end" font-weight="normal" fill="#000" stroke="#000" stroke-width="0.18">MEgrey</text>
<text x="217.00" y="483.86" font-size="8.0" text-anchor="middle" font-weight="normal" fill="#000" stroke="#000" stroke-width="0.1">0.047</text>
<text x="217.00" y="493.26" font-size="8.0" text-anchor="middle" font-weight="normal" fill="#000" stroke="#000" stroke-width="0.1">(0.6)</text>
<rect x="68.50" y="312.50" width="292.00" height="187.00" fill="none" stroke="#777" stroke-width="0.9"/>
<defs><linearGradient id="gwr" x1="0" y1="0" x2="0" y2="1"><stop offset="0" stop-color="#e0301e"/><stop offset="0.25" stop-color="#f6a3a9"/><stop offset="0.5" stop-color="#ffffff"/><stop offset="0.75" stop-color="#c5e9ad"/><stop offset="1" stop-color="#76c118"/></linearGradient></defs>
<rect x="363.50" y="324.50" width="8.00" height="163.00" fill="url(#gwr)" stroke="#888" stroke-width="0.7"/>
<line x1="371.50" y1="324.50" x2="374.00" y2="324.50" stroke="#555" stroke-width="0.7"/>
<text x="373.80" y="327.14" font-size="8.2" text-anchor="start" font-weight="normal" fill="#000" stroke="#000" stroke-width="0.1">1</text>
<line x1="371.50" y1="364.50" x2="374.00" y2="364.50" stroke="#555" stroke-width="0.7"/>
<text x="373.80" y="367.89" font-size="8.2" text-anchor="start" font-weight="normal" fill="#000" stroke="#000" stroke-width="0.1">0.5</text>
<line x1="371.50" y1="405.50" x2="374.00" y2="405.50" stroke="#555" stroke-width="0.7"/>
<text x="373.80" y="408.64" font-size="8.2" text-anchor="start" font-weight="normal" fill="#000" stroke="#000" stroke-width="0.1">0</text>
<line x1="371.50" y1="446.50" x2="374.00" y2="446.50" stroke="#555" stroke-width="0.7"/>
<text x="373.80" y="449.39" font-size="8.2" text-anchor="start" font-weight="normal" fill="#000" stroke="#000" stroke-width="0.1">−0.5</text>
<line x1="371.50" y1="487.50" x2="374.00" y2="487.50" stroke="#555" stroke-width="0.7"/>
<text x="373.80" y="490.14" font-size="8.2" text-anchor="start" font-weight="normal" fill="#000" stroke="#000" stroke-width="0.1">−1</text>
<text x="211.40" y="512.37" font-size="9.4" text-anchor="middle" font-weight="normal" fill="#000" stroke="#000" stroke-width="0.18">datTraits</text>
<text x="221.20" y="304.20" font-size="11.06" text-anchor="middle" font-weight="bold" fill="#000" stroke="#000" stroke-width="0.18">Module−trait relationships</text>
<text x="18.30" y="296.00" font-size="15" text-anchor="middle" font-weight="normal" fill="#000" stroke="#000" stroke-width="0.35">c</text>
<rect x="425.50" y="299.50" width="136.00" height="187.00" fill="none" stroke="#666" stroke-width="0.8"/>
<line x1="457.50" y1="486.20" x2="457.50" y2="489.20" stroke="#666" stroke-width="0.7"/>
<text x="457.22" y="499.97" font-size="8.3" text-anchor="middle" font-weight="normal" fill="#000" stroke="#000" stroke-width="0.1">5</text>
<line x1="490.50" y1="486.20" x2="490.50" y2="489.20" stroke="#666" stroke-width="0.7"/>
<text x="490.37" y="499.97" font-size="8.3" text-anchor="middle" font-weight="normal" fill="#000" stroke="#000" stroke-width="0.1">10</text>
<line x1="523.50" y1="486.20" x2="523.50" y2="489.20" stroke="#666" stroke-width="0.7"/>
<text x="523.52" y="499.97" font-size="8.3" text-anchor="middle" font-weight="normal" fill="#000" stroke="#000" stroke-width="0.1">15</text>
<line x1="556.50" y1="486.20" x2="556.50" y2="489.20" stroke="#666" stroke-width="0.7"/>
<text x="556.67" y="499.97" font-size="8.3" text-anchor="middle" font-weight="normal" fill="#000" stroke="#000" stroke-width="0.1">20</text>
<line x1="422.90" y1="461.50" x2="425.90" y2="461.50" stroke="#666" stroke-width="0.7"/>
<text x="417.37" y="460.00" font-size="8.3" text-anchor="middle" font-weight="normal" fill="#000" transform="rotate(-90 417.37 460.00)" stroke="#000" stroke-width="0.1">−0.5</text>
<line x1="422.90" y1="406.50" x2="425.90" y2="406.50" stroke="#666" stroke-width="0.7"/>
<text x="417.37" y="405.40" font-size="8.3" text-anchor="middle" font-weight="normal" fill="#000" transform="rotate(-90 417.37 405.40)" stroke="#000" stroke-width="0.1">0.0</text>
<line x1="422.90" y1="352.50" x2="425.90" y2="352.50" stroke="#666" stroke-width="0.7"/>
<text x="417.37" y="350.80" font-size="8.3" text-anchor="middle" font-weight="normal" fill="#000" transform="rotate(-90 417.37 350.80)" stroke="#000" stroke-width="0.1">0.5</text>
<line x1="425.90" y1="308.50" x2="561.60" y2="308.50" stroke="#e84a3c" stroke-width="0.7"/>
<text x="430.30" y="481.25" font-size="6.0" text-anchor="middle" font-weight="normal" fill="#e8201c" stroke="#e8201c" stroke-width="0.1">1</text>
<text x="437.40" y="409.85" font-size="6.0" text-anchor="middle" font-weight="normal" fill="#e8201c" stroke="#e8201c" stroke-width="0.1">2</text>
<text x="443.80" y="350.55" font-size="6.0" text-anchor="middle" font-weight="normal" fill="#e8201c" stroke="#e8201c" stroke-width="0.1">3</text>
<text x="450.20" y="328.05" font-size="6.0" text-anchor="middle" font-weight="normal" fill="#e8201c" stroke="#e8201c" stroke-width="0.1">4</text>
<text x="456.80" y="325.55" font-size="6.0" text-anchor="middle" font-weight="normal" fill="#e8201c" stroke="#e8201c" stroke-width="0.1">5</text>
<text x="463.30" y="327.05" font-size="6.0" text-anchor="middle" font-weight="normal" fill="#e8201c" stroke="#e8201c" stroke-width="0.1">6</text>
<text x="470.10" y="328.05" font-size="6.0" text-anchor="middle" font-weight="normal" fill="#e8201c" stroke="#e8201c" stroke-width="0.1">7</text>
<text x="476.90" y="328.05" font-size="6.0" text-anchor="middle" font-weight="normal" fill="#e8201c" stroke="#e8201c" stroke-width="0.1">8</text>
<text x="483.30" y="325.55" font-size="6.0" text-anchor="middle" font-weight="normal" fill="#e8201c" stroke="#e8201c" stroke-width="0.1">9</text>
<text x="490.30" y="325.55" font-size="6.0" text-anchor="middle" font-weight="normal" fill="#e8201c" stroke="#e8201c" stroke-width="0.1">10</text>
<text x="503.70" y="328.05" font-size="6.0" text-anchor="middle" font-weight="normal" fill="#e8201c" stroke="#e8201c" stroke-width="0.1">12</text>
<text x="517.00" y="324.15" font-size="6.0" text-anchor="middle" font-weight="normal" fill="#e8201c" stroke="#e8201c" stroke-width="0.1">14</text>
<text x="530.30" y="309.75" font-size="6.0" text-anchor="middle" font-weight="normal" fill="#e8201c" stroke="#e8201c" stroke-width="0.1">16</text>
<text x="543.50" y="309.75" font-size="6.0" text-anchor="middle" font-weight="normal" fill="#e8201c" stroke="#e8201c" stroke-width="0.1">18</text>
<text x="557.00" y="308.45" font-size="6.0" text-anchor="middle" font-weight="normal" fill="#e8201c" stroke="#e8201c" stroke-width="0.1">20</text>
<text x="505.30" y="295.30" font-size="9.46" text-anchor="middle" font-weight="bold" fill="#000" stroke="#000" stroke-width="0.18">Scale independence</text>
<text x="497.10" y="516.88" font-size="9.45" text-anchor="middle" font-weight="normal" fill="#000" stroke="#000" stroke-width="0.18">Soft Threshold (power)</text>
<text x="402.48" y="391.50" font-size="9.45" text-anchor="middle" font-weight="normal" fill="#000" transform="rotate(-90 402.48 391.50)" stroke="#000" stroke-width="0.18">Scale Free Topology Model Fit,signed R^2</text>
<text x="400.00" y="295.30" font-size="14.5" text-anchor="middle" font-weight="normal" fill="#000" stroke="#000" stroke-width="0.18">d</text>
<rect x="606.50" y="299.50" width="136.00" height="187.00" fill="none" stroke="#666" stroke-width="0.8"/>
<line x1="637.50" y1="486.40" x2="637.50" y2="489.40" stroke="#666" stroke-width="0.7"/>
<text x="637.70" y="499.27" font-size="8.3" text-anchor="middle" font-weight="normal" fill="#000" stroke="#000" stroke-width="0.1">5</text>
<line x1="670.50" y1="486.40" x2="670.50" y2="489.40" stroke="#666" stroke-width="0.7"/>
<text x="670.95" y="499.27" font-size="8.3" text-anchor="middle" font-weight="normal" fill="#000" stroke="#000" stroke-width="0.1">10</text>
<line x1="704.50" y1="486.40" x2="704.50" y2="489.40" stroke="#666" stroke-width="0.7"/>
<text x="704.20" y="499.27" font-size="8.3" text-anchor="middle" font-weight="normal" fill="#000" stroke="#000" stroke-width="0.1">15</text>
<line x1="737.50" y1="486.40" x2="737.50" y2="489.40" stroke="#666" stroke-width="0.7"/>
<text x="737.45" y="499.27" font-size="8.3" text-anchor="middle" font-weight="normal" fill="#000" stroke="#000" stroke-width="0.1">20</text>
<line x1="602.90" y1="479.50" x2="606.40" y2="479.50" stroke="#666" stroke-width="0.7"/>
<text x="598.27" y="478.40" font-size="8.3" text-anchor="middle" font-weight="normal" fill="#000" transform="rotate(-90 598.27 478.40)" stroke="#000" stroke-width="0.1">0</text>
<line x1="602.90" y1="451.50" x2="606.40" y2="451.50" stroke="#666" stroke-width="0.7"/>
<text x="598.27" y="450.90" font-size="8.3" text-anchor="middle" font-weight="normal" fill="#000" transform="rotate(-90 598.27 450.90)" stroke="#000" stroke-width="0.1">200</text>
<line x1="602.90" y1="424.50" x2="606.40" y2="424.50" stroke="#666" stroke-width="0.7"/>
<text x="598.27" y="423.40" font-size="8.3" text-anchor="middle" font-weight="normal" fill="#000" transform="rotate(-90 598.27 423.40)" stroke="#000" stroke-width="0.1">400</text>
<line x1="602.90" y1="396.50" x2="606.40" y2="396.50" stroke="#666" stroke-width="0.7"/>
<text x="598.27" y="395.90" font-size="8.3" text-anchor="middle" font-weight="normal" fill="#000" transform="rotate(-90 598.27 395.90)" stroke="#000" stroke-width="0.1">600</text>
<line x1="602.90" y1="369.50" x2="606.40" y2="369.50" stroke="#666" stroke-width="0.7"/>
<text x="598.27" y="368.40" font-size="8.3" text-anchor="middle" font-weight="normal" fill="#000" transform="rotate(-90 598.27 368.40)" stroke="#000" stroke-width="0.1">800</text>
<line x1="602.90" y1="341.50" x2="606.40" y2="341.50" stroke="#666" stroke-width="0.7"/>
<text x="598.27" y="340.90" font-size="8.3" text-anchor="middle" font-weight="normal" fill="#000" transform="rotate(-90 598.27 340.90)" stroke="#000" stroke-width="0.1">1000</text>
<line x1="602.90" y1="314.50" x2="606.40" y2="314.50" stroke="#666" stroke-width="0.7"/>
<text x="598.27" y="313.40" font-size="8.3" text-anchor="middle" font-weight="normal" fill="#000" transform="rotate(-90 598.27 313.40)" stroke="#000" stroke-width="0.1">1200</text>
<text x="611.10" y="308.65" font-size="6.0" text-anchor="middle" font-weight="normal" fill="#e8201c" stroke="#e8201c" stroke-width="0.1">1</text>
<text x="617.70" y="404.75" font-size="6.0" text-anchor="middle" font-weight="normal" fill="#e8201c" stroke="#e8201c" stroke-width="0.1">2</text>
<text x="624.50" y="440.45" font-size="6.0" text-anchor="middle" font-weight="normal" fill="#e8201c" stroke="#e8201c" stroke-width="0.1">3</text>
<text x="631.00" y="457.45" font-size="6.0" text-anchor="middle" font-weight="normal" fill="#e8201c" stroke="#e8201c" stroke-width="0.1">4</text>
<text x="637.50" y="466.55" font-size="6.0" text-anchor="middle" font-weight="normal" fill="#e8201c" stroke="#e8201c" stroke-width="0.1">5</text>
<text x="644.50" y="471.15" font-size="6.0" text-anchor="middle" font-weight="normal" fill="#e8201c" stroke="#e8201c" stroke-width="0.1">6</text>
<text x="651.00" y="474.15" font-size="6.0" text-anchor="middle" font-weight="normal" fill="#e8201c" stroke="#e8201c" stroke-width="0.1">7</text>
<text x="657.70" y="476.15" font-size="6.0" text-anchor="middle" font-weight="normal" fill="#e8201c" stroke="#e8201c" stroke-width="0.1">8</text>
<text x="664.20" y="477.45" font-size="6.0" text-anchor="middle" font-weight="normal" fill="#e8201c" stroke="#e8201c" stroke-width="0.1">9</text>
<text x="671.00" y="478.65" font-size="6.0" text-anchor="middle" font-weight="normal" fill="#e8201c" stroke="#e8201c" stroke-width="0.1">10</text>
<text x="684.30" y="480.15" font-size="6.0" text-anchor="middle" font-weight="normal" fill="#e8201c" stroke="#e8201c" stroke-width="0.1">12</text>
<text x="697.60" y="480.65" font-size="6.0" text-anchor="middle" font-weight="normal" fill="#e8201c" stroke="#e8201c" stroke-width="0.1">14</text>
<text x="711.00" y="481.15" font-size="6.0" text-anchor="middle" font-weight="normal" fill="#e8201c" stroke="#e8201c" stroke-width="0.1">16</text>
<text x="724.00" y="481.15" font-size="6.0" text-anchor="middle" font-weight="normal" fill="#e8201c" stroke="#e8201c" stroke-width="0.1">18</text>
<text x="737.00" y="481.15" font-size="6.0" text-anchor="middle" font-weight="normal" fill="#e8201c" stroke="#e8201c" stroke-width="0.1">20</text>
<text x="674.50" y="295.30" font-size="9.46" text-anchor="middle" font-weight="bold" fill="#000" stroke="#000" stroke-width="0.18">Mean connectivity</text>
<text x="674.00" y="517.98" font-size="9.45" text-anchor="middle" font-weight="normal" fill="#000" stroke="#000" stroke-width="0.18">Soft Threshold (power)</text>
<text x="584.88" y="387.30" font-size="9.45" text-anchor="middle" font-weight="normal" fill="#000" transform="rotate(-90 584.88 387.30)" stroke="#000" stroke-width="0.18">Mean Connectivity</text>
<line x1="67.50" y1="730.70" x2="67.50" y2="588.20" stroke="#333" stroke-width="0.8"/>
<line x1="62.30" y1="730.50" x2="67.10" y2="730.50" stroke="#333" stroke-width="0.8"/>
<text x="55.22" y="730.70" font-size="9.0" text-anchor="middle" font-weight="normal" fill="#000" transform="rotate(-90 55.22 730.70)" stroke="#000" stroke-width="0.18">0</text>
<line x1="62.30" y1="702.50" x2="67.10" y2="702.50" stroke="#333" stroke-width="0.8"/>
<text x="55.22" y="702.20" font-size="9.0" text-anchor="middle" font-weight="normal" fill="#000" transform="rotate(-90 55.22 702.20)" stroke="#000" stroke-width="0.18">500</text>
<line x1="62.30" y1="673.50" x2="67.10" y2="673.50" stroke="#333" stroke-width="0.8"/>
<text x="55.22" y="673.70" font-size="9.0" text-anchor="middle" font-weight="normal" fill="#000" transform="rotate(-90 55.22 673.70)" stroke="#000" stroke-width="0.18">1000</text>
<line x1="62.30" y1="645.50" x2="67.10" y2="645.50" stroke="#333" stroke-width="0.8"/>
<text x="55.22" y="645.20" font-size="9.0" text-anchor="middle" font-weight="normal" fill="#000" transform="rotate(-90 55.22 645.20)" stroke="#000" stroke-width="0.18">1500</text>
<line x1="62.30" y1="616.50" x2="67.10" y2="616.50" stroke="#333" stroke-width="0.8"/>
<text x="55.22" y="616.70" font-size="9.0" text-anchor="middle" font-weight="normal" fill="#000" transform="rotate(-90 55.22 616.70)" stroke="#000" stroke-width="0.18">2000</text>
<line x1="62.30" y1="588.50" x2="67.10" y2="588.50" stroke="#333" stroke-width="0.8"/>
<text x="55.22" y="588.20" font-size="9.0" text-anchor="middle" font-weight="normal" fill="#000" transform="rotate(-90 55.22 588.20)" stroke="#000" stroke-width="0.18">2500</text>
<line x1="72.20" y1="737.50" x2="187.10" y2="737.50" stroke="#333" stroke-width="0.8"/>
<line x1="72.50" y1="737.20" x2="72.50" y2="742.00" stroke="#333" stroke-width="0.8"/>
<text x="72.20" y="756.52" font-size="9.0" text-anchor="middle" font-weight="normal" fill="#000" stroke="#000" stroke-width="0.18">0</text>
<line x1="91.50" y1="737.20" x2="91.50" y2="742.00" stroke="#333" stroke-width="0.8"/>
<text x="91.35" y="756.52" font-size="9.0" text-anchor="middle" font-weight="normal" fill="#000" stroke="#000" stroke-width="0.18">10</text>
<line x1="110.50" y1="737.20" x2="110.50" y2="742.00" stroke="#333" stroke-width="0.8"/>
<text x="110.50" y="756.52" font-size="9.0" text-anchor="middle" font-weight="normal" fill="#000" stroke="#000" stroke-width="0.18">20</text>
<line x1="129.50" y1="737.20" x2="129.50" y2="742.00" stroke="#333" stroke-width="0.8"/>
<text x="129.65" y="756.52" font-size="9.0" text-anchor="middle" font-weight="normal" fill="#000" stroke="#000" stroke-width="0.18">30</text>
<line x1="148.50" y1="737.20" x2="148.50" y2="742.00" stroke="#333" stroke-width="0.8"/>
<text x="148.80" y="756.52" font-size="9.0" text-anchor="middle" font-weight="normal" fill="#000" stroke="#000" stroke-width="0.18">40</text>
<line x1="167.50" y1="737.20" x2="167.50" y2="742.00" stroke="#333" stroke-width="0.8"/>
<text x="167.95" y="756.52" font-size="9.0" text-anchor="middle" font-weight="normal" fill="#000" stroke="#000" stroke-width="0.18">50</text>
<line x1="187.50" y1="737.20" x2="187.50" y2="742.00" stroke="#333" stroke-width="0.8"/>
<text x="187.10" y="756.52" font-size="9.0" text-anchor="middle" font-weight="normal" fill="#000" stroke="#000" stroke-width="0.18">60</text>
<rect x="72.50" y="570.50" width="9.00" height="160.00" fill="#fff" stroke="#222" stroke-width="0.8"/>
<rect x="81.50" y="706.50" width="10.00" height="24.00" fill="#fff" stroke="#222" stroke-width="0.8"/>
<rect x="91.50" y="717.50" width="9.00" height="13.00" fill="#fff" stroke="#222" stroke-width="0.8"/>
<rect x="100.50" y="719.50" width="10.00" height="11.00" fill="#fff" stroke="#222" stroke-width="0.8"/>
<rect x="110.50" y="722.50" width="10.00" height="8.00" fill="#fff" stroke="#222" stroke-width="0.8"/>
<rect x="120.50" y="724.50" width="9.00" height="6.00" fill="#fff" stroke="#222" stroke-width="0.8"/>
<rect x="129.50" y="725.50" width="10.00" height="5.00" fill="#fff" stroke="#222" stroke-width="0.8"/>
<rect x="139.50" y="726.50" width="9.00" height="4.00" fill="#fff" stroke="#222" stroke-width="0.8"/>
<rect x="148.50" y="728.50" width="10.00" height="2.00" fill="#fff" stroke="#222" stroke-width="0.8"/>
<rect x="158.50" y="728.50" width="9.00" height="2.00" fill="#fff" stroke="#222" stroke-width="0.8"/>
<rect x="167.50" y="729.50" width="10.00" height="1.00" fill="#fff" stroke="#222" stroke-width="0.8"/>
<rect x="177.50" y="730.50" width="10.00" height="0.00" fill="#fff" stroke="#222" stroke-width="0.8"/>
<text x="125.70" y="546.00" font-size="9.45" text-anchor="middle" font-weight="bold" fill="#000" stroke="#000" stroke-width="0.18">Histogram of k</text>
<text x="128.90" y="778.78" font-size="9.45" text-anchor="middle" font-weight="normal" fill="#000" stroke="#000" stroke-width="0.18">k</text>
<text x="32.78" y="649.60" font-size="9.45" text-anchor="middle" font-weight="normal" fill="#000" transform="rotate(-90 32.78 649.60)" stroke="#000" stroke-width="0.18">Frequency</text>
<text x="18.80" y="536.60" font-size="15" text-anchor="middle" font-weight="normal" fill="#000" stroke="#000" stroke-width="0.2">e</text>
<rect x="259.50" y="564.50" width="123.00" height="172.00" fill="none" stroke="#333" stroke-width="0.8"/>
<line x1="281.50" y1="736.60" x2="281.50" y2="741.10" stroke="#333" stroke-width="0.8"/>
<text x="281.15" y="757.32" font-size="9.0" text-anchor="middle" font-weight="normal" fill="#000" stroke="#000" stroke-width="0.18">0.5</text>
<line x1="320.50" y1="736.60" x2="320.50" y2="741.10" stroke="#333" stroke-width="0.8"/>
<text x="320.50" y="757.32" font-size="9.0" text-anchor="middle" font-weight="normal" fill="#000" stroke="#000" stroke-width="0.18">1.0</text>
<line x1="359.50" y1="736.60" x2="359.50" y2="741.10" stroke="#333" stroke-width="0.8"/>
<text x="359.85" y="757.32" font-size="9.0" text-anchor="middle" font-weight="normal" fill="#000" stroke="#000" stroke-width="0.18">1.5</text>
<line x1="255.10" y1="594.50" x2="259.10" y2="594.50" stroke="#333" stroke-width="0.8"/>
<text x="246.22" y="594.60" font-size="9.0" text-anchor="middle" font-weight="normal" fill="#000" transform="rotate(-90 246.22 594.60)" stroke="#000" stroke-width="0.18">−0.5</text>
<line x1="255.10" y1="628.50" x2="259.10" y2="628.50" stroke="#333" stroke-width="0.8"/>
<text x="246.22" y="628.10" font-size="9.0" text-anchor="middle" font-weight="normal" fill="#000" transform="rotate(-90 246.22 628.10)" stroke="#000" stroke-width="0.18">−1.0</text>
<line x1="255.10" y1="661.50" x2="259.10" y2="661.50" stroke="#333" stroke-width="0.8"/>
<text x="246.22" y="661.60" font-size="9.0" text-anchor="middle" font-weight="normal" fill="#000" transform="rotate(-90 246.22 661.60)" stroke="#000" stroke-width="0.18">−1.5</text>
<line x1="255.10" y1="695.50" x2="259.10" y2="695.50" stroke="#333" stroke-width="0.8"/>
<text x="246.22" y="695.10" font-size="9.0" text-anchor="middle" font-weight="normal" fill="#000" transform="rotate(-90 246.22 695.10)" stroke="#000" stroke-width="0.18">−2.0</text>
<line x1="255.10" y1="728.50" x2="259.10" y2="728.50" stroke="#333" stroke-width="0.8"/>
<text x="246.22" y="728.60" font-size="9.0" text-anchor="middle" font-weight="normal" fill="#000" transform="rotate(-90 246.22 728.60)" stroke="#000" stroke-width="0.18">−2.5</text>
<line x1="264.40" y1="564.30" x2="377.20" y2="703.60" stroke="#222" stroke-width="0.8"/>
<circle cx="263.6" cy="570.2" r="2.5" fill="none" stroke="#222" stroke-width="0.8"/>
<circle cx="317.6" cy="630.6" r="2.5" fill="none" stroke="#222" stroke-width="0.8"/>
<circle cx="334.5" cy="644.8" r="2.5" fill="none" stroke="#222" stroke-width="0.8"/>
<circle cx="345.2" cy="652.6" r="2.5" fill="none" stroke="#222" stroke-width="0.8"/>
<circle cx="353.6" cy="662.8" r="2.5" fill="none" stroke="#222" stroke-width="0.8"/>
<circle cx="360.3" cy="670" r="2.5" fill="none" stroke="#222" stroke-width="0.8"/>
<circle cx="365.6" cy="683" r="2.5" fill="none" stroke="#222" stroke-width="0.8"/>
<circle cx="369.9" cy="691" r="2.5" fill="none" stroke="#222" stroke-width="0.8"/>
<circle cx="374.5" cy="701.7" r="2.5" fill="none" stroke="#222" stroke-width="0.8"/>
<circle cx="378" cy="730.5" r="2.5" fill="none" stroke="#222" stroke-width="0.8"/>
<text x="313.80" y="539.30" font-size="9.47" text-anchor="middle" font-weight="bold" fill="#000" stroke="#000" stroke-width="0.18">Check scale free topology</text>
<text x="315.20" y="551.70" font-size="9.5" text-anchor="middle" font-weight="bold" fill="#000" stroke="#000" stroke-width="0.18">scale R^2= 0.92 , slope= −1.45</text>
<text x="321.30" y="778.98" font-size="9.45" text-anchor="middle" font-weight="normal" fill="#000" stroke="#000" stroke-width="0.18">log10(k)</text>
<text x="224.38" y="649.00" font-size="9.45" text-anchor="middle" font-weight="normal" fill="#000" transform="rotate(-90 224.38 649.00)" stroke="#000" stroke-width="0.18">log10(p(k))</text>
<rect x="452.50" y="545.50" width="233.00" height="209.00" fill="none" stroke="#666" stroke-width="0.8"/>
<line x1="461.50" y1="754.50" x2="461.50" y2="757.80" stroke="#666" stroke-width="0.8"/>
<text x="461.50" y="769.77" font-size="8.3" text-anchor="middle" font-weight="normal" fill="#000" stroke="#000" stroke-width="0.1">0.0</text>
<line x1="461.50" y1="545.90" x2="461.50" y2="543.40" stroke="#666" stroke-width="0.8"/>
<text x="461.50" y="536.97" font-size="8.3" text-anchor="middle" font-weight="normal" fill="#000" stroke="#000" stroke-width="0.1">1</text>
<line x1="505.50" y1="754.50" x2="505.50" y2="757.80" stroke="#666" stroke-width="0.8"/>
<text x="505.50" y="769.77" font-size="8.3" text-anchor="middle" font-weight="normal" fill="#000" stroke="#000" stroke-width="0.1">0.2</text>
<line x1="505.50" y1="545.90" x2="505.50" y2="543.40" stroke="#666" stroke-width="0.8"/>
<text x="505.50" y="536.97" font-size="8.3" text-anchor="middle" font-weight="normal" fill="#000" stroke="#000" stroke-width="0.1">2</text>
<line x1="549.50" y1="754.50" x2="549.50" y2="757.80" stroke="#666" stroke-width="0.8"/>
<text x="549.20" y="769.77" font-size="8.3" text-anchor="middle" font-weight="normal" fill="#000" stroke="#000" stroke-width="0.1">0.4</text>
<line x1="549.50" y1="545.90" x2="549.50" y2="543.40" stroke="#666" stroke-width="0.8"/>
<text x="549.20" y="536.97" font-size="8.3" text-anchor="middle" font-weight="normal" fill="#000" stroke="#000" stroke-width="0.1">3</text>
<line x1="593.50" y1="754.50" x2="593.50" y2="757.80" stroke="#666" stroke-width="0.8"/>
<text x="593.10" y="769.77" font-size="8.3" text-anchor="middle" font-weight="normal" fill="#000" stroke="#000" stroke-width="0.1">0.6</text>
<line x1="593.50" y1="545.90" x2="593.50" y2="543.40" stroke="#666" stroke-width="0.8"/>
<text x="593.10" y="536.97" font-size="8.3" text-anchor="middle" font-weight="normal" fill="#000" stroke="#000" stroke-width="0.1">5</text>
<line x1="636.50" y1="754.50" x2="636.50" y2="757.80" stroke="#666" stroke-width="0.8"/>
<text x="636.90" y="769.77" font-size="8.3" text-anchor="middle" font-weight="normal" fill="#000" stroke="#000" stroke-width="0.1">0.8</text>
<line x1="636.50" y1="545.90" x2="636.50" y2="543.40" stroke="#666" stroke-width="0.8"/>
<text x="636.90" y="536.97" font-size="8.3" text-anchor="middle" font-weight="normal" fill="#000" stroke="#000" stroke-width="0.1">11</text>
<line x1="681.50" y1="754.50" x2="681.50" y2="757.80" stroke="#666" stroke-width="0.8"/>
<text x="681.00" y="769.77" font-size="8.3" text-anchor="middle" font-weight="normal" fill="#000" stroke="#000" stroke-width="0.1">1.0</text>
<line x1="681.50" y1="545.90" x2="681.50" y2="543.40" stroke="#666" stroke-width="0.8"/>
<text x="681.00" y="536.97" font-size="8.3" text-anchor="middle" font-weight="normal" fill="#000" stroke="#000" stroke-width="0.1">15</text>
<line x1="448.20" y1="741.50" x2="452.60" y2="741.50" stroke="#666" stroke-width="0.8"/>
<text x="444.07" y="741.95" font-size="8.3" text-anchor="middle" font-weight="normal" fill="#000" transform="rotate(-90 444.07 741.95)" stroke="#000" stroke-width="0.1">−2</text>
<line x1="448.20" y1="708.50" x2="452.60" y2="708.50" stroke="#666" stroke-width="0.8"/>
<text x="444.07" y="708.70" font-size="8.3" text-anchor="middle" font-weight="normal" fill="#000" transform="rotate(-90 444.07 708.70)" stroke="#000" stroke-width="0.1">−1</text>
<line x1="448.20" y1="675.50" x2="452.60" y2="675.50" stroke="#666" stroke-width="0.8"/>
<text x="444.07" y="675.45" font-size="8.3" text-anchor="middle" font-weight="normal" fill="#000" transform="rotate(-90 444.07 675.45)" stroke="#000" stroke-width="0.1">0</text>
<line x1="448.20" y1="642.50" x2="452.60" y2="642.50" stroke="#666" stroke-width="0.8"/>
<text x="444.07" y="642.20" font-size="8.3" text-anchor="middle" font-weight="normal" fill="#000" transform="rotate(-90 444.07 642.20)" stroke="#000" stroke-width="0.1">1</text>
<line x1="448.20" y1="608.50" x2="452.60" y2="608.50" stroke="#666" stroke-width="0.8"/>
<text x="444.07" y="608.95" font-size="8.3" text-anchor="middle" font-weight="normal" fill="#000" transform="rotate(-90 444.07 608.95)" stroke="#000" stroke-width="0.1">2</text>
<line x1="448.20" y1="575.50" x2="452.60" y2="575.50" stroke="#666" stroke-width="0.8"/>
<text x="444.07" y="575.70" font-size="8.3" text-anchor="middle" font-weight="normal" fill="#000" transform="rotate(-90 444.07 575.70)" stroke="#000" stroke-width="0.1">3</text>
<text x="427.64" y="642.90" font-size="9.6" text-anchor="middle" font-weight="normal" fill="#000" transform="rotate(-90 427.64 642.90)" stroke="#000" stroke-width="0.18">Coefficients</text>
<text x="587.00" y="785.88" font-size="9.43" text-anchor="middle" font-weight="normal" fill="#000" stroke="#000" stroke-width="0.18">Fraction Deviance Explained</text>
<text x="397.30" y="536.30" font-size="15" text-anchor="middle" font-weight="normal" fill="#000" stroke="#000" stroke-width="0.2">f</text>
<path d="M461.50,675.45 L462.92,675.55 L464.74,675.77 L466.97,675.99 L469.60,676.09 L472.61,675.95 L476.00,675.45 L479.76,674.58 L483.90,673.44 L488.42,672.06 L493.34,670.47 L498.66,668.71 L504.40,666.80 L510.92,664.62 L518.29,662.13 L526.06,659.47 L533.80,656.76 L541.06,654.16 L547.40,651.80 L552.74,649.69 L557.42,647.73 L561.62,645.87 L565.53,644.07 L569.33,642.29 L573.20,640.50 L577.08,638.72 L580.80,636.98 L584.42,635.26 L587.96,633.54 L591.48,631.80 L595.00,630.00 L598.50,628.10 L601.94,626.11 L605.35,624.09 L608.76,622.10 L612.20,620.22 L615.70,618.50 L619.38,616.90 L623.23,615.37 L627.11,613.94 L630.88,612.65 L634.39,611.52 L637.50,610.60 L640.17,609.93 L642.52,609.49 L644.61,609.22 L646.51,609.06 L648.28,608.94 L650.00,608.80 L651.62,608.71 L653.07,608.74 L654.41,608.82 L655.65,608.86 L656.83,608.78 L658.00,608.50 L659.10,608.09 L660.10,607.63 L661.04,607.04 L661.98,606.29 L662.95,605.29 L664.00,604.00 L665.16,602.34 L666.39,600.34 L667.65,598.11 L668.91,595.74 L670.14,593.33 L671.30,591.00 L672.44,588.54 L673.62,585.83 L674.76,583.09 L675.79,580.53 L676.66,578.36 L677.30,576.80" stroke="#6cc93c" stroke-width="0.9" fill="none" stroke-linejoin="round"/>
<path d="M461.50,675.45 L465.56,675.77 L471.06,676.19 L477.62,676.69 L484.89,677.26 L492.47,677.87 L500.00,678.50 L507.67,679.19 L515.81,679.97 L524.28,680.78 L532.91,681.59 L541.53,682.35 L550.00,683.00 L558.56,683.59 L567.41,684.17 L576.25,684.69 L584.81,685.11 L592.82,685.40 L600.00,685.50 L606.22,685.38 L611.67,685.06 L616.56,684.59 L621.11,684.06 L625.52,683.50 L630.00,683.00 L634.49,682.52 L638.80,682.00 L642.98,681.47 L647.05,680.94 L651.05,680.45 L655.00,680.00 L659.13,679.59 L663.46,679.19 L667.71,678.81 L671.62,678.48 L674.91,678.21 L677.30,678.00" stroke="#cc6ad0" stroke-width="0.9" fill="none" stroke-linejoin="round"/>
<path d="M461.50,675.45 L470.54,675.48 L483.46,675.53 L498.56,675.59 L514.15,675.62 L528.53,675.58 L540.00,675.45 L548.41,675.19 L555.07,674.81 L560.53,674.37 L565.31,673.92 L569.96,673.51 L575.00,673.20 L580.41,672.97 L585.74,672.79 L590.94,672.65 L595.93,672.55 L600.64,672.50 L605.00,672.50 L608.97,672.56 L612.59,672.67 L615.94,672.83 L619.07,673.03 L622.07,673.26 L625.00,673.50 L627.53,673.79 L629.54,674.15 L631.42,674.54 L633.53,674.91 L636.27,675.23 L640.00,675.45 L645.36,675.56 L652.16,675.59 L659.59,675.57 L666.80,675.52 L672.98,675.47 L677.30,675.45" stroke="#6cc93c" stroke-width="0.9" fill="none" stroke-linejoin="round"/>
<path d="M560.00,675.45 L569.20,675.45 L582.32,675.45 L597.67,675.45 L613.53,675.45 L628.21,675.45 L640.00,675.45 L649.12,675.45 L656.98,675.45 L663.65,675.45 L669.21,675.45 L673.74,675.45 L677.30,675.45" stroke="#1a1a1a" stroke-width="0.9" fill="none" stroke-linejoin="round"/>
<path d="M560.00,675.45 L564.47,675.93 L570.74,676.58 L578.12,677.35 L585.93,678.21 L593.45,679.11 L600.00,680.00 L605.67,680.95 L611.04,681.99 L616.12,683.07 L620.96,684.13 L625.58,685.13 L630.00,686.00 L634.27,686.79 L638.37,687.54 L642.25,688.22 L645.85,688.80 L649.12,689.23 L652.00,689.50 L654.38,689.63 L656.30,689.65 L657.88,689.53 L659.26,689.24 L660.59,688.74 L662.00,688.00 L663.46,686.98 L664.84,685.71 L666.17,684.23 L667.46,682.59 L668.73,680.83 L670.00,679.00 L671.34,676.89 L672.76,674.42 L674.15,671.84 L675.43,669.38 L676.51,667.28 L677.30,665.80" stroke="#e8453c" stroke-width="0.9" fill="none" stroke-linejoin="round"/>
<path d="M590.00,675.45 L593.32,676.39 L597.96,677.69 L603.44,679.23 L609.26,680.87 L614.94,682.51 L620.00,684.00 L624.55,685.38 L629.00,686.74 L633.31,688.10 L637.44,689.43 L641.35,690.73 L645.00,692.00 L648.39,693.25 L651.56,694.48 L654.50,695.69 L657.22,696.85 L659.72,697.96 L662.00,699.00 L663.99,699.93 L665.69,700.74 L667.17,701.51 L668.50,702.27 L669.75,703.08 L671.00,704.00 L672.28,705.12 L673.53,706.41 L674.71,707.76 L675.77,709.04 L676.65,710.13 L677.30,710.90" stroke="#e8453c" stroke-width="0.9" fill="none" stroke-linejoin="round"/>
<path d="M590.00,675.45 L593.92,676.27 L599.44,677.39 L605.94,678.73 L612.78,680.17 L619.34,681.63 L625.00,683.00 L629.86,684.34 L634.44,685.73 L638.75,687.13 L642.78,688.50 L646.53,689.81 L650.00,691.00 L653.11,692.06 L655.84,693.02 L658.29,693.91 L660.57,694.76 L662.77,695.61 L665.00,696.50 L667.35,697.48 L669.76,698.54 L672.09,699.59 L674.21,700.57 L675.99,701.40 L677.30,702.00" stroke="#1a1a1a" stroke-width="0.9" fill="none" stroke-linejoin="round"/>
<path d="M605.00,675.45 L607.18,676.10 L610.19,676.95 L613.75,677.98 L617.59,679.17 L621.44,680.52 L625.00,682.00 L628.39,683.65 L631.85,685.49 L635.31,687.47 L638.70,689.58 L641.96,691.76 L645.00,694.00 L647.87,696.51 L650.64,699.37 L653.26,702.31 L655.72,705.07 L657.97,707.39 L660.00,709.00 L661.75,709.71 L663.23,709.70 L664.51,709.25 L665.66,708.63 L666.73,708.12 L667.80,708.00 L668.83,708.25 L669.76,708.64 L670.62,709.14 L671.43,709.73 L672.22,710.36 L673.00,711.00 L673.82,711.74 L674.66,712.61 L675.48,713.54 L676.22,714.42 L676.84,715.17 L677.30,715.70" stroke="#cc6ad0" stroke-width="0.9" fill="none" stroke-linejoin="round"/>
<path d="M652.00,675.45 L653.12,676.99 L654.70,679.09 L656.56,681.60 L658.52,684.36 L660.39,687.21 L662.00,690.00 L663.36,692.78 L664.63,695.67 L665.81,698.66 L666.93,701.72 L667.98,704.84 L669.00,708.00 L669.97,711.24 L670.88,714.58 L671.73,717.98 L672.53,721.39 L673.29,724.74 L674.00,728.00 L674.69,731.36 L675.35,734.90 L675.96,738.40 L676.51,741.62 L676.96,744.33 L677.30,746.30" stroke="#1a1a1a" stroke-width="0.9" fill="none" stroke-linejoin="round"/>
<path d="M662.00,675.45 L662.78,676.80 L663.89,678.65 L665.19,680.85 L666.56,683.24 L667.87,685.68 L669.00,688.00 L669.97,690.26 L670.88,692.60 L671.73,694.98 L672.53,697.36 L673.29,699.71 L674.00,702.00 L674.69,704.36 L675.35,706.86 L675.96,709.33 L676.51,711.60 L676.96,713.51 L677.30,714.90" stroke="#1a1a1a" stroke-width="0.9" fill="none" stroke-linejoin="round"/>
<path d="M663.00,675.45 L663.76,675.91 L664.80,676.52 L666.04,677.26 L667.39,678.10 L668.73,679.02 L670.00,680.00 L671.28,681.17 L672.68,682.56 L674.09,684.03 L675.40,685.45 L676.50,686.65 L677.30,687.50" stroke="#3f63d0" stroke-width="0.9" fill="none" stroke-linejoin="round"/>
<path d="M649.30,675.45 L650.23,674.89 L651.51,674.11 L653.02,673.19 L654.68,672.23 L656.37,671.30 L658.00,670.50 L659.64,669.86 L661.39,669.32 L663.17,668.82 L664.91,668.30 L666.55,667.71 L668.00,667.00 L669.26,666.19 L670.40,665.32 L671.42,664.39 L672.35,663.37 L673.20,662.24 L674.00,661.00 L674.74,659.49 L675.42,657.68 L676.02,655.77 L676.54,653.95 L676.97,652.40 L677.30,651.30" stroke="#86dfe8" stroke-width="0.9" fill="none" stroke-linejoin="round"/>
<path d="M617.90,675.45 L619.72,674.31 L622.20,672.84 L625.16,671.04 L628.40,668.95 L631.74,666.59 L635.00,664.00 L638.34,660.95 L641.94,657.37 L645.65,653.53 L649.29,649.69 L652.69,646.09 L655.70,643.00 L658.27,640.52 L660.53,638.47 L662.56,636.66 L664.43,634.93 L666.22,633.10 L668.00,631.00 L669.83,628.43 L671.67,625.49 L673.42,622.45 L675.00,619.58 L676.32,617.14 L677.30,615.40" stroke="#6cc93c" stroke-width="0.9" fill="none" stroke-linejoin="round"/>
<path d="M631.50,675.45 L633.28,673.94 L635.74,671.91 L638.66,669.48 L641.82,666.76 L645.01,663.90 L648.00,661.00 L650.91,657.93 L653.94,654.55 L656.99,651.02 L659.97,647.48 L662.81,644.09 L665.40,641.00 L667.84,638.07 L670.21,635.16 L672.44,632.40 L674.42,629.91 L676.07,627.84 L677.30,626.30" stroke="#6cc93c" stroke-width="0.9" fill="none" stroke-linejoin="round"/>
<path d="M649.30,675.45 L649.91,674.84 L650.75,674.16 L651.74,673.28 L652.83,672.04 L653.94,670.33 L655.00,668.00 L656.03,664.97 L657.07,661.35 L658.14,657.25 L659.24,652.78 L660.36,648.05 L661.50,643.20 L662.70,638.09 L663.95,632.60 L665.23,626.86 L666.50,621.00 L667.74,615.14 L668.90,609.40 L670.02,603.63 L671.14,597.69 L672.21,591.75 L673.22,585.98 L674.12,580.54 L674.90,575.60 L675.54,571.02 L676.06,566.64 L676.47,562.59 L676.81,559.01 L677.08,556.03 L677.30,553.80" stroke="#3f63d0" stroke-width="0.9" fill="none" stroke-linejoin="round"/>
<text x="683.20" y="554.87" font-size="3.0" text-anchor="middle" font-weight="normal" fill="#111" stroke="#111" stroke-width="0.1">##</text>
<text x="683.20" y="577.87" font-size="3.0" text-anchor="middle" font-weight="normal" fill="#111" stroke="#111" stroke-width="0.1">##</text>
<text x="683.20" y="616.47" font-size="3.0" text-anchor="middle" font-weight="normal" fill="#111" stroke="#111" stroke-width="0.1">##</text>
<text x="683.20" y="627.37" font-size="3.0" text-anchor="middle" font-weight="normal" fill="#111" stroke="#111" stroke-width="0.1">##</text>
<text x="683.20" y="652.37" font-size="3.0" text-anchor="middle" font-weight="normal" fill="#111" stroke="#111" stroke-width="0.1">##</text>
<text x="683.20" y="666.87" font-size="3.0" text-anchor="middle" font-weight="normal" fill="#111" stroke="#111" stroke-width="0.1">##</text>
<text x="683.20" y="676.52" font-size="3.0" text-anchor="middle" font-weight="normal" fill="#111" stroke="#111" stroke-width="0.1">##</text>
<text x="683.20" y="677.57" font-size="3.0" text-anchor="middle" font-weight="normal" fill="#111" stroke="#111" stroke-width="0.1">##</text>
<text x="683.20" y="675.07" font-size="3.0" text-anchor="middle" font-weight="normal" fill="#111" stroke="#111" stroke-width="0.1">##</text>
<text x="683.20" y="688.57" font-size="3.0" text-anchor="middle" font-weight="normal" fill="#111" stroke="#111" stroke-width="0.1">##</text>
<text x="683.20" y="703.07" font-size="3.0" text-anchor="middle" font-weight="normal" fill="#111" stroke="#111" stroke-width="0.1">##</text>
<text x="683.20" y="711.97" font-size="3.0" text-anchor="middle" font-weight="normal" fill="#111" stroke="#111" stroke-width="0.1">##</text>
<text x="683.20" y="716.77" font-size="3.0" text-anchor="middle" font-weight="normal" fill="#111" stroke="#111" stroke-width="0.1">##</text>
<text x="683.20" y="747.37" font-size="3.0" text-anchor="middle" font-weight="normal" fill="#111" stroke="#111" stroke-width="0.1">##</text>
<path d="M77.30,977.00 L78.67,976.97 L80.04,976.94 L81.41,976.90 L82.78,976.86 L84.15,976.81 L85.52,976.75 L86.89,976.69 L88.26,976.63 L89.63,976.56 L91.00,976.49 L92.37,976.41 L93.74,976.33 L95.11,976.25 L96.48,976.15 L97.85,976.02 L99.22,975.86 L100.59,975.68 L101.96,975.48 L103.33,975.27 L104.70,975.04 L106.07,974.79 L107.44,974.55 L108.81,974.29 L110.18,974.04 L111.55,973.79 L112.92,973.54 L114.29,973.30 L115.66,973.07 L117.03,972.84 L118.40,972.59 L119.77,972.34 L121.14,972.08 L122.51,971.82 L123.88,971.55 L125.25,971.29 L126.62,971.02 L127.99,970.75 L129.36,970.49 L130.73,970.23 L132.10,969.97 L133.47,969.72 L134.84,969.48 L136.21,969.25 L137.58,969.03 L138.95,968.82 L140.32,968.62 L141.69,968.44 L143.06,968.26 L144.43,968.09 L145.80,967.92 L147.17,967.76 L148.54,967.60 L149.91,967.45 L151.28,967.30 L152.65,967.15 L154.02,967.00 L155.39,966.86 L156.76,966.72 L158.13,966.58 L159.50,966.43 L160.87,966.30 L162.24,966.17 L163.61,966.04 L164.98,965.92 L166.35,965.81 L167.72,965.69 L169.09,965.58 L170.46,965.47 L171.83,965.35 L173.20,965.24 L174.57,965.12 L175.94,965.00 L177.31,964.88 L178.68,964.75 L180.05,964.62 L181.42,964.50 L182.79,964.37 L184.16,964.24 L185.53,964.09 L186.90,963.93 L188.27,963.76 L189.64,963.58 L191.01,963.38 L192.38,963.17 L193.75,962.94 L195.12,962.71 L196.49,962.46 L197.86,962.20 L199.23,961.92 L200.60,961.63 L201.97,961.33 L203.34,960.99 L204.71,960.63 L206.08,960.24 L207.45,959.83 L208.82,959.40 L210.19,958.93 L211.56,958.44 L212.93,957.86 L214.30,957.21 L215.67,956.51 L217.04,955.76 L218.41,954.96 L219.78,954.13 L221.15,953.26 L222.52,952.36 L223.89,951.44 L225.26,950.49 L226.63,949.53 L228.00,948.55 L229.37,947.55 L230.74,946.53 L232.11,945.46 L233.48,944.36 L234.85,943.22 L236.22,942.05 L237.59,940.84 L238.96,939.59 L240.33,938.31 L241.70,936.99 L243.07,935.63 L244.44,934.24 L245.81,932.79 L247.18,931.29 L248.55,929.71 L249.92,928.06 L251.29,926.32 L252.66,924.48 L254.03,922.54 L255.40,920.46 L256.77,918.20 L258.14,915.75 L259.51,913.11 L260.88,910.27 L262.25,907.08 L263.62,903.30 L264.99,899.26 L266.36,894.98 L267.73,890.47 L269.10,885.64 L270.47,880.48 L271.84,875.00 L273.21,869.16 L274.58,862.63 L275.95,855.50 L277.32,848.07 L278.69,840.64 L280.06,832.66 L281.43,824.39 L282.80,815.98 L282.80,867.22 L281.43,873.02 L280.06,878.68 L278.69,884.33 L277.32,890.39 L275.95,896.45 L274.58,902.21 L273.21,907.37 L271.84,912.26 L270.47,916.87 L269.10,921.16 L267.73,925.12 L266.36,928.75 L264.99,932.16 L263.62,935.33 L262.25,938.24 L260.88,941.15 L259.51,943.84 L258.14,946.32 L256.77,948.62 L255.40,950.73 L254.03,952.66 L252.66,954.45 L251.29,956.13 L249.92,957.72 L248.55,959.22 L247.18,960.64 L245.81,961.99 L244.44,963.29 L243.07,964.53 L241.70,965.74 L240.33,966.92 L238.96,968.05 L237.59,969.16 L236.22,970.22 L234.85,971.25 L233.48,972.24 L232.11,973.20 L230.74,974.12 L229.37,975.00 L228.00,975.85 L226.63,976.68 L225.26,977.50 L223.89,978.30 L222.52,979.08 L221.15,979.83 L219.78,980.55 L218.41,981.24 L217.04,981.89 L215.67,982.50 L214.30,983.06 L212.93,983.56 L211.56,984.04 L210.19,984.54 L208.82,985.02 L207.45,985.46 L206.08,985.88 L204.71,986.28 L203.34,986.64 L201.97,986.99 L200.60,987.31 L199.23,987.60 L197.86,987.88 L196.49,988.15 L195.12,988.41 L193.75,988.66 L192.38,988.89 L191.01,989.11 L189.64,989.32 L188.27,989.51 L186.90,989.69 L185.53,989.86 L184.16,990.01 L182.79,990.15 L181.42,990.29 L180.05,990.41 L178.68,990.51 L177.31,990.60 L175.94,990.69 L174.57,990.77 L173.20,990.85 L171.83,990.93 L170.46,991.01 L169.09,991.08 L167.72,991.16 L166.35,991.24 L164.98,991.32 L163.61,991.40 L162.24,991.49 L160.87,991.58 L159.50,991.68 L158.13,991.78 L156.76,991.89 L155.39,991.99 L154.02,992.10 L152.65,992.21 L151.28,992.32 L149.91,992.43 L148.54,992.55 L147.17,992.67 L145.80,992.79 L144.43,992.92 L143.06,993.06 L141.69,993.20 L140.32,993.35 L138.95,993.50 L137.58,993.67 L136.21,993.86 L134.84,994.05 L133.47,994.26 L132.10,994.47 L130.73,994.69 L129.36,994.91 L127.99,995.14 L126.62,995.37 L125.25,995.60 L123.88,995.83 L122.51,996.06 L121.14,996.28 L119.77,996.50 L118.40,996.72 L117.03,996.93 L115.66,997.12 L114.29,997.32 L112.92,997.52 L111.55,997.73 L110.18,997.94 L108.81,998.16 L107.44,998.37 L106.07,998.58 L104.70,998.79 L103.33,998.98 L101.96,999.16 L100.59,999.32 L99.22,999.47 L97.85,999.59 L96.48,999.68 L95.11,999.74 L93.74,999.78 L92.37,999.83 L91.00,999.87 L89.63,999.90 L88.26,999.93 L86.89,999.96 L85.52,999.99 L84.15,1000.00 L82.78,1000.02 L81.41,1000.02 L80.04,1000.02 L78.67,1000.02 L77.30,1000.00Z" fill="#a9a9a9" stroke="#a9a9a9" stroke-width="1.2" stroke-linejoin="round"/>
<line x1="266.23" y1="890.50" x2="269.23" y2="890.50" stroke="#b0b0b0" stroke-width="0.8"/>
<line x1="266.23" y1="925.50" x2="269.23" y2="925.50" stroke="#b0b0b0" stroke-width="0.8"/>
<line x1="267.60" y1="885.50" x2="270.60" y2="885.50" stroke="#b0b0b0" stroke-width="0.8"/>
<line x1="267.60" y1="921.50" x2="270.60" y2="921.50" stroke="#b0b0b0" stroke-width="0.8"/>
<line x1="268.97" y1="880.50" x2="271.97" y2="880.50" stroke="#b0b0b0" stroke-width="0.8"/>
<line x1="268.97" y1="916.50" x2="271.97" y2="916.50" stroke="#b0b0b0" stroke-width="0.8"/>
<line x1="270.34" y1="874.50" x2="273.34" y2="874.50" stroke="#b0b0b0" stroke-width="0.8"/>
<line x1="270.34" y1="912.50" x2="273.34" y2="912.50" stroke="#b0b0b0" stroke-width="0.8"/>
<line x1="271.71" y1="869.50" x2="274.71" y2="869.50" stroke="#b0b0b0" stroke-width="0.8"/>
<line x1="271.71" y1="907.50" x2="274.71" y2="907.50" stroke="#b0b0b0" stroke-width="0.8"/>
<line x1="273.08" y1="862.50" x2="276.08" y2="862.50" stroke="#b0b0b0" stroke-width="0.8"/>
<line x1="273.08" y1="902.50" x2="276.08" y2="902.50" stroke="#b0b0b0" stroke-width="0.8"/>
<line x1="274.45" y1="855.50" x2="277.45" y2="855.50" stroke="#b0b0b0" stroke-width="0.8"/>
<line x1="274.45" y1="896.50" x2="277.45" y2="896.50" stroke="#b0b0b0" stroke-width="0.8"/>
<line x1="275.82" y1="848.50" x2="278.82" y2="848.50" stroke="#b0b0b0" stroke-width="0.8"/>
<line x1="275.82" y1="890.50" x2="278.82" y2="890.50" stroke="#b0b0b0" stroke-width="0.8"/>
<line x1="277.19" y1="840.50" x2="280.19" y2="840.50" stroke="#b0b0b0" stroke-width="0.8"/>
<line x1="277.19" y1="884.50" x2="280.19" y2="884.50" stroke="#b0b0b0" stroke-width="0.8"/>
<line x1="278.56" y1="832.50" x2="281.56" y2="832.50" stroke="#b0b0b0" stroke-width="0.8"/>
<line x1="278.56" y1="878.50" x2="281.56" y2="878.50" stroke="#b0b0b0" stroke-width="0.8"/>
<line x1="279.93" y1="824.50" x2="282.93" y2="824.50" stroke="#b0b0b0" stroke-width="0.8"/>
<line x1="279.93" y1="873.50" x2="282.93" y2="873.50" stroke="#b0b0b0" stroke-width="0.8"/>
<line x1="281.30" y1="815.50" x2="284.30" y2="815.50" stroke="#b0b0b0" stroke-width="0.8"/>
<line x1="281.30" y1="867.50" x2="284.30" y2="867.50" stroke="#b0b0b0" stroke-width="0.8"/>
<path d="M77.30,988.50 L78.67,988.50 L80.04,988.48 L81.41,988.46 L82.78,988.44 L84.15,988.41 L85.52,988.37 L86.89,988.33 L88.26,988.28 L89.63,988.23 L91.00,988.18 L92.37,988.12 L93.74,988.06 L95.11,987.99 L96.48,987.91 L97.85,987.80 L99.22,987.66 L100.59,987.50 L101.96,987.32 L103.33,987.12 L104.70,986.91 L106.07,986.69 L107.44,986.46 L108.81,986.23 L110.18,985.99 L111.55,985.76 L112.92,985.53 L114.29,985.31 L115.66,985.10 L117.03,984.88 L118.40,984.65 L119.77,984.42 L121.14,984.18 L122.51,983.94 L123.88,983.69 L125.25,983.44 L126.62,983.19 L127.99,982.94 L129.36,982.70 L130.73,982.46 L132.10,982.22 L133.47,981.99 L134.84,981.77 L136.21,981.55 L137.58,981.35 L138.95,981.16 L140.32,980.99 L141.69,980.82 L143.06,980.66 L144.43,980.51 L145.80,980.36 L147.17,980.21 L148.54,980.07 L149.91,979.94 L151.28,979.81 L152.65,979.68 L154.02,979.55 L155.39,979.43 L156.76,979.30 L158.13,979.18 L159.50,979.06 L160.87,978.94 L162.24,978.83 L163.61,978.72 L164.98,978.62 L166.35,978.52 L167.72,978.42 L169.09,978.33 L170.46,978.24 L171.83,978.14 L173.20,978.05 L174.57,977.95 L175.94,977.85 L177.31,977.74 L178.68,977.63 L180.05,977.52 L181.42,977.39 L182.79,977.26 L184.16,977.12 L185.53,976.97 L186.90,976.81 L188.27,976.64 L189.64,976.45 L191.01,976.25 L192.38,976.03 L193.75,975.80 L195.12,975.56 L196.49,975.31 L197.86,975.04 L199.23,974.76 L200.60,974.47 L201.97,974.16 L203.34,973.82 L204.71,973.45 L206.08,973.06 L207.45,972.65 L208.82,972.21 L210.19,971.74 L211.56,971.24 L212.93,970.71 L214.30,970.13 L215.67,969.50 L217.04,968.82 L218.41,968.10 L219.78,967.34 L221.15,966.55 L222.52,965.72 L223.89,964.87 L225.26,963.99 L226.63,963.10 L228.00,962.20 L229.37,961.28 L230.74,960.32 L232.11,959.33 L233.48,958.30 L234.85,957.23 L236.22,956.13 L237.59,955.00 L238.96,953.82 L240.33,952.61 L241.70,951.36 L243.07,950.08 L244.44,948.76 L245.81,947.39 L247.18,945.97 L248.55,944.47 L249.92,942.89 L251.29,941.23 L252.66,939.46 L254.03,937.60 L255.40,935.59 L256.77,933.41 L258.14,931.04 L259.51,928.48 L260.88,925.71 L262.25,922.66 L263.62,919.31 L264.99,915.71 L266.36,911.87 L267.73,907.80 L269.10,903.40 L270.47,898.68 L271.84,893.63 L273.21,888.27 L274.58,882.42 L275.95,875.98 L277.32,869.23 L278.69,862.49 L280.06,855.67 L281.43,848.71 L282.80,841.60" stroke="#e8351c" stroke-width="3.0" fill="none" stroke-linejoin="round" stroke-linecap="round"/>
<line x1="77.50" y1="808.30" x2="77.50" y2="1007.00" stroke="#888" stroke-width="0.6" stroke-dasharray="1.5,1.5"/>
<line x1="185.50" y1="808.30" x2="185.50" y2="1007.00" stroke="#888" stroke-width="0.6" stroke-dasharray="1.5,1.5"/>
<rect x="69.50" y="808.50" width="221.00" height="199.00" fill="none" stroke="#666" stroke-width="0.8"/>
<line x1="109.50" y1="1007.00" x2="109.50" y2="1010.20" stroke="#666" stroke-width="0.8"/>
<text x="109.50" y="1021.30" font-size="8.1" text-anchor="middle" font-weight="normal" fill="#000" stroke="#000" stroke-width="0.1">−5</text>
<line x1="153.50" y1="1007.00" x2="153.50" y2="1010.20" stroke="#666" stroke-width="0.8"/>
<text x="153.90" y="1021.30" font-size="8.1" text-anchor="middle" font-weight="normal" fill="#000" stroke="#000" stroke-width="0.1">−4</text>
<line x1="198.50" y1="1007.00" x2="198.50" y2="1010.20" stroke="#666" stroke-width="0.8"/>
<text x="198.30" y="1021.30" font-size="8.1" text-anchor="middle" font-weight="normal" fill="#000" stroke="#000" stroke-width="0.1">−3</text>
<line x1="242.50" y1="1007.00" x2="242.50" y2="1010.20" stroke="#666" stroke-width="0.8"/>
<text x="242.70" y="1021.30" font-size="8.1" text-anchor="middle" font-weight="normal" fill="#000" stroke="#000" stroke-width="0.1">−2</text>
<line x1="287.50" y1="1007.00" x2="287.50" y2="1010.20" stroke="#666" stroke-width="0.8"/>
<text x="287.10" y="1021.30" font-size="8.1" text-anchor="middle" font-weight="normal" fill="#000" stroke="#000" stroke-width="0.1">−1</text>
<line x1="64.40" y1="985.50" x2="69.40" y2="985.50" stroke="#666" stroke-width="0.8"/>
<text x="60.50" y="985.10" font-size="8.1" text-anchor="middle" font-weight="normal" fill="#000" transform="rotate(-90 60.50 985.10)" stroke="#000" stroke-width="0.1">0.05</text>
<line x1="64.40" y1="956.50" x2="69.40" y2="956.50" stroke="#666" stroke-width="0.8"/>
<text x="60.50" y="956.70" font-size="8.1" text-anchor="middle" font-weight="normal" fill="#000" transform="rotate(-90 60.50 956.70)" stroke="#000" stroke-width="0.1">0.10</text>
<line x1="64.40" y1="928.50" x2="69.40" y2="928.50" stroke="#666" stroke-width="0.8"/>
<text x="60.50" y="928.30" font-size="8.1" text-anchor="middle" font-weight="normal" fill="#000" transform="rotate(-90 60.50 928.30)" stroke="#000" stroke-width="0.1">0.15</text>
<line x1="64.40" y1="899.50" x2="69.40" y2="899.50" stroke="#666" stroke-width="0.8"/>
<text x="60.50" y="899.90" font-size="8.1" text-anchor="middle" font-weight="normal" fill="#000" transform="rotate(-90 60.50 899.90)" stroke="#000" stroke-width="0.1">0.20</text>
<line x1="64.40" y1="871.50" x2="69.40" y2="871.50" stroke="#666" stroke-width="0.8"/>
<text x="60.50" y="871.50" font-size="8.1" text-anchor="middle" font-weight="normal" fill="#000" transform="rotate(-90 60.50 871.50)" stroke="#000" stroke-width="0.1">0.25</text>
<line x1="64.40" y1="843.50" x2="69.40" y2="843.50" stroke="#666" stroke-width="0.8"/>
<text x="60.50" y="843.10" font-size="8.1" text-anchor="middle" font-weight="normal" fill="#000" transform="rotate(-90 60.50 843.10)" stroke="#000" stroke-width="0.1">0.30</text>
<line x1="64.40" y1="814.50" x2="69.40" y2="814.50" stroke="#666" stroke-width="0.8"/>
<text x="60.50" y="814.70" font-size="8.1" text-anchor="middle" font-weight="normal" fill="#000" transform="rotate(-90 60.50 814.70)" stroke="#000" stroke-width="0.1">0.35</text>
<text x="78.40" y="799.70" font-size="8.1" text-anchor="middle" font-weight="normal" fill="#000" stroke="#000" stroke-width="0.1">15</text>
<text x="90.90" y="799.70" font-size="8.1" text-anchor="middle" font-weight="normal" fill="#000" stroke="#000" stroke-width="0.1">14</text>
<text x="103.10" y="799.70" font-size="8.1" text-anchor="middle" font-weight="normal" fill="#000" stroke="#000" stroke-width="0.1">13</text>
<text x="116.00" y="799.70" font-size="8.1" text-anchor="middle" font-weight="normal" fill="#000" stroke="#000" stroke-width="0.1">14</text>
<text x="128.40" y="799.70" font-size="8.1" text-anchor="middle" font-weight="normal" fill="#000" stroke="#000" stroke-width="0.1">15</text>
<text x="140.90" y="799.70" font-size="8.1" text-anchor="middle" font-weight="normal" fill="#000" stroke="#000" stroke-width="0.1">15</text>
<text x="153.30" y="799.70" font-size="8.1" text-anchor="middle" font-weight="normal" fill="#000" stroke="#000" stroke-width="0.1">13</text>
<text x="166.10" y="799.70" font-size="8.1" text-anchor="middle" font-weight="normal" fill="#000" stroke="#000" stroke-width="0.1">12</text>
<text x="178.60" y="799.70" font-size="8.1" text-anchor="middle" font-weight="normal" fill="#000" stroke="#000" stroke-width="0.1">12</text>
<text x="190.80" y="799.70" font-size="8.1" text-anchor="middle" font-weight="normal" fill="#000" stroke="#000" stroke-width="0.1">11</text>
<text x="203.70" y="799.70" font-size="8.1" text-anchor="middle" font-weight="normal" fill="#000" stroke="#000" stroke-width="0.1">11</text>
<text x="216.20" y="799.70" font-size="8.1" text-anchor="middle" font-weight="normal" fill="#000" stroke="#000" stroke-width="0.1">10</text>
<text x="226.20" y="799.70" font-size="8.1" text-anchor="middle" font-weight="normal" fill="#000" stroke="#000" stroke-width="0.1">9</text>
<text x="235.30" y="799.70" font-size="8.1" text-anchor="middle" font-weight="normal" fill="#000" stroke="#000" stroke-width="0.1">7</text>
<text x="244.50" y="799.70" font-size="8.1" text-anchor="middle" font-weight="normal" fill="#000" stroke="#000" stroke-width="0.1">5</text>
<text x="253.50" y="799.70" font-size="8.1" text-anchor="middle" font-weight="normal" fill="#000" stroke="#000" stroke-width="0.1">4</text>
<text x="262.30" y="799.70" font-size="8.1" text-anchor="middle" font-weight="normal" fill="#000" stroke="#000" stroke-width="0.1">3</text>
<text x="271.30" y="799.70" font-size="8.1" text-anchor="middle" font-weight="normal" fill="#000" stroke="#000" stroke-width="0.1">2</text>
<text x="280.40" y="799.70" font-size="8.1" text-anchor="middle" font-weight="normal" fill="#000" stroke="#000" stroke-width="0.1">1</text>
<text x="177.90" y="1035.03" font-size="9.3" text-anchor="middle" font-weight="normal" fill="#000" stroke="#000" stroke-width="0.18">Log (λ)</text>
<text x="38.78" y="903.00" font-size="9.45" text-anchor="middle" font-weight="normal" fill="#000" transform="rotate(-90 38.78 903.00)" stroke="#000" stroke-width="0.18">Mean−Squared Error</text>
<text x="18.50" y="806.00" font-size="15" text-anchor="middle" font-weight="normal" fill="#000" stroke="#000" stroke-width="0.2">g</text>
<rect x="370.50" y="806.50" width="287.00" height="190.00" fill="none" stroke="#666" stroke-width="0.8"/>
<line x1="380.50" y1="996.90" x2="380.50" y2="1000.50" stroke="#666" stroke-width="0.8"/>
<text x="380.80" y="1009.04" font-size="8.5" text-anchor="middle" font-weight="normal" fill="#000" stroke="#000" stroke-width="0.1">0</text>
<line x1="433.50" y1="996.90" x2="433.50" y2="1000.50" stroke="#666" stroke-width="0.8"/>
<text x="433.75" y="1009.04" font-size="8.5" text-anchor="middle" font-weight="normal" fill="#000" stroke="#000" stroke-width="0.1">100</text>
<line x1="486.50" y1="996.90" x2="486.50" y2="1000.50" stroke="#666" stroke-width="0.8"/>
<text x="486.70" y="1009.04" font-size="8.5" text-anchor="middle" font-weight="normal" fill="#000" stroke="#000" stroke-width="0.1">200</text>
<line x1="539.50" y1="996.90" x2="539.50" y2="1000.50" stroke="#666" stroke-width="0.8"/>
<text x="539.65" y="1009.04" font-size="8.5" text-anchor="middle" font-weight="normal" fill="#000" stroke="#000" stroke-width="0.1">300</text>
<line x1="592.50" y1="996.90" x2="592.50" y2="1000.50" stroke="#666" stroke-width="0.8"/>
<text x="592.60" y="1009.04" font-size="8.5" text-anchor="middle" font-weight="normal" fill="#000" stroke="#000" stroke-width="0.1">400</text>
<line x1="645.50" y1="996.90" x2="645.50" y2="1000.50" stroke="#666" stroke-width="0.8"/>
<text x="645.55" y="1009.04" font-size="8.5" text-anchor="middle" font-weight="normal" fill="#000" stroke="#000" stroke-width="0.1">500</text>
<line x1="366.80" y1="990.50" x2="370.50" y2="990.50" stroke="#666" stroke-width="0.8"/>
<text x="364.54" y="990.40" font-size="8.5" text-anchor="middle" font-weight="normal" fill="#000" transform="rotate(-90 364.54 990.40)" stroke="#000" stroke-width="0.1">0.00</text>
<line x1="366.80" y1="957.50" x2="370.50" y2="957.50" stroke="#666" stroke-width="0.8"/>
<text x="364.54" y="957.34" font-size="8.5" text-anchor="middle" font-weight="normal" fill="#000" transform="rotate(-90 364.54 957.34)" stroke="#000" stroke-width="0.1">0.05</text>
<line x1="366.80" y1="924.50" x2="370.50" y2="924.50" stroke="#666" stroke-width="0.8"/>
<text x="364.54" y="924.28" font-size="8.5" text-anchor="middle" font-weight="normal" fill="#000" transform="rotate(-90 364.54 924.28)" stroke="#000" stroke-width="0.1">0.10</text>
<line x1="366.80" y1="891.50" x2="370.50" y2="891.50" stroke="#666" stroke-width="0.8"/>
<text x="364.54" y="891.22" font-size="8.5" text-anchor="middle" font-weight="normal" fill="#000" transform="rotate(-90 364.54 891.22)" stroke="#000" stroke-width="0.1">0.15</text>
<line x1="366.80" y1="858.50" x2="370.50" y2="858.50" stroke="#666" stroke-width="0.8"/>
<text x="364.54" y="858.16" font-size="8.5" text-anchor="middle" font-weight="normal" fill="#000" transform="rotate(-90 364.54 858.16)" stroke="#000" stroke-width="0.1">0.20</text>
<line x1="366.80" y1="825.50" x2="370.50" y2="825.50" stroke="#666" stroke-width="0.8"/>
<text x="364.54" y="825.10" font-size="8.5" text-anchor="middle" font-weight="normal" fill="#000" transform="rotate(-90 364.54 825.10)" stroke="#000" stroke-width="0.1">0.25</text>
<text x="507.90" y="799.30" font-size="9.49" text-anchor="middle" font-weight="bold" fill="#000" stroke="#000" stroke-width="0.18">randomForest origin</text>
<text x="515.40" y="1022.08" font-size="9.45" text-anchor="middle" font-weight="normal" fill="#000" stroke="#000" stroke-width="0.18">trees</text>
<text x="349.38" y="897.00" font-size="9.45" text-anchor="middle" font-weight="normal" fill="#000" transform="rotate(-90 349.38 897.00)" stroke="#000" stroke-width="0.18">Error</text>
<text x="334.70" y="808.80" font-size="15.5" text-anchor="middle" font-weight="normal" fill="#000" stroke="#000" stroke-width="0.25">h</text>
<path d="M380.90,916.70 L381.40,935.90 L382.30,813.40 L383.40,834.20 L384.40,834.20 L385.20,870.00 L386.30,879.40 L389.20,879.40 L389.70,916.70 L391.50,916.70 L392.70,843.30 L393.80,879.40 L394.90,879.40 L395.60,916.70 L397.00,916.70 L397.60,879.40 L399.90,879.40 L401.50,916.70 L646.30,916.70" stroke="#d9453f" stroke-width="1.0" fill="none" stroke-linejoin="round"/>
<path d="M381.00,969.80 L382.00,955.00 L383.00,940.00 L384.00,935.90 L385.20,946.10 L386.50,955.00 L388.00,958.00 L389.70,960.80 L391.00,952.00 L392.40,946.00 L394.20,958.50 L395.50,955.00 L397.60,954.00 L399.90,959.70 L401.50,958.00 L403.30,960.80 L406.00,963.00 L407.80,966.40 L410.00,960.80 L412.80,966.40 L413.40,968.20 L646.30,968.20" stroke="#9a5050" stroke-width="0.9" fill="none" stroke-linejoin="round" stroke-dasharray="2.2,2"/>
<path d="M380.90,990.20 L381.60,976.00 L382.40,979.00 L383.20,962.00 L384.20,960.80 L385.00,966.00 L385.60,962.00 L386.40,971.60 L398.60,971.60 L399.20,981.00 L399.80,971.60 L407.50,971.60 L408.20,981.00 L410.40,981.00 L411.20,971.60 L412.20,971.60 L412.90,981.10 L646.30,981.10" stroke="#52b04f" stroke-width="0.9" fill="none" stroke-linejoin="round"/>
<text x="335.80" y="1052.16" font-size="11.06" text-anchor="middle" font-weight="normal" fill="#000" stroke="#000" stroke-width="0.18">Importance of Variables</text>
<text x="15.60" y="1068.20" font-size="15.5" text-anchor="middle" font-weight="normal" fill="#000" stroke="#000" stroke-width="0.25">i</text>
<rect x="149.50" y="1069.50" width="157.00" height="230.00" fill="none" stroke="#777" stroke-width="0.8"/>
<line x1="150.60" y1="1086.50" x2="303.10" y2="1086.50" stroke="#e2e2e2" stroke-width="0.6" stroke-dasharray="1,1.5"/>
<circle cx="300.6" cy="1086.90" r="1.3" fill="#000"/>
<text x="142.50" y="1089.71" font-size="7.85" text-anchor="end" font-weight="normal" fill="#000" stroke="#000" stroke-width="0.1">PDIA5</text>
<line x1="150.60" y1="1104.50" x2="303.10" y2="1104.50" stroke="#e2e2e2" stroke-width="0.6" stroke-dasharray="1,1.5"/>
<circle cx="294.1" cy="1104.63" r="1.3" fill="#000"/>
<text x="142.50" y="1107.44" font-size="7.85" text-anchor="end" font-weight="normal" fill="#000" stroke="#000" stroke-width="0.1">EPB41L3</text>
<line x1="150.60" y1="1122.50" x2="303.10" y2="1122.50" stroke="#e2e2e2" stroke-width="0.6" stroke-dasharray="1,1.5"/>
<circle cx="283.6" cy="1122.35" r="1.3" fill="#000"/>
<text x="142.50" y="1125.16" font-size="7.85" text-anchor="end" font-weight="normal" fill="#000" stroke="#000" stroke-width="0.1">HSD17B3</text>
<line x1="150.60" y1="1140.50" x2="303.10" y2="1140.50" stroke="#e2e2e2" stroke-width="0.6" stroke-dasharray="1,1.5"/>
<circle cx="240.7" cy="1140.08" r="1.3" fill="#000"/>
<text x="142.50" y="1142.89" font-size="7.85" text-anchor="end" font-weight="normal" fill="#000" stroke="#000" stroke-width="0.1">TRPV3</text>
<line x1="150.60" y1="1157.50" x2="303.10" y2="1157.50" stroke="#e2e2e2" stroke-width="0.6" stroke-dasharray="1,1.5"/>
<circle cx="226.8" cy="1157.81" r="1.3" fill="#000"/>
<text x="142.50" y="1160.62" font-size="7.85" text-anchor="end" font-weight="normal" fill="#000" stroke="#000" stroke-width="0.1">NDRG1</text>
<line x1="150.60" y1="1175.50" x2="303.10" y2="1175.50" stroke="#e2e2e2" stroke-width="0.6" stroke-dasharray="1,1.5"/>
<circle cx="215.0" cy="1175.54" r="1.3" fill="#000"/>
<text x="142.50" y="1178.35" font-size="7.85" text-anchor="end" font-weight="normal" fill="#000" stroke="#000" stroke-width="0.1">HSD3B2</text>
<line x1="150.60" y1="1193.50" x2="303.10" y2="1193.50" stroke="#e2e2e2" stroke-width="0.6" stroke-dasharray="1,1.5"/>
<circle cx="209.2" cy="1193.26" r="1.3" fill="#000"/>
<text x="142.50" y="1196.07" font-size="7.85" text-anchor="end" font-weight="normal" fill="#000" stroke="#000" stroke-width="0.1">MAP3K2</text>
<line x1="150.60" y1="1210.50" x2="303.10" y2="1210.50" stroke="#e2e2e2" stroke-width="0.6" stroke-dasharray="1,1.5"/>
<circle cx="203.3" cy="1210.99" r="1.3" fill="#000"/>
<text x="142.50" y="1213.80" font-size="7.85" text-anchor="end" font-weight="normal" fill="#000" stroke="#000" stroke-width="0.1">ST5</text>
<line x1="150.60" y1="1228.50" x2="303.10" y2="1228.50" stroke="#e2e2e2" stroke-width="0.6" stroke-dasharray="1,1.5"/>
<circle cx="202.4" cy="1228.72" r="1.3" fill="#000"/>
<text x="142.50" y="1231.53" font-size="7.85" text-anchor="end" font-weight="normal" fill="#000" stroke="#000" stroke-width="0.1">PRKG2</text>
<line x1="150.60" y1="1246.50" x2="303.10" y2="1246.50" stroke="#e2e2e2" stroke-width="0.6" stroke-dasharray="1,1.5"/>
<circle cx="187.3" cy="1246.45" r="1.3" fill="#000"/>
<text x="142.50" y="1249.26" font-size="7.85" text-anchor="end" font-weight="normal" fill="#000" stroke="#000" stroke-width="0.1">CYBA</text>
<line x1="150.60" y1="1264.50" x2="303.10" y2="1264.50" stroke="#e2e2e2" stroke-width="0.6" stroke-dasharray="1,1.5"/>
<circle cx="179.5" cy="1264.17" r="1.3" fill="#000"/>
<text x="142.50" y="1266.98" font-size="7.85" text-anchor="end" font-weight="normal" fill="#000" stroke="#000" stroke-width="0.1">PUS10</text>
<line x1="150.60" y1="1281.50" x2="303.10" y2="1281.50" stroke="#e2e2e2" stroke-width="0.6" stroke-dasharray="1,1.5"/>
<circle cx="155.5" cy="1281.90" r="1.3" fill="#000"/>
<text x="142.50" y="1284.71" font-size="7.85" text-anchor="end" font-weight="normal" fill="#000" stroke="#000" stroke-width="0.1">CCND3</text>
<line x1="180.50" y1="1299.50" x2="180.50" y2="1303.10" stroke="#777" stroke-width="0.8"/>
<text x="180.10" y="1310.31" font-size="7.85" text-anchor="middle" font-weight="normal" fill="#000" stroke="#000" stroke-width="0.1">6</text>
<line x1="220.50" y1="1299.50" x2="220.50" y2="1303.10" stroke="#777" stroke-width="0.8"/>
<text x="220.30" y="1310.31" font-size="7.85" text-anchor="middle" font-weight="normal" fill="#000" stroke="#000" stroke-width="0.1">8</text>
<line x1="260.50" y1="1299.50" x2="260.50" y2="1303.10" stroke="#777" stroke-width="0.8"/>
<text x="260.50" y="1310.31" font-size="7.85" text-anchor="middle" font-weight="normal" fill="#000" stroke="#000" stroke-width="0.1">10</text>
<line x1="300.50" y1="1299.50" x2="300.50" y2="1303.10" stroke="#777" stroke-width="0.8"/>
<text x="300.70" y="1310.31" font-size="7.85" text-anchor="middle" font-weight="normal" fill="#000" stroke="#000" stroke-width="0.1">12</text>
<text x="226.90" y="1325.38" font-size="9.44" text-anchor="middle" font-weight="normal" fill="#000" stroke="#000" stroke-width="0.18">MeanDecreaseAccuracy</text>
<rect x="418.50" y="1067.50" width="157.00" height="231.00" fill="none" stroke="#777" stroke-width="0.8"/>
<line x1="419.50" y1="1085.50" x2="572.30" y2="1085.50" stroke="#e2e2e2" stroke-width="0.6" stroke-dasharray="1,1.5"/>
<circle cx="569.8" cy="1085.60" r="1.3" fill="#000"/>
<text x="409.50" y="1088.41" font-size="7.85" text-anchor="end" font-weight="normal" fill="#000" stroke="#000" stroke-width="0.1">PDIA5</text>
<line x1="419.50" y1="1103.50" x2="572.30" y2="1103.50" stroke="#e2e2e2" stroke-width="0.6" stroke-dasharray="1,1.5"/>
<circle cx="567.9" cy="1103.33" r="1.3" fill="#000"/>
<text x="409.50" y="1106.14" font-size="7.85" text-anchor="end" font-weight="normal" fill="#000" stroke="#000" stroke-width="0.1">EPB41L3</text>
<line x1="419.50" y1="1121.50" x2="572.30" y2="1121.50" stroke="#e2e2e2" stroke-width="0.6" stroke-dasharray="1,1.5"/>
<circle cx="529.9" cy="1121.05" r="1.3" fill="#000"/>
<text x="409.50" y="1123.86" font-size="7.85" text-anchor="end" font-weight="normal" fill="#000" stroke="#000" stroke-width="0.1">HSD17B3</text>
<line x1="419.50" y1="1138.50" x2="572.30" y2="1138.50" stroke="#e2e2e2" stroke-width="0.6" stroke-dasharray="1,1.5"/>
<circle cx="509.9" cy="1138.78" r="1.3" fill="#000"/>
<text x="409.50" y="1141.59" font-size="7.85" text-anchor="end" font-weight="normal" fill="#000" stroke="#000" stroke-width="0.1">NDRG1</text>
<line x1="419.50" y1="1156.50" x2="572.30" y2="1156.50" stroke="#e2e2e2" stroke-width="0.6" stroke-dasharray="1,1.5"/>
<circle cx="492.3" cy="1156.51" r="1.3" fill="#000"/>
<text x="409.50" y="1159.32" font-size="7.85" text-anchor="end" font-weight="normal" fill="#000" stroke="#000" stroke-width="0.1">TRPV3</text>
<line x1="419.50" y1="1174.50" x2="572.30" y2="1174.50" stroke="#e2e2e2" stroke-width="0.6" stroke-dasharray="1,1.5"/>
<circle cx="486.4" cy="1174.24" r="1.3" fill="#000"/>
<text x="409.50" y="1177.05" font-size="7.85" text-anchor="end" font-weight="normal" fill="#000" stroke="#000" stroke-width="0.1">MAP3K2</text>
<line x1="419.50" y1="1191.50" x2="572.30" y2="1191.50" stroke="#e2e2e2" stroke-width="0.6" stroke-dasharray="1,1.5"/>
<circle cx="475.0" cy="1191.96" r="1.3" fill="#000"/>
<text x="409.50" y="1194.77" font-size="7.85" text-anchor="end" font-weight="normal" fill="#000" stroke="#000" stroke-width="0.1">PRKG2</text>
<line x1="419.50" y1="1209.50" x2="572.30" y2="1209.50" stroke="#e2e2e2" stroke-width="0.6" stroke-dasharray="1,1.5"/>
<circle cx="460.2" cy="1209.69" r="1.3" fill="#000"/>
<text x="409.50" y="1212.50" font-size="7.85" text-anchor="end" font-weight="normal" fill="#000" stroke="#000" stroke-width="0.1">ST5</text>
<line x1="419.50" y1="1227.50" x2="572.30" y2="1227.50" stroke="#e2e2e2" stroke-width="0.6" stroke-dasharray="1,1.5"/>
<circle cx="458.6" cy="1227.42" r="1.3" fill="#000"/>
<text x="409.50" y="1230.23" font-size="7.85" text-anchor="end" font-weight="normal" fill="#000" stroke="#000" stroke-width="0.1">HSD3B2</text>
<line x1="419.50" y1="1245.50" x2="572.30" y2="1245.50" stroke="#e2e2e2" stroke-width="0.6" stroke-dasharray="1,1.5"/>
<circle cx="458.0" cy="1245.15" r="1.3" fill="#000"/>
<text x="409.50" y="1247.96" font-size="7.85" text-anchor="end" font-weight="normal" fill="#000" stroke="#000" stroke-width="0.1">PUS10</text>
<line x1="419.50" y1="1262.50" x2="572.30" y2="1262.50" stroke="#e2e2e2" stroke-width="0.6" stroke-dasharray="1,1.5"/>
<circle cx="439.5" cy="1262.87" r="1.3" fill="#000"/>
<text x="409.50" y="1265.68" font-size="7.85" text-anchor="end" font-weight="normal" fill="#000" stroke="#000" stroke-width="0.1">CYBA</text>
<line x1="419.50" y1="1280.50" x2="572.30" y2="1280.50" stroke="#e2e2e2" stroke-width="0.6" stroke-dasharray="1,1.5"/>
<circle cx="432.7" cy="1280.60" r="1.3" fill="#000"/>
<text x="409.50" y="1283.41" font-size="7.85" text-anchor="end" font-weight="normal" fill="#000" stroke="#000" stroke-width="0.1">CCND3</text>
<line x1="424.50" y1="1298.20" x2="424.50" y2="1301.80" stroke="#777" stroke-width="0.8"/>
<text x="424.60" y="1309.41" font-size="7.85" text-anchor="middle" font-weight="normal" fill="#000" stroke="#000" stroke-width="0.1">0</text>
<line x1="451.50" y1="1298.20" x2="451.50" y2="1301.80" stroke="#777" stroke-width="0.8"/>
<text x="451.84" y="1309.41" font-size="7.85" text-anchor="middle" font-weight="normal" fill="#000" stroke="#000" stroke-width="0.1">1</text>
<line x1="479.50" y1="1298.20" x2="479.50" y2="1301.80" stroke="#777" stroke-width="0.8"/>
<text x="479.08" y="1309.41" font-size="7.85" text-anchor="middle" font-weight="normal" fill="#000" stroke="#000" stroke-width="0.1">2</text>
<line x1="506.50" y1="1298.20" x2="506.50" y2="1301.80" stroke="#777" stroke-width="0.8"/>
<text x="506.32" y="1309.41" font-size="7.85" text-anchor="middle" font-weight="normal" fill="#000" stroke="#000" stroke-width="0.1">3</text>
<line x1="533.50" y1="1298.20" x2="533.50" y2="1301.80" stroke="#777" stroke-width="0.8"/>
<text x="533.56" y="1309.41" font-size="7.85" text-anchor="middle" font-weight="normal" fill="#000" stroke="#000" stroke-width="0.1">4</text>
<line x1="560.50" y1="1298.20" x2="560.50" y2="1301.80" stroke="#777" stroke-width="0.8"/>
<text x="560.80" y="1309.41" font-size="7.85" text-anchor="middle" font-weight="normal" fill="#000" stroke="#000" stroke-width="0.1">5</text>
<text x="491.00" y="1325.36" font-size="9.38" text-anchor="middle" font-weight="normal" fill="#000" stroke="#000" stroke-width="0.18">MeanDecreaseGini</text>
</svg></body></html>
